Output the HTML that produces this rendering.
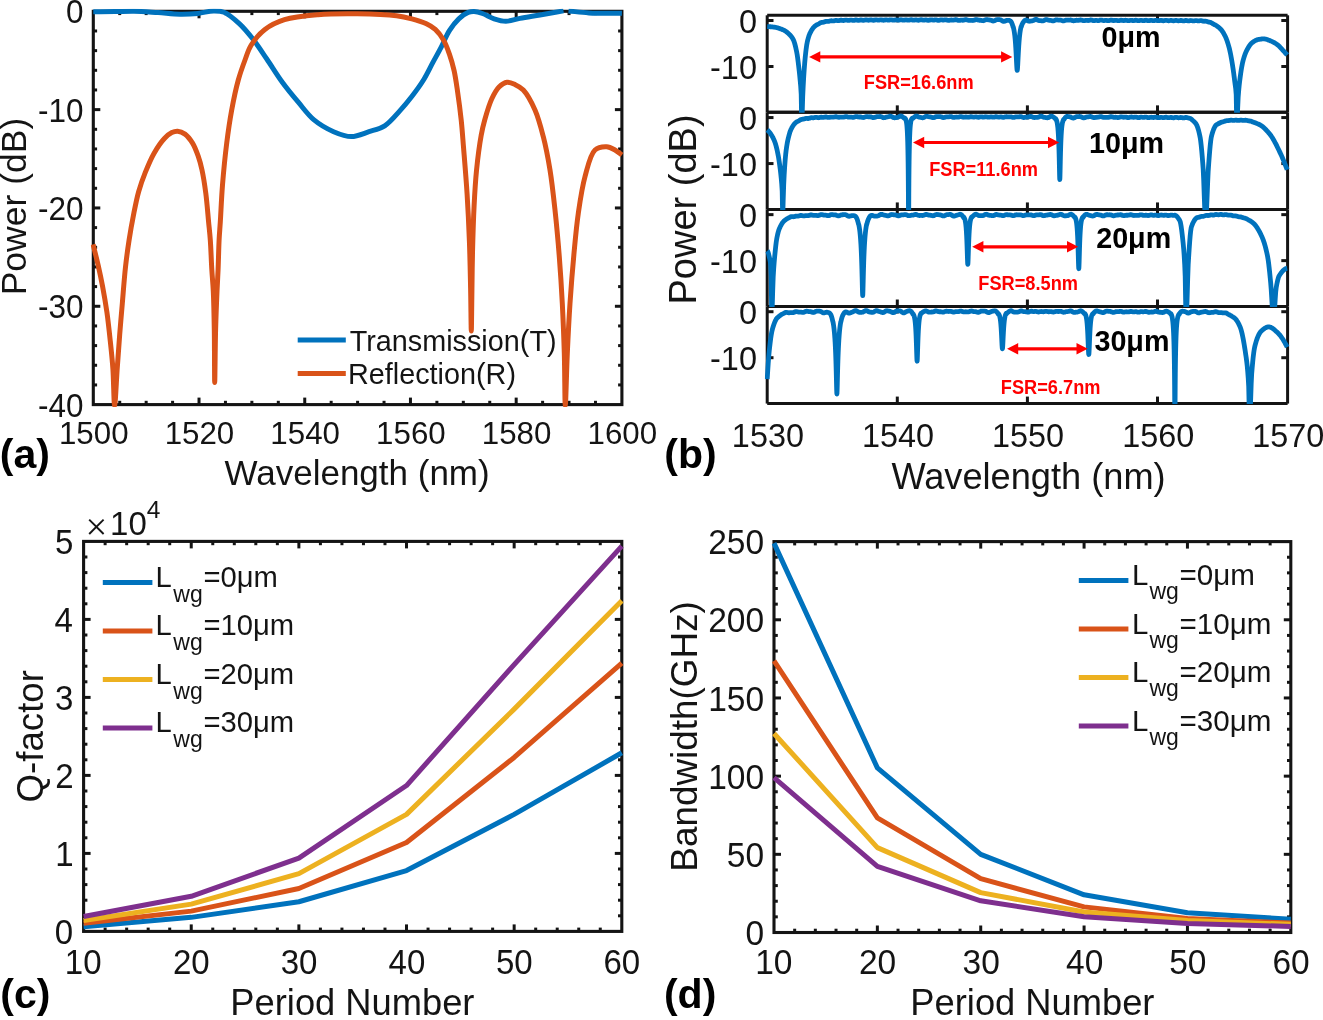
<!DOCTYPE html>
<html><head><meta charset="utf-8"><style>html,body{margin:0;padding:0;background:#fff;overflow:hidden}svg{display:block;will-change:transform}</style></head>
<body>
<svg width="1323" height="1020" viewBox="0 0 1323 1020" font-family="'Liberation Sans', sans-serif">
<defs><clipPath id="c1"><rect x="90.80" y="8.80" width="533.60" height="398.30"/></clipPath><clipPath id="c2"><rect x="90.80" y="8.80" width="533.60" height="398.30"/></clipPath><clipPath id="c3"><rect x="764.70" y="12.80" width="525.40" height="100.07"/></clipPath><clipPath id="c4"><rect x="764.70" y="109.87" width="525.40" height="100.07"/></clipPath><clipPath id="c5"><rect x="764.70" y="206.94" width="525.40" height="100.07"/></clipPath><clipPath id="c6"><rect x="764.70" y="304.01" width="525.40" height="100.07"/></clipPath><clipPath id="c7"><rect x="81.10" y="538.90" width="543.20" height="395.00"/></clipPath><clipPath id="c8"><rect x="81.10" y="538.90" width="543.20" height="395.00"/></clipPath><clipPath id="c9"><rect x="81.10" y="538.90" width="543.20" height="395.00"/></clipPath><clipPath id="c10"><rect x="81.10" y="538.90" width="543.20" height="395.00"/></clipPath><clipPath id="c11"><rect x="771.50" y="539.10" width="521.80" height="395.90"/></clipPath><clipPath id="c12"><rect x="771.50" y="539.10" width="521.80" height="395.90"/></clipPath><clipPath id="c13"><rect x="771.50" y="539.10" width="521.80" height="395.90"/></clipPath><clipPath id="c14"><rect x="771.50" y="539.10" width="521.80" height="395.90"/></clipPath></defs>
<rect width="1323" height="1020" fill="#ffffff"/>
<rect x="93.30" y="11.30" width="528.60" height="393.30" fill="none" stroke="#141414" stroke-width="3.1" stroke-linejoin="miter"/>
<line x1="199.02" y1="404.60" x2="199.02" y2="397.60" stroke="#141414" stroke-width="3.0" stroke-linecap="butt"/>
<line x1="199.02" y1="11.30" x2="199.02" y2="18.30" stroke="#141414" stroke-width="3.0" stroke-linecap="butt"/>
<line x1="304.74" y1="404.60" x2="304.74" y2="397.60" stroke="#141414" stroke-width="3.0" stroke-linecap="butt"/>
<line x1="304.74" y1="11.30" x2="304.74" y2="18.30" stroke="#141414" stroke-width="3.0" stroke-linecap="butt"/>
<line x1="410.46" y1="404.60" x2="410.46" y2="397.60" stroke="#141414" stroke-width="3.0" stroke-linecap="butt"/>
<line x1="410.46" y1="11.30" x2="410.46" y2="18.30" stroke="#141414" stroke-width="3.0" stroke-linecap="butt"/>
<line x1="516.18" y1="404.60" x2="516.18" y2="397.60" stroke="#141414" stroke-width="3.0" stroke-linecap="butt"/>
<line x1="516.18" y1="11.30" x2="516.18" y2="18.30" stroke="#141414" stroke-width="3.0" stroke-linecap="butt"/>
<line x1="119.73" y1="404.60" x2="119.73" y2="400.80" stroke="#141414" stroke-width="3.0" stroke-linecap="butt"/>
<line x1="119.73" y1="11.30" x2="119.73" y2="15.10" stroke="#141414" stroke-width="3.0" stroke-linecap="butt"/>
<line x1="146.16" y1="404.60" x2="146.16" y2="400.80" stroke="#141414" stroke-width="3.0" stroke-linecap="butt"/>
<line x1="146.16" y1="11.30" x2="146.16" y2="15.10" stroke="#141414" stroke-width="3.0" stroke-linecap="butt"/>
<line x1="172.59" y1="404.60" x2="172.59" y2="400.80" stroke="#141414" stroke-width="3.0" stroke-linecap="butt"/>
<line x1="172.59" y1="11.30" x2="172.59" y2="15.10" stroke="#141414" stroke-width="3.0" stroke-linecap="butt"/>
<line x1="225.45" y1="404.60" x2="225.45" y2="400.80" stroke="#141414" stroke-width="3.0" stroke-linecap="butt"/>
<line x1="225.45" y1="11.30" x2="225.45" y2="15.10" stroke="#141414" stroke-width="3.0" stroke-linecap="butt"/>
<line x1="251.88" y1="404.60" x2="251.88" y2="400.80" stroke="#141414" stroke-width="3.0" stroke-linecap="butt"/>
<line x1="251.88" y1="11.30" x2="251.88" y2="15.10" stroke="#141414" stroke-width="3.0" stroke-linecap="butt"/>
<line x1="278.31" y1="404.60" x2="278.31" y2="400.80" stroke="#141414" stroke-width="3.0" stroke-linecap="butt"/>
<line x1="278.31" y1="11.30" x2="278.31" y2="15.10" stroke="#141414" stroke-width="3.0" stroke-linecap="butt"/>
<line x1="331.17" y1="404.60" x2="331.17" y2="400.80" stroke="#141414" stroke-width="3.0" stroke-linecap="butt"/>
<line x1="331.17" y1="11.30" x2="331.17" y2="15.10" stroke="#141414" stroke-width="3.0" stroke-linecap="butt"/>
<line x1="357.60" y1="404.60" x2="357.60" y2="400.80" stroke="#141414" stroke-width="3.0" stroke-linecap="butt"/>
<line x1="357.60" y1="11.30" x2="357.60" y2="15.10" stroke="#141414" stroke-width="3.0" stroke-linecap="butt"/>
<line x1="384.03" y1="404.60" x2="384.03" y2="400.80" stroke="#141414" stroke-width="3.0" stroke-linecap="butt"/>
<line x1="384.03" y1="11.30" x2="384.03" y2="15.10" stroke="#141414" stroke-width="3.0" stroke-linecap="butt"/>
<line x1="436.89" y1="404.60" x2="436.89" y2="400.80" stroke="#141414" stroke-width="3.0" stroke-linecap="butt"/>
<line x1="436.89" y1="11.30" x2="436.89" y2="15.10" stroke="#141414" stroke-width="3.0" stroke-linecap="butt"/>
<line x1="463.32" y1="404.60" x2="463.32" y2="400.80" stroke="#141414" stroke-width="3.0" stroke-linecap="butt"/>
<line x1="463.32" y1="11.30" x2="463.32" y2="15.10" stroke="#141414" stroke-width="3.0" stroke-linecap="butt"/>
<line x1="489.75" y1="404.60" x2="489.75" y2="400.80" stroke="#141414" stroke-width="3.0" stroke-linecap="butt"/>
<line x1="489.75" y1="11.30" x2="489.75" y2="15.10" stroke="#141414" stroke-width="3.0" stroke-linecap="butt"/>
<line x1="542.61" y1="404.60" x2="542.61" y2="400.80" stroke="#141414" stroke-width="3.0" stroke-linecap="butt"/>
<line x1="542.61" y1="11.30" x2="542.61" y2="15.10" stroke="#141414" stroke-width="3.0" stroke-linecap="butt"/>
<line x1="569.04" y1="404.60" x2="569.04" y2="400.80" stroke="#141414" stroke-width="3.0" stroke-linecap="butt"/>
<line x1="569.04" y1="11.30" x2="569.04" y2="15.10" stroke="#141414" stroke-width="3.0" stroke-linecap="butt"/>
<line x1="595.47" y1="404.60" x2="595.47" y2="400.80" stroke="#141414" stroke-width="3.0" stroke-linecap="butt"/>
<line x1="595.47" y1="11.30" x2="595.47" y2="15.10" stroke="#141414" stroke-width="3.0" stroke-linecap="butt"/>
<line x1="93.30" y1="306.28" x2="100.30" y2="306.28" stroke="#141414" stroke-width="3.0" stroke-linecap="butt"/>
<line x1="621.90" y1="306.28" x2="614.90" y2="306.28" stroke="#141414" stroke-width="3.0" stroke-linecap="butt"/>
<line x1="93.30" y1="207.95" x2="100.30" y2="207.95" stroke="#141414" stroke-width="3.0" stroke-linecap="butt"/>
<line x1="621.90" y1="207.95" x2="614.90" y2="207.95" stroke="#141414" stroke-width="3.0" stroke-linecap="butt"/>
<line x1="93.30" y1="109.62" x2="100.30" y2="109.62" stroke="#141414" stroke-width="3.0" stroke-linecap="butt"/>
<line x1="621.90" y1="109.62" x2="614.90" y2="109.62" stroke="#141414" stroke-width="3.0" stroke-linecap="butt"/>
<line x1="93.30" y1="384.94" x2="97.10" y2="384.94" stroke="#141414" stroke-width="3.0" stroke-linecap="butt"/>
<line x1="621.90" y1="384.94" x2="618.10" y2="384.94" stroke="#141414" stroke-width="3.0" stroke-linecap="butt"/>
<line x1="93.30" y1="365.27" x2="97.10" y2="365.27" stroke="#141414" stroke-width="3.0" stroke-linecap="butt"/>
<line x1="621.90" y1="365.27" x2="618.10" y2="365.27" stroke="#141414" stroke-width="3.0" stroke-linecap="butt"/>
<line x1="93.30" y1="345.61" x2="97.10" y2="345.61" stroke="#141414" stroke-width="3.0" stroke-linecap="butt"/>
<line x1="621.90" y1="345.61" x2="618.10" y2="345.61" stroke="#141414" stroke-width="3.0" stroke-linecap="butt"/>
<line x1="93.30" y1="325.94" x2="97.10" y2="325.94" stroke="#141414" stroke-width="3.0" stroke-linecap="butt"/>
<line x1="621.90" y1="325.94" x2="618.10" y2="325.94" stroke="#141414" stroke-width="3.0" stroke-linecap="butt"/>
<line x1="93.30" y1="286.61" x2="97.10" y2="286.61" stroke="#141414" stroke-width="3.0" stroke-linecap="butt"/>
<line x1="621.90" y1="286.61" x2="618.10" y2="286.61" stroke="#141414" stroke-width="3.0" stroke-linecap="butt"/>
<line x1="93.30" y1="266.95" x2="97.10" y2="266.95" stroke="#141414" stroke-width="3.0" stroke-linecap="butt"/>
<line x1="621.90" y1="266.95" x2="618.10" y2="266.95" stroke="#141414" stroke-width="3.0" stroke-linecap="butt"/>
<line x1="93.30" y1="247.28" x2="97.10" y2="247.28" stroke="#141414" stroke-width="3.0" stroke-linecap="butt"/>
<line x1="621.90" y1="247.28" x2="618.10" y2="247.28" stroke="#141414" stroke-width="3.0" stroke-linecap="butt"/>
<line x1="93.30" y1="227.62" x2="97.10" y2="227.62" stroke="#141414" stroke-width="3.0" stroke-linecap="butt"/>
<line x1="621.90" y1="227.62" x2="618.10" y2="227.62" stroke="#141414" stroke-width="3.0" stroke-linecap="butt"/>
<line x1="93.30" y1="188.28" x2="97.10" y2="188.28" stroke="#141414" stroke-width="3.0" stroke-linecap="butt"/>
<line x1="621.90" y1="188.28" x2="618.10" y2="188.28" stroke="#141414" stroke-width="3.0" stroke-linecap="butt"/>
<line x1="93.30" y1="168.62" x2="97.10" y2="168.62" stroke="#141414" stroke-width="3.0" stroke-linecap="butt"/>
<line x1="621.90" y1="168.62" x2="618.10" y2="168.62" stroke="#141414" stroke-width="3.0" stroke-linecap="butt"/>
<line x1="93.30" y1="148.96" x2="97.10" y2="148.96" stroke="#141414" stroke-width="3.0" stroke-linecap="butt"/>
<line x1="621.90" y1="148.96" x2="618.10" y2="148.96" stroke="#141414" stroke-width="3.0" stroke-linecap="butt"/>
<line x1="93.30" y1="129.29" x2="97.10" y2="129.29" stroke="#141414" stroke-width="3.0" stroke-linecap="butt"/>
<line x1="621.90" y1="129.29" x2="618.10" y2="129.29" stroke="#141414" stroke-width="3.0" stroke-linecap="butt"/>
<line x1="93.30" y1="89.96" x2="97.10" y2="89.96" stroke="#141414" stroke-width="3.0" stroke-linecap="butt"/>
<line x1="621.90" y1="89.96" x2="618.10" y2="89.96" stroke="#141414" stroke-width="3.0" stroke-linecap="butt"/>
<line x1="93.30" y1="70.30" x2="97.10" y2="70.30" stroke="#141414" stroke-width="3.0" stroke-linecap="butt"/>
<line x1="621.90" y1="70.30" x2="618.10" y2="70.30" stroke="#141414" stroke-width="3.0" stroke-linecap="butt"/>
<line x1="93.30" y1="50.63" x2="97.10" y2="50.63" stroke="#141414" stroke-width="3.0" stroke-linecap="butt"/>
<line x1="621.90" y1="50.63" x2="618.10" y2="50.63" stroke="#141414" stroke-width="3.0" stroke-linecap="butt"/>
<line x1="93.30" y1="30.97" x2="97.10" y2="30.97" stroke="#141414" stroke-width="3.0" stroke-linecap="butt"/>
<line x1="621.90" y1="30.97" x2="618.10" y2="30.97" stroke="#141414" stroke-width="3.0" stroke-linecap="butt"/>
<text transform="translate(58.91,443.80) scale(0.972,1)" x="0" y="0" font-size="32.2" fill="#141414">1500</text>
<text transform="translate(164.63,443.80) scale(0.972,1)" x="0" y="0" font-size="32.2" fill="#141414">1520</text>
<text transform="translate(270.35,443.80) scale(0.972,1)" x="0" y="0" font-size="32.2" fill="#141414">1540</text>
<text transform="translate(376.07,443.80) scale(0.972,1)" x="0" y="0" font-size="32.2" fill="#141414">1560</text>
<text transform="translate(481.79,443.80) scale(0.972,1)" x="0" y="0" font-size="32.2" fill="#141414">1580</text>
<text transform="translate(587.51,443.80) scale(0.972,1)" x="0" y="0" font-size="32.2" fill="#141414">1600</text>
<text transform="translate(37.91,416.55) scale(0.972,1)" x="0" y="0" font-size="32.4" fill="#141414">-40</text>
<text transform="translate(37.91,318.23) scale(0.972,1)" x="0" y="0" font-size="32.4" fill="#141414">-30</text>
<text transform="translate(37.91,219.90) scale(0.972,1)" x="0" y="0" font-size="32.4" fill="#141414">-20</text>
<text transform="translate(37.91,121.58) scale(0.972,1)" x="0" y="0" font-size="32.4" fill="#141414">-10</text>
<text transform="translate(65.92,23.25) scale(0.972,1)" x="0" y="0" font-size="32.4" fill="#141414">0</text>
<text x="224.47" y="484.90" font-size="35.0" fill="#141414">Wavelength (nm)</text>
<text transform="translate(25.90,206.20) rotate(-90)" x="-89.13" y="0" font-size="35.5" fill="#141414">Power (dB)</text>
<text x="-0.24" y="468.10" font-size="41.0" fill="#000" font-weight="bold">(a)</text>
<path d="M93.30,11.80 C100.53,11.73 108.01,11.71 115.00,11.60 C121.54,11.50 127.30,11.08 134.00,11.20 C141.54,11.34 150.18,12.09 158.00,12.60 C165.49,13.09 173.03,14.10 180.00,14.20 C186.30,14.29 192.24,13.99 198.00,13.40 C203.38,12.85 208.83,10.99 213.50,10.90 C217.33,10.83 220.37,10.74 224.00,12.20 C228.87,14.16 234.54,19.21 239.30,23.60 C244.28,28.19 248.66,33.63 253.10,39.30 C257.85,45.37 262.11,52.12 266.80,59.00 C271.89,66.47 277.09,75.12 282.50,82.50 C287.61,89.47 292.96,95.87 298.30,102.20 C303.47,108.32 308.06,114.96 314.00,119.90 C319.85,124.76 327.04,128.88 333.60,131.70 C339.48,134.23 345.40,136.60 351.30,136.60 C357.20,136.60 363.32,133.55 369.00,131.70 C374.43,129.93 379.81,128.94 384.70,125.80 C390.24,122.24 395.34,115.68 400.00,110.60 C404.31,105.91 407.97,101.47 411.80,96.50 C415.82,91.29 419.97,85.70 423.50,80.00 C427.00,74.33 429.86,68.06 432.90,62.40 C435.74,57.12 438.49,52.32 441.20,47.10 C443.99,41.73 446.28,35.49 449.40,30.60 C452.22,26.17 455.41,21.94 458.80,18.80 C461.74,16.07 465.31,13.54 468.20,12.40 C470.29,11.58 471.98,11.41 474.10,11.50 C476.64,11.61 479.45,12.49 482.40,13.50 C486.02,14.74 490.12,17.51 494.10,18.80 C497.96,20.05 501.79,21.19 505.90,21.20 C510.39,21.21 514.88,19.34 520.00,18.40 C526.08,17.28 533.07,16.19 540.00,15.00 C547.52,13.70 555.67,12.27 563.50,10.90 M568.50,10.90 C575.30,11.57 581.28,12.48 588.90,12.90 C598.57,13.43 610.90,13.17 621.90,13.30" fill="none" stroke="#0072BD" stroke-width="5.0" stroke-linejoin="round" stroke-linecap="butt" clip-path="url(#c1)"/>
<path d="M93.10,244.40 C94.83,251.57 96.70,258.80 98.30,265.90 C99.86,272.83 101.24,279.24 102.60,286.50 C104.12,294.58 105.64,303.35 106.90,312.20 C108.23,321.58 109.29,331.73 110.30,341.30 C111.28,350.59 112.21,358.96 112.90,368.80 C113.70,380.14 113.88,405.49 114.60,405.50 C115.32,405.51 116.34,380.83 117.20,368.80 C118.04,357.17 118.83,345.63 119.70,334.50 C120.53,323.93 121.38,314.33 122.30,303.60 C123.30,291.92 124.26,278.26 125.50,267.00 C126.57,257.30 127.74,248.81 129.10,240.00 C130.42,231.49 131.87,223.19 133.50,215.00 C135.08,207.03 136.62,198.87 138.70,191.50 C140.61,184.75 142.77,178.71 145.30,172.40 C147.89,165.94 150.76,159.04 154.10,153.20 C157.18,147.82 160.99,142.13 164.40,138.50 C166.88,135.86 169.35,133.80 171.80,132.60 C173.74,131.65 175.57,131.06 177.60,131.20 C179.94,131.36 182.72,132.47 185.00,134.10 C187.74,136.07 190.28,139.49 192.40,142.90 C194.78,146.73 196.60,151.67 198.20,156.20 C199.79,160.70 200.86,164.77 202.00,170.00 C203.47,176.72 204.73,185.11 205.80,193.30 C206.98,202.35 207.79,213.54 208.60,222.00 C209.24,228.70 209.81,233.26 210.30,240.00 C210.93,248.60 211.26,260.30 211.80,269.40 C212.27,277.29 212.91,283.11 213.30,291.50 C213.82,302.56 214.07,316.17 214.30,330.00 C214.57,346.14 214.48,382.50 214.70,382.50 C214.92,382.50 215.17,346.14 215.60,330.00 C215.97,316.17 216.52,302.56 217.00,291.50 C217.36,283.12 217.77,277.29 218.10,269.40 C218.48,260.30 218.67,248.60 219.10,240.00 C219.44,233.26 219.85,229.07 220.30,222.00 C220.94,211.87 221.48,197.69 222.50,185.00 C223.58,171.50 225.06,156.40 226.70,143.30 C228.17,131.56 229.71,120.78 231.70,110.00 C233.60,99.71 235.83,88.93 238.30,80.00 C240.35,72.60 242.71,66.13 245.00,60.00 C246.99,54.66 248.14,49.97 251.10,45.20 C254.49,39.75 259.42,33.72 264.90,29.50 C270.51,25.18 276.88,22.11 284.50,19.70 C293.96,16.71 306.28,15.70 317.90,14.70 C330.44,13.62 344.10,13.63 357.20,13.80 C370.30,13.97 386.47,14.45 396.50,15.70 C402.82,16.49 406.84,17.48 411.80,18.80 C416.64,20.09 421.78,21.55 425.90,23.50 C429.46,25.18 432.47,26.84 435.30,29.40 C438.40,32.21 441.20,36.05 443.50,40.00 C445.96,44.22 447.67,49.16 449.40,54.10 C451.23,59.33 452.78,64.72 454.10,70.60 C455.58,77.19 456.49,84.22 457.60,91.80 C458.88,100.52 460.21,110.69 461.20,120.00 C462.17,129.09 462.67,136.75 463.50,147.00 C464.59,160.53 466.12,178.39 467.10,194.10 C468.08,209.79 468.82,225.50 469.40,241.20 C469.98,256.87 470.28,272.90 470.60,288.20 C470.91,302.80 471.09,331.00 471.30,331.00 C471.48,331.00 471.62,311.40 471.80,300.00 C472.02,285.96 472.12,268.67 472.50,253.00 C472.88,237.31 473.36,220.46 474.10,205.90 C474.74,193.28 475.32,182.35 476.50,170.60 C477.68,158.81 479.52,144.61 481.20,135.30 C482.32,129.12 483.16,125.47 484.70,120.00 C486.54,113.47 489.05,104.71 491.80,98.80 C493.96,94.15 496.14,89.84 499.00,87.00 C501.35,84.66 504.23,82.55 507.00,82.20 C509.67,81.87 512.65,83.45 515.30,84.70 C518.09,86.01 520.69,87.25 523.30,90.00 C527.35,94.28 531.76,102.65 535.00,110.00 C538.56,118.07 540.89,127.24 543.30,136.70 C545.96,147.12 548.10,158.35 550.00,170.00 C552.07,182.69 553.50,196.14 555.00,210.00 C556.62,224.95 558.08,241.13 559.30,256.70 C560.51,272.23 561.47,287.49 562.30,303.30 C563.15,319.67 563.80,336.45 564.30,353.30 C564.81,370.51 564.80,405.50 565.30,405.50 C565.80,405.50 566.51,370.51 567.30,353.30 C568.08,336.45 568.88,319.96 570.00,303.30 C571.12,286.63 572.53,269.03 574.00,253.30 C575.32,239.21 576.41,226.30 578.30,213.30 C580.11,200.79 581.93,187.82 585.00,176.70 C587.69,166.97 590.07,154.53 595.00,150.00 C598.22,147.04 603.16,146.52 606.70,146.70 C609.73,146.86 612.44,148.59 615.00,150.00 C617.50,151.37 619.60,153.33 621.90,155.00" fill="none" stroke="#D95319" stroke-width="5.0" stroke-linejoin="round" stroke-linecap="butt" clip-path="url(#c2)"/>
<line x1="297.70" y1="340.00" x2="345.80" y2="340.00" stroke="#0072BD" stroke-width="5.0" stroke-linecap="butt"/>
<line x1="297.70" y1="373.50" x2="345.80" y2="373.50" stroke="#D95319" stroke-width="5.0" stroke-linecap="butt"/>
<text x="349.65" y="350.80" font-size="28.8" fill="#141414">Transmission(T)</text>
<text x="347.94" y="383.70" font-size="28.8" fill="#141414">Reflection(R)</text>
<line x1="767.20" y1="15.30" x2="1287.60" y2="15.30" stroke="#141414" stroke-width="3.0" stroke-linecap="butt"/>
<line x1="767.20" y1="112.37" x2="1287.60" y2="112.37" stroke="#141414" stroke-width="3.0" stroke-linecap="butt"/>
<line x1="767.20" y1="15.30" x2="767.20" y2="112.37" stroke="#141414" stroke-width="3.0" stroke-linecap="butt"/>
<line x1="1287.60" y1="15.30" x2="1287.60" y2="112.37" stroke="#141414" stroke-width="3.0" stroke-linecap="butt"/>
<line x1="767.20" y1="112.37" x2="1287.60" y2="112.37" stroke="#141414" stroke-width="3.0" stroke-linecap="butt"/>
<line x1="767.20" y1="209.44" x2="1287.60" y2="209.44" stroke="#141414" stroke-width="3.0" stroke-linecap="butt"/>
<line x1="767.20" y1="112.37" x2="767.20" y2="209.44" stroke="#141414" stroke-width="3.0" stroke-linecap="butt"/>
<line x1="1287.60" y1="112.37" x2="1287.60" y2="209.44" stroke="#141414" stroke-width="3.0" stroke-linecap="butt"/>
<line x1="767.20" y1="209.44" x2="1287.60" y2="209.44" stroke="#141414" stroke-width="3.0" stroke-linecap="butt"/>
<line x1="767.20" y1="306.51" x2="1287.60" y2="306.51" stroke="#141414" stroke-width="3.0" stroke-linecap="butt"/>
<line x1="767.20" y1="209.44" x2="767.20" y2="306.51" stroke="#141414" stroke-width="3.0" stroke-linecap="butt"/>
<line x1="1287.60" y1="209.44" x2="1287.60" y2="306.51" stroke="#141414" stroke-width="3.0" stroke-linecap="butt"/>
<line x1="767.20" y1="306.51" x2="1287.60" y2="306.51" stroke="#141414" stroke-width="3.0" stroke-linecap="butt"/>
<line x1="767.20" y1="403.58" x2="1287.60" y2="403.58" stroke="#141414" stroke-width="3.0" stroke-linecap="butt"/>
<line x1="767.20" y1="306.51" x2="767.20" y2="403.58" stroke="#141414" stroke-width="3.0" stroke-linecap="butt"/>
<line x1="1287.60" y1="306.51" x2="1287.60" y2="403.58" stroke="#141414" stroke-width="3.0" stroke-linecap="butt"/>
<line x1="897.30" y1="112.37" x2="897.30" y2="105.37" stroke="#141414" stroke-width="3.0" stroke-linecap="butt"/>
<line x1="897.30" y1="15.30" x2="897.30" y2="22.30" stroke="#141414" stroke-width="3.0" stroke-linecap="butt"/>
<line x1="1027.40" y1="112.37" x2="1027.40" y2="105.37" stroke="#141414" stroke-width="3.0" stroke-linecap="butt"/>
<line x1="1027.40" y1="15.30" x2="1027.40" y2="22.30" stroke="#141414" stroke-width="3.0" stroke-linecap="butt"/>
<line x1="1157.50" y1="112.37" x2="1157.50" y2="105.37" stroke="#141414" stroke-width="3.0" stroke-linecap="butt"/>
<line x1="1157.50" y1="15.30" x2="1157.50" y2="22.30" stroke="#141414" stroke-width="3.0" stroke-linecap="butt"/>
<line x1="767.20" y1="20.50" x2="773.50" y2="20.50" stroke="#141414" stroke-width="3.0" stroke-linecap="butt"/>
<line x1="1287.60" y1="20.50" x2="1281.30" y2="20.50" stroke="#141414" stroke-width="3.0" stroke-linecap="butt"/>
<line x1="767.20" y1="66.50" x2="773.50" y2="66.50" stroke="#141414" stroke-width="3.0" stroke-linecap="butt"/>
<line x1="1287.60" y1="66.50" x2="1281.30" y2="66.50" stroke="#141414" stroke-width="3.0" stroke-linecap="butt"/>
<text transform="translate(738.91,33.20) scale(0.955,1)" x="0" y="0" font-size="34.0" fill="#141414">0</text>
<text transform="translate(710.04,79.00) scale(0.955,1)" x="0" y="0" font-size="34.0" fill="#141414">-10</text>
<line x1="897.30" y1="209.44" x2="897.30" y2="202.44" stroke="#141414" stroke-width="3.0" stroke-linecap="butt"/>
<line x1="897.30" y1="112.37" x2="897.30" y2="119.37" stroke="#141414" stroke-width="3.0" stroke-linecap="butt"/>
<line x1="1027.40" y1="209.44" x2="1027.40" y2="202.44" stroke="#141414" stroke-width="3.0" stroke-linecap="butt"/>
<line x1="1027.40" y1="112.37" x2="1027.40" y2="119.37" stroke="#141414" stroke-width="3.0" stroke-linecap="butt"/>
<line x1="1157.50" y1="209.44" x2="1157.50" y2="202.44" stroke="#141414" stroke-width="3.0" stroke-linecap="butt"/>
<line x1="1157.50" y1="112.37" x2="1157.50" y2="119.37" stroke="#141414" stroke-width="3.0" stroke-linecap="butt"/>
<line x1="767.20" y1="117.57" x2="773.50" y2="117.57" stroke="#141414" stroke-width="3.0" stroke-linecap="butt"/>
<line x1="1287.60" y1="117.57" x2="1281.30" y2="117.57" stroke="#141414" stroke-width="3.0" stroke-linecap="butt"/>
<line x1="767.20" y1="163.57" x2="773.50" y2="163.57" stroke="#141414" stroke-width="3.0" stroke-linecap="butt"/>
<line x1="1287.60" y1="163.57" x2="1281.30" y2="163.57" stroke="#141414" stroke-width="3.0" stroke-linecap="butt"/>
<text transform="translate(738.91,130.27) scale(0.955,1)" x="0" y="0" font-size="34.0" fill="#141414">0</text>
<text transform="translate(710.04,176.07) scale(0.955,1)" x="0" y="0" font-size="34.0" fill="#141414">-10</text>
<line x1="897.30" y1="306.51" x2="897.30" y2="299.51" stroke="#141414" stroke-width="3.0" stroke-linecap="butt"/>
<line x1="897.30" y1="209.44" x2="897.30" y2="216.44" stroke="#141414" stroke-width="3.0" stroke-linecap="butt"/>
<line x1="1027.40" y1="306.51" x2="1027.40" y2="299.51" stroke="#141414" stroke-width="3.0" stroke-linecap="butt"/>
<line x1="1027.40" y1="209.44" x2="1027.40" y2="216.44" stroke="#141414" stroke-width="3.0" stroke-linecap="butt"/>
<line x1="1157.50" y1="306.51" x2="1157.50" y2="299.51" stroke="#141414" stroke-width="3.0" stroke-linecap="butt"/>
<line x1="1157.50" y1="209.44" x2="1157.50" y2="216.44" stroke="#141414" stroke-width="3.0" stroke-linecap="butt"/>
<line x1="767.20" y1="214.64" x2="773.50" y2="214.64" stroke="#141414" stroke-width="3.0" stroke-linecap="butt"/>
<line x1="1287.60" y1="214.64" x2="1281.30" y2="214.64" stroke="#141414" stroke-width="3.0" stroke-linecap="butt"/>
<line x1="767.20" y1="260.64" x2="773.50" y2="260.64" stroke="#141414" stroke-width="3.0" stroke-linecap="butt"/>
<line x1="1287.60" y1="260.64" x2="1281.30" y2="260.64" stroke="#141414" stroke-width="3.0" stroke-linecap="butt"/>
<text transform="translate(738.91,227.34) scale(0.955,1)" x="0" y="0" font-size="34.0" fill="#141414">0</text>
<text transform="translate(710.04,273.14) scale(0.955,1)" x="0" y="0" font-size="34.0" fill="#141414">-10</text>
<line x1="897.30" y1="403.58" x2="897.30" y2="396.58" stroke="#141414" stroke-width="3.0" stroke-linecap="butt"/>
<line x1="897.30" y1="306.51" x2="897.30" y2="313.51" stroke="#141414" stroke-width="3.0" stroke-linecap="butt"/>
<line x1="1027.40" y1="403.58" x2="1027.40" y2="396.58" stroke="#141414" stroke-width="3.0" stroke-linecap="butt"/>
<line x1="1027.40" y1="306.51" x2="1027.40" y2="313.51" stroke="#141414" stroke-width="3.0" stroke-linecap="butt"/>
<line x1="1157.50" y1="403.58" x2="1157.50" y2="396.58" stroke="#141414" stroke-width="3.0" stroke-linecap="butt"/>
<line x1="1157.50" y1="306.51" x2="1157.50" y2="313.51" stroke="#141414" stroke-width="3.0" stroke-linecap="butt"/>
<line x1="767.20" y1="311.71" x2="773.50" y2="311.71" stroke="#141414" stroke-width="3.0" stroke-linecap="butt"/>
<line x1="1287.60" y1="311.71" x2="1281.30" y2="311.71" stroke="#141414" stroke-width="3.0" stroke-linecap="butt"/>
<line x1="767.20" y1="357.71" x2="773.50" y2="357.71" stroke="#141414" stroke-width="3.0" stroke-linecap="butt"/>
<line x1="1287.60" y1="357.71" x2="1281.30" y2="357.71" stroke="#141414" stroke-width="3.0" stroke-linecap="butt"/>
<text transform="translate(738.91,324.41) scale(0.955,1)" x="0" y="0" font-size="34.0" fill="#141414">0</text>
<text transform="translate(710.04,370.21) scale(0.955,1)" x="0" y="0" font-size="34.0" fill="#141414">-10</text>
<text transform="translate(731.86,446.60) scale(0.953,1)" x="0" y="0" font-size="34.0" fill="#141414">1530</text>
<text transform="translate(861.96,446.60) scale(0.953,1)" x="0" y="0" font-size="34.0" fill="#141414">1540</text>
<text transform="translate(992.06,446.60) scale(0.953,1)" x="0" y="0" font-size="34.0" fill="#141414">1550</text>
<text transform="translate(1122.16,446.60) scale(0.953,1)" x="0" y="0" font-size="34.0" fill="#141414">1560</text>
<text transform="translate(1252.26,446.60) scale(0.953,1)" x="0" y="0" font-size="34.0" fill="#141414">1570</text>
<text x="891.43" y="488.80" font-size="36.2" fill="#141414">Wavelength (nm)</text>
<text transform="translate(695.60,209.10) rotate(-90)" x="-95.41" y="0" font-size="38.0" fill="#141414">Power (dB)</text>
<text x="664.36" y="467.80" font-size="41.0" fill="#000" font-weight="bold">(b)</text>
<path d="M767.20,26.60 L767.70,26.62 L768.20,26.64 L768.70,26.66 L769.20,26.68 L769.70,26.70 L770.20,26.73 L770.70,26.76 L771.20,26.81 L771.70,26.86 L772.20,26.92 L772.70,26.98 L773.20,27.04 L773.70,27.10 L774.20,27.15 L774.70,27.22 L775.20,27.31 L775.70,27.40 L776.20,27.51 L776.70,27.63 L777.20,27.75 L777.70,27.89 L778.20,28.03 L778.70,28.19 L779.20,28.35 L779.70,28.52 L780.20,28.70 L780.70,28.89 L781.20,29.08 L781.70,29.28 L782.20,29.49 L782.70,29.70 L783.20,29.92 L783.70,30.15 L784.20,30.39 L784.70,30.66 L785.20,30.96 L785.70,31.29 L786.20,31.64 L786.70,32.02 L787.20,32.41 L787.70,32.83 L788.20,33.27 L788.70,33.73 L789.20,34.21 L789.70,34.70 L790.20,35.22 L790.70,35.77 L791.20,36.37 L791.70,37.03 L792.20,37.76 L792.70,38.58 L793.20,39.50 L793.70,40.57 L794.20,41.90 L794.70,43.50 L795.20,45.34 L795.70,47.40 L796.20,49.66 L796.70,52.09 L797.20,54.89 L797.70,58.35 L798.20,62.28 L798.70,66.45 L799.20,70.77 L799.70,75.47 L800.20,80.83 L800.70,86.32 L801.20,94.23 L801.70,124.40 L802.20,113.42 L802.70,96.70 L803.20,86.02 L803.70,77.10 L804.20,69.58 L804.70,63.00 L805.20,57.50 L805.70,52.78 L806.20,48.55 L806.70,45.01 L807.20,42.33 L807.70,40.16 L808.20,38.24 L808.70,36.57 L809.20,35.12 L809.70,33.87 L810.20,32.80 L810.70,31.83 L811.20,30.91 L811.70,30.07 L812.20,29.28 L812.70,28.56 L813.20,27.91 L813.70,27.32 L814.20,26.81 L814.70,26.34 L815.20,25.92 L815.70,25.53 L816.20,25.17 L816.70,24.85 L817.20,24.58 L817.70,24.33 L818.20,24.09 L818.70,23.83 L819.20,23.55 L819.70,23.25 L820.20,22.96 L820.70,22.71 L821.20,22.52 L821.70,22.41 L822.20,22.35 L822.70,22.31 L823.20,22.25 L823.70,22.14 L824.20,21.99 L824.70,21.80 L825.20,21.61 L825.70,21.46 L826.20,21.37 L826.70,21.35 L827.20,21.38 L827.70,21.41 L828.20,21.41 L828.70,21.35 L829.20,21.23 L829.70,21.07 L830.20,20.90 L830.70,20.78 L831.20,20.74 L831.70,20.76 L832.20,20.83 L832.70,20.90 L833.20,20.94 L833.70,20.90 L834.20,20.80 L834.70,20.65 L835.20,20.51 L835.70,20.41 L836.20,20.38 L836.70,20.43 L837.20,20.52 L837.70,20.62 L838.20,20.67 L838.70,20.65 L839.20,20.56 L839.70,20.42 L840.20,20.29 L840.70,20.20 L841.20,20.19 L841.70,20.24 L842.20,20.34 L842.70,20.44 L843.20,20.50 L843.70,20.48 L844.20,20.40 L844.70,20.28 L845.20,20.16 L845.70,20.08 L846.20,20.08 L846.70,20.14 L847.20,20.25 L847.70,20.36 L848.20,20.43 L848.70,20.43 L849.20,20.36 L849.70,20.25 L850.20,20.13 L850.70,20.06 L851.20,20.06 L851.70,20.12 L852.20,20.23 L852.70,20.33 L853.20,20.39 L853.70,20.38 L854.20,20.30 L854.70,20.18 L855.20,20.06 L855.70,19.98 L856.20,19.98 L856.70,20.04 L857.20,20.15 L857.70,20.26 L858.20,20.33 L858.70,20.33 L859.20,20.26 L859.70,20.15 L860.20,20.04 L860.70,19.98 L861.20,19.98 L861.70,20.04 L862.20,20.15 L862.70,20.26 L863.20,20.32 L863.70,20.31 L864.20,20.24 L864.70,20.11 L865.20,19.99 L865.70,19.91 L866.20,19.91 L866.70,19.97 L867.20,20.07 L867.70,20.18 L868.20,20.24 L868.70,20.24 L869.20,20.18 L869.70,20.07 L870.20,19.97 L870.70,19.90 L871.20,19.91 L871.70,19.98 L872.20,20.09 L872.70,20.21 L873.20,20.27 L873.70,20.27 L874.20,20.19 L874.70,20.07 L875.20,19.95 L875.70,19.88 L876.20,19.86 L876.70,19.92 L877.20,20.02 L877.70,20.12 L878.20,20.18 L878.70,20.18 L879.20,20.11 L879.70,20.01 L880.20,19.90 L880.70,19.84 L881.20,19.85 L881.70,19.93 L882.20,20.05 L882.70,20.16 L883.20,20.24 L883.70,20.24 L884.20,20.17 L884.70,20.06 L885.20,19.94 L885.70,19.86 L886.20,19.85 L886.70,19.91 L887.20,20.00 L887.70,20.10 L888.20,20.15 L888.70,20.15 L889.20,20.07 L889.70,19.96 L890.20,19.86 L890.70,19.80 L891.20,19.81 L891.70,19.88 L892.20,20.01 L892.70,20.13 L893.20,20.21 L893.70,20.22 L894.20,20.16 L894.70,20.05 L895.20,19.94 L895.70,19.87 L896.20,19.86 L896.70,19.92 L897.20,20.01 L897.70,20.11 L898.20,20.16 L898.70,20.14 L899.20,20.06 L899.70,19.94 L900.20,19.83 L900.70,19.76 L901.20,19.77 L901.70,19.85 L902.20,19.97 L902.70,20.10 L903.20,20.18 L903.70,20.20 L904.20,20.15 L904.70,20.06 L905.20,19.96 L905.70,19.89 L906.20,19.89 L906.70,19.95 L907.20,20.05 L907.70,20.14 L908.20,20.19 L908.70,20.17 L909.20,20.08 L909.70,19.95 L910.20,19.83 L910.70,19.75 L911.20,19.75 L911.70,19.82 L912.20,19.94 L912.70,20.06 L913.20,20.15 L913.70,20.17 L914.20,20.13 L914.70,20.05 L915.20,19.96 L915.70,19.91 L916.20,19.92 L916.70,19.99 L917.20,20.10 L917.70,20.20 L918.20,20.25 L918.70,20.23 L919.20,20.13 L919.70,20.00 L920.20,19.86 L920.70,19.77 L921.20,19.75 L921.70,19.81 L922.20,19.91 L922.70,20.03 L923.20,20.11 L923.70,20.13 L924.20,20.09 L924.70,20.01 L925.20,19.94 L925.70,19.90 L926.20,19.93 L926.70,20.02 L927.20,20.14 L927.70,20.25 L928.20,20.32 L928.70,20.30 L929.20,20.21 L929.70,20.07 L930.20,19.93 L930.70,19.82 L931.20,19.79 L931.70,19.83 L932.20,19.92 L932.70,20.01 L933.20,20.08 L933.70,20.09 L934.20,20.04 L934.70,19.96 L935.20,19.89 L935.70,19.86 L936.20,19.91 L936.70,20.01 L937.20,20.16 L937.70,20.30 L938.20,20.38 L938.70,20.38 L939.20,20.30 L939.70,20.17 L940.20,20.03 L940.70,19.92 L941.20,19.87 L941.70,19.89 L942.20,19.96 L942.70,20.03 L943.20,20.07 L943.70,20.06 L944.20,19.99 L944.70,19.90 L945.20,19.82 L945.70,19.79 L946.20,19.84 L946.70,19.97 L947.20,20.13 L947.70,20.29 L948.20,20.41 L948.70,20.44 L949.20,20.39 L949.70,20.28 L950.20,20.15 L950.70,20.05 L951.20,20.00 L951.70,20.02 L952.20,20.06 L952.70,20.11 L953.20,20.12 L953.70,20.08 L954.20,19.98 L954.70,19.85 L955.20,19.74 L955.70,19.70 L956.20,19.74 L956.70,19.87 L957.20,20.05 L957.70,20.23 L958.20,20.37 L958.70,20.44 L959.20,20.43 L959.70,20.36 L960.20,20.26 L960.70,20.19 L961.20,20.16 L961.70,20.18 L962.20,20.23 L962.70,20.27 L963.20,20.25 L963.70,20.17 L964.20,20.03 L964.70,19.86 L965.20,19.71 L965.70,19.62 L966.20,19.63 L966.70,19.74 L967.20,19.91 L967.70,20.10 L968.20,20.26 L968.70,20.36 L969.20,20.39 L969.70,20.36 L970.20,20.32 L970.70,20.29 L971.20,20.31 L971.70,20.37 L972.20,20.44 L972.70,20.48 L973.20,20.46 L973.70,20.36 L974.20,20.18 L974.70,19.96 L975.20,19.76 L975.70,19.61 L976.20,19.57 L976.70,19.62 L977.20,19.75 L977.70,19.92 L978.20,20.07 L978.70,20.18 L979.20,20.23 L979.70,20.25 L980.20,20.26 L980.70,20.30 L981.20,20.39 L981.70,20.51 L982.20,20.64 L982.70,20.72 L983.20,20.73 L983.70,20.64 L984.20,20.44 L984.70,20.19 L985.20,19.94 L985.70,19.73 L986.20,19.61 L986.70,19.59 L987.20,19.65 L987.70,19.75 L988.20,19.85 L988.70,19.93 L989.20,19.98 L989.70,20.02 L990.20,20.07 L990.70,20.17 L991.20,20.33 L991.70,20.54 L992.20,20.76 L992.70,20.93 L993.20,21.01 L993.70,20.97 L994.20,20.81 L994.70,20.56 L995.20,20.28 L995.70,20.03 L996.20,19.84 L996.70,19.73 L997.20,19.70 L997.70,19.70 L998.20,19.72 L998.70,19.72 L999.20,19.71 L999.70,19.72 L1000.20,19.78 L1000.70,19.91 L1001.20,20.14 L1001.70,20.44 L1002.20,20.78 L1002.70,21.08 L1003.20,21.29 L1003.70,21.37 L1004.20,21.32 L1004.70,21.17 L1005.20,20.96 L1005.70,20.74 L1006.20,20.56 L1006.70,20.44 L1007.20,20.38 L1007.70,20.35 L1008.20,20.34 L1008.70,20.34 L1009.20,20.38 L1009.70,20.51 L1010.20,20.77 L1010.70,21.23 L1011.20,21.92 L1011.30,22.09 L1011.40,22.28 L1011.50,22.47 L1011.60,22.67 L1011.70,22.88 L1011.70,22.88 L1011.80,23.11 L1011.90,23.34 L1012.00,23.59 L1012.10,23.84 L1012.20,24.11 L1012.20,24.11 L1012.30,24.38 L1012.40,24.67 L1012.50,24.97 L1012.60,25.28 L1012.70,25.60 L1012.70,25.60 L1012.80,25.94 L1012.90,26.28 L1013.00,26.64 L1013.10,27.02 L1013.20,26.75 L1013.20,26.75 L1013.30,27.11 L1013.40,27.49 L1013.50,27.88 L1013.60,28.30 L1013.70,28.74 L1013.70,28.74 L1013.80,29.21 L1013.90,29.71 L1014.00,30.23 L1014.10,30.79 L1014.20,31.38 L1014.20,31.38 L1014.30,32.01 L1014.40,32.68 L1014.50,33.39 L1014.60,34.15 L1014.70,34.96 L1014.70,34.96 L1014.80,35.82 L1014.90,36.74 L1015.00,37.72 L1015.10,38.77 L1015.20,39.88 L1015.20,39.88 L1015.30,41.07 L1015.40,42.33 L1015.50,43.67 L1015.60,45.10 L1015.70,46.60 L1015.70,46.60 L1015.80,48.20 L1015.90,49.88 L1016.00,51.65 L1016.10,53.49 L1016.20,55.40 L1016.20,55.40 L1016.30,57.37 L1016.40,59.37 L1016.50,61.36 L1016.60,63.32 L1016.70,65.17 L1016.70,65.17 L1016.80,66.86 L1016.90,68.29 L1017.00,69.40 L1017.10,70.11 L1017.20,70.37 L1017.20,70.37 L1017.30,70.16 L1017.40,69.50 L1017.50,68.44 L1017.60,67.04 L1017.70,65.40 L1017.70,65.40 L1017.80,63.58 L1017.90,61.66 L1018.00,59.69 L1018.10,57.72 L1018.20,55.77 L1018.20,55.77 L1018.30,53.87 L1018.40,52.03 L1018.50,50.27 L1018.60,48.58 L1018.70,46.98 L1018.70,46.98 L1018.80,45.45 L1018.90,44.00 L1019.00,42.63 L1019.10,41.34 L1019.20,40.11 L1019.20,40.11 L1019.30,38.96 L1019.40,37.87 L1019.50,36.85 L1019.60,35.88 L1019.70,34.97 L1019.70,34.97 L1019.80,34.11 L1019.90,33.31 L1020.00,32.55 L1020.10,31.84 L1020.20,31.17 L1020.20,31.17 L1020.30,30.54 L1020.40,29.95 L1020.50,29.39 L1020.60,28.88 L1020.70,28.39 L1020.70,28.39 L1020.80,27.94 L1020.90,27.51 L1021.00,27.12 L1021.10,26.75 L1021.20,26.40 L1021.20,27.06 L1021.30,26.69 L1021.40,26.34 L1021.50,26.01 L1021.60,25.69 L1021.70,25.39 L1021.70,25.39 L1021.80,25.11 L1021.90,24.85 L1022.00,24.59 L1022.10,24.35 L1022.20,24.13 L1022.20,24.13 L1022.30,23.91 L1022.40,23.70 L1022.50,23.50 L1022.60,23.31 L1022.70,23.13 L1022.70,23.13 L1022.80,22.95 L1022.90,22.78 L1023.00,22.62 L1023.10,22.46 L1023.20,22.31 L1023.70,21.61 L1024.20,21.02 L1024.70,20.53 L1025.20,20.18 L1025.70,20.00 L1026.20,20.00 L1026.70,20.15 L1027.20,20.41 L1027.70,20.71 L1028.20,20.97 L1028.70,21.15 L1029.20,21.23 L1029.70,21.22 L1030.20,21.15 L1030.70,21.06 L1031.20,20.98 L1031.70,20.91 L1032.20,20.83 L1032.70,20.73 L1033.20,20.57 L1033.70,20.34 L1034.20,20.06 L1034.70,19.78 L1035.20,19.55 L1035.70,19.41 L1036.20,19.41 L1036.70,19.54 L1037.20,19.77 L1037.70,20.03 L1038.20,20.28 L1038.70,20.47 L1039.20,20.59 L1039.70,20.65 L1040.20,20.67 L1040.70,20.70 L1041.20,20.74 L1041.70,20.80 L1042.20,20.86 L1042.70,20.87 L1043.20,20.80 L1043.70,20.64 L1044.20,20.40 L1044.70,20.12 L1045.20,19.86 L1045.70,19.67 L1046.20,19.59 L1046.70,19.63 L1047.20,19.75 L1047.70,19.92 L1048.20,20.09 L1048.70,20.21 L1049.20,20.28 L1049.70,20.32 L1050.20,20.35 L1050.70,20.41 L1051.20,20.51 L1051.70,20.64 L1052.20,20.78 L1052.70,20.88 L1053.20,20.90 L1053.70,20.82 L1054.20,20.64 L1054.70,20.40 L1055.20,20.16 L1055.70,19.96 L1056.20,19.86 L1056.70,19.84 L1057.20,19.90 L1057.70,20.00 L1058.20,20.09 L1058.70,20.14 L1059.20,20.14 L1059.70,20.13 L1060.20,20.12 L1060.70,20.17 L1061.20,20.28 L1061.70,20.44 L1062.20,20.63 L1062.70,20.79 L1063.20,20.87 L1063.70,20.86 L1064.20,20.74 L1064.70,20.56 L1065.20,20.36 L1065.70,20.19 L1066.20,20.09 L1066.70,20.07 L1067.20,20.11 L1067.70,20.16 L1068.20,20.20 L1068.70,20.19 L1069.20,20.14 L1069.70,20.07 L1070.20,20.01 L1070.70,20.02 L1071.20,20.11 L1071.70,20.27 L1072.20,20.46 L1072.70,20.65 L1073.20,20.77 L1073.70,20.80 L1074.20,20.74 L1074.70,20.61 L1075.20,20.45 L1075.70,20.33 L1076.20,20.26 L1076.70,20.26 L1077.20,20.30 L1077.70,20.34 L1078.20,20.36 L1078.70,20.32 L1079.20,20.22 L1079.70,20.11 L1080.20,20.01 L1080.70,19.97 L1081.20,20.03 L1081.70,20.16 L1082.20,20.34 L1082.70,20.52 L1083.20,20.65 L1083.70,20.71 L1084.20,20.67 L1084.70,20.58 L1085.20,20.46 L1085.70,20.38 L1086.20,20.34 L1086.70,20.37 L1087.20,20.43 L1087.70,20.49 L1088.20,20.51 L1088.70,20.46 L1089.20,20.35 L1089.70,20.20 L1090.20,20.07 L1090.70,20.00 L1091.20,20.02 L1091.70,20.12 L1092.20,20.28 L1092.70,20.44 L1093.20,20.57 L1093.70,20.62 L1094.20,20.59 L1094.70,20.51 L1095.20,20.42 L1095.70,20.37 L1096.20,20.37 L1096.70,20.42 L1097.20,20.51 L1097.70,20.59 L1098.20,20.62 L1098.70,20.58 L1099.20,20.47 L1099.70,20.32 L1100.20,20.17 L1100.70,20.08 L1101.20,20.07 L1101.70,20.15 L1102.20,20.28 L1102.70,20.42 L1103.20,20.53 L1103.70,20.56 L1104.20,20.53 L1104.70,20.46 L1105.20,20.37 L1105.70,20.33 L1106.20,20.35 L1106.70,20.43 L1107.20,20.54 L1107.70,20.64 L1108.20,20.69 L1108.70,20.67 L1109.20,20.56 L1109.70,20.41 L1110.20,20.27 L1110.70,20.17 L1111.20,20.15 L1111.70,20.21 L1112.20,20.32 L1112.70,20.44 L1113.20,20.52 L1113.70,20.55 L1114.20,20.50 L1114.70,20.41 L1115.20,20.33 L1115.70,20.28 L1116.20,20.31 L1116.70,20.40 L1117.20,20.53 L1117.70,20.65 L1118.20,20.72 L1118.70,20.71 L1119.20,20.62 L1119.70,20.48 L1120.20,20.34 L1120.70,20.24 L1121.20,20.22 L1121.70,20.27 L1122.20,20.37 L1122.70,20.48 L1123.20,20.55 L1123.70,20.56 L1124.20,20.50 L1124.70,20.40 L1125.20,20.30 L1125.70,20.25 L1126.20,20.28 L1126.70,20.37 L1127.20,20.51 L1127.70,20.64 L1128.20,20.72 L1128.70,20.72 L1129.20,20.64 L1129.70,20.52 L1130.20,20.39 L1130.70,20.30 L1131.20,20.28 L1131.70,20.33 L1132.20,20.43 L1132.70,20.54 L1133.20,20.60 L1133.70,20.59 L1134.20,20.52 L1134.70,20.41 L1135.20,20.30 L1135.70,20.24 L1136.20,20.26 L1136.70,20.35 L1137.20,20.49 L1137.70,20.62 L1138.20,20.71 L1138.70,20.72 L1139.20,20.65 L1139.70,20.53 L1140.20,20.41 L1140.70,20.33 L1141.20,20.32 L1141.70,20.38 L1142.20,20.49 L1142.70,20.59 L1143.20,20.65 L1143.70,20.64 L1144.20,20.56 L1144.70,20.44 L1145.20,20.32 L1145.70,20.26 L1146.20,20.27 L1146.70,20.35 L1147.20,20.48 L1147.70,20.61 L1148.20,20.70 L1148.70,20.71 L1149.20,20.65 L1149.70,20.54 L1150.20,20.43 L1150.70,20.36 L1151.20,20.35 L1151.70,20.42 L1152.20,20.53 L1152.70,20.64 L1153.20,20.70 L1153.70,20.69 L1154.20,20.61 L1154.70,20.49 L1155.20,20.36 L1155.70,20.29 L1156.20,20.29 L1156.70,20.37 L1157.20,20.50 L1157.70,20.62 L1158.20,20.71 L1158.70,20.72 L1159.20,20.66 L1159.70,20.55 L1160.20,20.44 L1160.70,20.38 L1161.20,20.38 L1161.70,20.45 L1162.20,20.57 L1162.70,20.68 L1163.20,20.75 L1163.70,20.74 L1164.20,20.66 L1164.70,20.54 L1165.20,20.42 L1165.70,20.34 L1166.20,20.34 L1166.70,20.42 L1167.20,20.54 L1167.70,20.66 L1168.20,20.74 L1168.70,20.75 L1169.20,20.68 L1169.70,20.58 L1170.20,20.47 L1170.70,20.41 L1171.20,20.41 L1171.70,20.49 L1172.20,20.61 L1172.70,20.73 L1173.20,20.80 L1173.70,20.80 L1174.20,20.72 L1174.70,20.60 L1175.20,20.48 L1175.70,20.41 L1176.20,20.41 L1176.70,20.48 L1177.20,20.59 L1177.70,20.71 L1178.20,20.79 L1178.70,20.79 L1179.20,20.73 L1179.70,20.62 L1180.20,20.52 L1180.70,20.45 L1181.20,20.46 L1181.70,20.54 L1182.20,20.66 L1182.70,20.78 L1183.20,20.86 L1183.70,20.86 L1184.20,20.79 L1184.70,20.68 L1185.20,20.56 L1185.70,20.49 L1186.20,20.49 L1186.70,20.56 L1187.20,20.67 L1187.70,20.79 L1188.20,20.86 L1188.70,20.86 L1189.20,20.80 L1189.70,20.69 L1190.20,20.58 L1190.70,20.52 L1191.20,20.53 L1191.70,20.61 L1192.20,20.73 L1192.70,20.85 L1193.20,20.93 L1193.70,20.94 L1194.20,20.87 L1194.70,20.76 L1195.20,20.65 L1195.70,20.58 L1196.20,20.58 L1196.70,20.65 L1197.20,20.77 L1197.70,20.88 L1198.20,20.95 L1198.70,20.96 L1199.20,20.89 L1199.70,20.78 L1200.20,20.68 L1200.70,20.63 L1201.20,20.65 L1201.70,20.75 L1202.20,20.90 L1202.70,21.06 L1203.20,21.18 L1203.70,21.24 L1204.20,21.23 L1204.70,21.20 L1205.20,21.16 L1205.70,21.18 L1206.20,21.26 L1206.70,21.41 L1207.20,21.59 L1207.70,21.78 L1208.20,21.93 L1208.70,22.06 L1209.20,22.14 L1209.70,22.22 L1210.20,22.33 L1210.70,22.50 L1211.20,22.73 L1211.70,23.02 L1212.20,23.35 L1212.70,23.67 L1213.20,23.97 L1213.70,24.24 L1214.20,24.48 L1214.70,24.70 L1215.20,24.94 L1215.70,25.22 L1216.20,25.53 L1216.70,25.87 L1217.20,26.23 L1217.70,26.60 L1218.20,26.97 L1218.70,27.36 L1219.20,27.78 L1219.70,28.22 L1220.20,28.70 L1220.70,29.20 L1221.20,29.76 L1221.70,30.38 L1222.20,31.05 L1222.70,31.79 L1223.20,32.58 L1223.70,33.42 L1224.20,34.32 L1224.70,35.27 L1225.20,36.28 L1225.70,37.33 L1226.20,38.50 L1226.70,39.79 L1227.20,41.19 L1227.70,42.71 L1228.20,44.34 L1228.70,46.09 L1229.20,47.93 L1229.70,49.92 L1230.20,52.16 L1230.70,54.65 L1231.20,57.34 L1231.70,60.19 L1232.20,63.18 L1232.70,66.29 L1233.20,69.64 L1233.70,73.24 L1234.20,77.08 L1234.70,81.16 L1235.20,84.93 L1235.70,88.68 L1236.20,94.92 L1236.70,121.82 L1237.20,120.00 L1237.70,107.54 L1238.20,96.70 L1238.70,90.56 L1239.20,85.39 L1239.70,80.97 L1240.20,77.10 L1240.70,73.54 L1241.20,70.23 L1241.70,67.20 L1242.20,64.49 L1242.70,62.12 L1243.20,60.13 L1243.70,58.37 L1244.20,56.75 L1244.70,55.26 L1245.20,53.90 L1245.70,52.66 L1246.20,51.52 L1246.70,50.47 L1247.20,49.51 L1247.70,48.60 L1248.20,47.72 L1248.70,46.88 L1249.20,46.09 L1249.70,45.35 L1250.20,44.67 L1250.70,44.06 L1251.20,43.51 L1251.70,43.04 L1252.20,42.65 L1252.70,42.28 L1253.20,41.93 L1253.70,41.60 L1254.20,41.28 L1254.70,40.98 L1255.20,40.70 L1255.70,40.44 L1256.20,40.21 L1256.70,40.00 L1257.20,39.81 L1257.70,39.65 L1258.20,39.52 L1258.70,39.42 L1259.20,39.34 L1259.70,39.26 L1260.20,39.18 L1260.70,39.12 L1261.20,39.06 L1261.70,39.00 L1262.20,38.96 L1262.70,38.93 L1263.20,38.91 L1263.70,38.90 L1264.20,38.92 L1264.70,38.97 L1265.20,39.04 L1265.70,39.15 L1266.20,39.28 L1266.70,39.42 L1267.20,39.59 L1267.70,39.76 L1268.20,39.95 L1268.70,40.15 L1269.20,40.35 L1269.70,40.55 L1270.20,40.74 L1270.70,40.94 L1271.20,41.14 L1271.70,41.36 L1272.20,41.58 L1272.70,41.83 L1273.20,42.08 L1273.70,42.35 L1274.20,42.63 L1274.70,42.93 L1275.20,43.24 L1275.70,43.55 L1276.20,43.89 L1276.70,44.23 L1277.20,44.58 L1277.70,44.95 L1278.20,45.35 L1278.70,45.80 L1279.20,46.27 L1279.70,46.77 L1280.20,47.29 L1280.70,47.83 L1281.20,48.38 L1281.70,48.94 L1282.20,49.50 L1282.70,50.05 L1283.20,50.59 L1283.70,51.13 L1284.20,51.67 L1284.70,52.22 L1285.20,52.77 L1285.70,53.32 L1286.20,53.89 L1286.70,54.45 L1287.20,55.02" fill="none" stroke="#0072BD" stroke-width="4.8" stroke-linejoin="round" stroke-linecap="butt" clip-path="url(#c3)"/>
<path d="M767.20,129.90 L767.70,130.33 L768.20,130.81 L768.70,131.35 L769.20,131.94 L769.70,132.58 L770.20,133.25 L770.70,133.96 L771.20,134.70 L771.70,135.48 L772.20,136.32 L772.70,137.22 L773.20,138.18 L773.70,139.23 L774.20,140.37 L774.70,141.61 L775.20,142.96 L775.70,144.54 L776.20,146.35 L776.70,148.36 L777.20,150.55 L777.70,152.91 L778.20,155.44 L778.70,158.32 L779.20,161.56 L779.70,165.13 L780.20,168.96 L780.70,173.12 L781.20,177.97 L781.70,183.51 L782.20,191.34 L782.70,218.86 L783.20,199.93 L783.70,184.66 L784.20,174.41 L784.70,166.42 L785.20,159.68 L785.70,154.10 L786.20,149.83 L786.70,146.31 L787.20,143.32 L787.70,140.77 L788.20,138.54 L788.70,136.48 L789.20,134.58 L789.70,132.86 L790.20,131.35 L790.70,130.06 L791.20,129.00 L791.70,128.03 L792.20,127.12 L792.70,126.28 L793.20,125.50 L793.70,124.78 L794.20,124.14 L794.70,123.56 L795.20,123.04 L795.70,122.58 L796.20,122.22 L796.70,121.91 L797.20,121.64 L797.70,121.40 L798.20,121.15 L798.70,120.88 L799.20,120.59 L799.70,120.27 L800.20,119.96 L800.70,119.68 L801.20,119.48 L801.70,119.34 L802.20,119.26 L802.70,119.21 L803.20,119.15 L803.70,119.05 L804.20,118.92 L804.70,118.76 L805.20,118.60 L805.70,118.48 L806.20,118.42 L806.70,118.43 L807.20,118.47 L807.70,118.52 L808.20,118.52 L808.70,118.45 L809.20,118.31 L809.70,118.13 L810.20,117.94 L810.70,117.78 L811.20,117.70 L811.70,117.69 L812.20,117.73 L812.70,117.78 L813.20,117.80 L813.70,117.76 L814.20,117.66 L814.70,117.52 L815.20,117.40 L815.70,117.32 L816.20,117.33 L816.70,117.41 L817.20,117.53 L817.70,117.66 L818.20,117.73 L818.70,117.72 L819.20,117.63 L819.70,117.50 L820.20,117.35 L820.70,117.24 L821.20,117.19 L821.70,117.21 L822.20,117.27 L822.70,117.33 L823.20,117.36 L823.70,117.32 L824.20,117.23 L824.70,117.11 L825.20,117.00 L825.70,116.94 L826.20,116.96 L826.70,117.06 L827.20,117.20 L827.70,117.34 L828.20,117.44 L828.70,117.46 L829.20,117.41 L829.70,117.30 L830.20,117.18 L830.70,117.09 L831.20,117.05 L831.70,117.07 L832.20,117.13 L832.70,117.18 L833.20,117.20 L833.70,117.14 L834.20,117.03 L834.70,116.89 L835.20,116.77 L835.70,116.70 L836.20,116.71 L836.70,116.80 L837.20,116.95 L837.70,117.10 L838.20,117.22 L838.70,117.27 L839.20,117.25 L839.70,117.18 L840.20,117.10 L840.70,117.04 L841.20,117.03 L841.70,117.07 L842.20,117.14 L842.70,117.20 L843.20,117.21 L843.70,117.14 L844.20,117.01 L844.70,116.85 L845.20,116.70 L845.70,116.60 L846.20,116.59 L846.70,116.67 L847.20,116.80 L847.70,116.95 L848.20,117.08 L848.70,117.15 L849.20,117.15 L849.70,117.11 L850.20,117.07 L850.70,117.05 L851.20,117.08 L851.70,117.16 L852.20,117.26 L852.70,117.33 L853.20,117.35 L853.70,117.28 L854.20,117.13 L854.70,116.94 L855.20,116.75 L855.70,116.62 L856.20,116.56 L856.70,116.59 L857.20,116.69 L857.70,116.81 L858.20,116.92 L858.70,116.98 L859.20,117.00 L859.70,116.98 L860.20,116.97 L860.70,116.99 L861.20,117.07 L861.70,117.20 L862.20,117.34 L862.70,117.46 L863.20,117.51 L863.70,117.46 L864.20,117.32 L864.70,117.12 L865.20,116.90 L865.70,116.73 L866.20,116.62 L866.70,116.60 L867.20,116.64 L867.70,116.71 L868.20,116.77 L868.70,116.80 L869.20,116.79 L869.70,116.77 L870.20,116.77 L870.70,116.83 L871.20,116.95 L871.70,117.14 L872.20,117.34 L872.70,117.53 L873.20,117.63 L873.70,117.64 L874.20,117.53 L874.70,117.36 L875.20,117.14 L875.70,116.95 L876.20,116.81 L876.70,116.73 L877.20,116.71 L877.70,116.71 L878.20,116.69 L878.70,116.65 L879.20,116.58 L879.70,116.52 L880.20,116.50 L880.70,116.55 L881.20,116.70 L881.70,116.93 L882.20,117.20 L882.70,117.46 L883.20,117.65 L883.70,117.74 L884.20,117.72 L884.70,117.60 L885.20,117.44 L885.70,117.27 L886.20,117.13 L886.70,117.02 L887.20,116.94 L887.70,116.87 L888.20,116.76 L888.70,116.62 L889.20,116.46 L889.70,116.31 L890.20,116.21 L890.70,116.21 L891.20,116.34 L891.70,116.57 L892.20,116.88 L892.70,117.20 L893.20,117.48 L893.70,117.67 L894.20,117.76 L894.70,117.76 L895.20,117.70 L895.70,117.62 L896.20,117.53 L896.70,117.46 L897.20,117.37 L897.70,117.25 L898.20,117.08 L898.70,116.84 L899.20,116.57 L899.70,116.30 L900.20,116.09 L900.70,115.99 L901.20,116.05 L901.70,116.25 L902.20,116.58 L902.60,116.89 L902.70,116.98 L902.80,117.06 L902.90,117.15 L903.00,117.23 L903.10,117.32 L903.20,117.40 L903.20,117.40 L903.30,117.49 L903.40,117.57 L903.50,117.65 L903.60,117.74 L903.70,117.82 L903.70,117.82 L903.80,117.90 L903.90,117.98 L904.00,118.07 L904.10,118.15 L904.20,118.23 L904.20,118.23 L904.30,118.32 L904.40,118.41 L904.50,118.50 L904.60,117.97 L904.70,118.03 L904.70,118.03 L904.80,118.09 L904.90,118.17 L905.00,118.25 L905.10,118.35 L905.20,118.46 L905.20,118.46 L905.30,118.58 L905.40,118.73 L905.50,118.89 L905.60,119.08 L905.70,119.30 L905.70,119.30 L905.80,119.54 L905.90,119.82 L906.00,120.14 L906.10,120.50 L906.20,120.91 L906.20,120.91 L906.30,121.37 L906.40,121.90 L906.50,122.50 L906.60,123.18 L906.70,123.95 L906.70,123.95 L906.80,124.83 L906.90,125.84 L907.00,126.99 L907.10,128.31 L907.20,129.82 L907.20,129.82 L907.30,131.57 L907.40,133.57 L907.50,135.90 L907.60,138.61 L907.70,141.77 L907.70,141.77 L907.80,145.50 L907.90,149.93 L908.00,155.26 L908.10,161.80 L908.20,170.04 L908.20,170.04 L908.30,180.86 L908.40,196.15 L908.50,220.77 L908.60,255.17 L908.70,220.76 L908.70,220.76 L908.80,196.13 L908.90,180.83 L909.00,170.00 L909.10,161.75 L909.20,155.20 L909.20,155.20 L909.30,149.86 L909.40,145.42 L909.50,141.69 L909.60,138.52 L909.70,135.81 L909.70,135.81 L909.80,133.48 L909.90,131.47 L910.00,129.73 L910.10,128.21 L910.20,126.90 L910.20,126.90 L910.30,125.75 L910.40,124.75 L910.50,123.87 L910.60,123.10 L910.70,122.42 L910.70,122.42 L910.80,121.83 L910.90,121.31 L911.00,120.86 L911.10,120.46 L911.20,120.11 L911.20,120.11 L911.30,119.80 L911.40,119.53 L911.50,119.29 L911.60,119.08 L911.70,118.90 L911.70,118.90 L911.80,118.74 L911.90,118.60 L912.00,118.48 L912.10,118.38 L912.20,118.28 L912.20,118.28 L912.30,118.20 L912.40,118.13 L912.50,118.07 L912.60,118.64 L912.70,118.54 L912.70,118.54 L912.80,118.44 L912.90,118.35 L913.00,118.26 L913.10,118.17 L913.20,118.08 L913.20,118.08 L913.30,118.00 L913.40,117.91 L913.50,117.82 L913.60,117.73 L913.70,117.64 L913.70,117.64 L913.80,117.55 L913.90,117.46 L914.00,117.37 L914.10,117.28 L914.20,117.19 L914.20,117.19 L914.30,117.10 L914.40,117.02 L914.50,116.93 L914.70,116.76 L915.20,116.40 L915.70,116.16 L916.20,116.06 L916.70,116.10 L917.20,116.26 L917.70,116.49 L918.20,116.74 L918.70,116.95 L919.20,117.11 L919.70,117.23 L920.20,117.32 L920.70,117.42 L921.20,117.53 L921.70,117.66 L922.20,117.76 L922.70,117.80 L923.20,117.74 L923.70,117.58 L924.20,117.32 L924.70,117.01 L925.20,116.71 L925.70,116.46 L926.20,116.32 L926.70,116.29 L927.20,116.35 L927.70,116.47 L928.20,116.60 L928.70,116.70 L929.20,116.78 L929.70,116.83 L930.20,116.90 L930.70,117.00 L931.20,117.15 L931.70,117.34 L932.20,117.52 L932.70,117.67 L933.20,117.72 L933.70,117.67 L934.20,117.51 L934.70,117.28 L935.20,117.03 L935.70,116.81 L936.20,116.67 L936.70,116.61 L937.20,116.62 L937.70,116.66 L938.20,116.70 L938.70,116.71 L939.20,116.69 L939.70,116.67 L940.20,116.66 L940.70,116.72 L941.20,116.84 L941.70,117.03 L942.20,117.24 L942.70,117.44 L943.20,117.56 L943.70,117.58 L944.20,117.50 L944.70,117.35 L945.20,117.17 L945.70,117.02 L946.20,116.91 L946.70,116.88 L947.20,116.88 L947.70,116.90 L948.20,116.90 L948.70,116.85 L949.20,116.77 L949.70,116.67 L950.20,116.60 L950.70,116.59 L951.20,116.67 L951.70,116.82 L952.20,117.01 L952.70,117.20 L953.20,117.34 L953.70,117.40 L954.20,117.37 L954.70,117.28 L955.20,117.16 L955.70,117.07 L956.20,117.02 L956.70,117.03 L957.20,117.07 L957.70,117.10 L958.20,117.10 L958.70,117.04 L959.20,116.93 L959.70,116.79 L960.20,116.67 L960.70,116.61 L961.20,116.63 L961.70,116.73 L962.20,116.89 L962.70,117.05 L963.20,117.17 L963.70,117.23 L964.20,117.21 L964.70,117.14 L965.20,117.06 L965.70,117.00 L966.20,117.00 L966.70,117.05 L967.20,117.13 L967.70,117.21 L968.20,117.23 L968.70,117.19 L969.20,117.08 L969.70,116.94 L970.20,116.80 L970.70,116.71 L971.20,116.70 L971.70,116.76 L972.20,116.87 L972.70,117.00 L973.20,117.09 L973.70,117.11 L974.20,117.08 L974.70,117.00 L975.20,116.92 L975.70,116.88 L976.20,116.90 L976.70,116.98 L977.20,117.10 L977.70,117.21 L978.20,117.27 L978.70,117.26 L979.20,117.18 L979.70,117.05 L980.20,116.92 L980.70,116.84 L981.20,116.81 L981.70,116.86 L982.20,116.95 L982.70,117.05 L983.20,117.10 L983.70,117.10 L984.20,117.03 L984.70,116.92 L985.20,116.82 L985.70,116.76 L986.20,116.78 L986.70,116.86 L987.20,116.99 L987.70,117.12 L988.20,117.20 L988.70,117.22 L989.20,117.18 L989.70,117.08 L990.20,116.98 L990.70,116.92 L991.20,116.92 L991.70,116.98 L992.20,117.07 L992.70,117.16 L993.20,117.20 L993.70,117.17 L994.20,117.08 L994.70,116.94 L995.20,116.80 L995.70,116.71 L996.20,116.70 L996.70,116.76 L997.20,116.87 L997.70,116.99 L998.20,117.08 L998.70,117.11 L999.20,117.08 L999.70,117.02 L1000.20,116.95 L1000.70,116.92 L1001.20,116.96 L1001.70,117.05 L1002.20,117.17 L1002.70,117.28 L1003.20,117.34 L1003.70,117.31 L1004.20,117.21 L1004.70,117.05 L1005.20,116.89 L1005.70,116.77 L1006.20,116.71 L1006.70,116.73 L1007.20,116.80 L1007.70,116.89 L1008.20,116.95 L1008.70,116.96 L1009.20,116.93 L1009.70,116.87 L1010.20,116.82 L1010.70,116.82 L1011.20,116.89 L1011.70,117.03 L1012.20,117.20 L1012.70,117.35 L1013.20,117.45 L1013.70,117.45 L1014.20,117.37 L1014.70,117.23 L1015.20,117.06 L1015.70,116.92 L1016.20,116.84 L1016.70,116.82 L1017.20,116.84 L1017.70,116.88 L1018.20,116.88 L1018.70,116.85 L1019.20,116.77 L1019.70,116.68 L1020.20,116.62 L1020.70,116.62 L1021.20,116.71 L1021.70,116.88 L1022.20,117.09 L1022.70,117.30 L1023.20,117.46 L1023.70,117.53 L1024.20,117.50 L1024.70,117.41 L1025.20,117.28 L1025.70,117.16 L1026.20,117.07 L1026.70,117.04 L1027.20,117.02 L1027.70,117.00 L1028.20,116.95 L1028.70,116.85 L1029.20,116.70 L1029.70,116.54 L1030.20,116.42 L1030.70,116.38 L1031.20,116.45 L1031.70,116.62 L1032.20,116.85 L1032.70,117.10 L1033.20,117.32 L1033.70,117.46 L1034.20,117.52 L1034.70,117.50 L1035.20,117.45 L1035.70,117.40 L1036.20,117.36 L1036.70,117.35 L1037.20,117.34 L1037.70,117.30 L1038.20,117.19 L1038.70,117.02 L1039.20,116.79 L1039.70,116.54 L1040.20,116.33 L1040.70,116.20 L1041.20,116.19 L1041.70,116.31 L1042.20,116.51 L1042.70,116.77 L1043.20,117.01 L1043.70,117.21 L1044.20,117.35 L1044.70,117.43 L1045.20,117.49 L1045.70,117.55 L1046.20,117.62 L1046.70,117.69 L1047.20,117.75 L1047.70,117.75 L1048.20,117.65 L1048.70,117.46 L1049.20,117.17 L1049.70,116.84 L1050.20,116.53 L1050.70,116.31 L1051.20,116.20 L1051.70,116.24 L1052.20,116.39 L1052.70,116.64 L1053.20,116.94 L1053.70,117.26 L1053.80,117.33 L1053.90,117.40 L1054.00,117.47 L1054.10,117.54 L1054.20,117.61 L1054.20,117.61 L1054.30,117.69 L1054.40,117.77 L1054.50,117.85 L1054.60,117.93 L1054.70,118.02 L1054.70,118.02 L1054.80,118.12 L1054.90,118.21 L1055.00,118.32 L1055.10,118.43 L1055.20,118.55 L1055.20,118.55 L1055.30,118.67 L1055.40,118.81 L1055.50,118.95 L1055.60,119.10 L1055.70,119.27 L1055.70,119.27 L1055.80,119.44 L1055.90,118.96 L1056.00,119.12 L1056.10,119.30 L1056.20,119.50 L1056.20,119.50 L1056.30,119.72 L1056.40,119.96 L1056.50,120.22 L1056.60,120.52 L1056.70,120.84 L1056.70,120.84 L1056.80,121.19 L1056.90,121.58 L1057.00,122.00 L1057.10,122.47 L1057.20,122.98 L1057.20,122.98 L1057.30,123.54 L1057.40,124.16 L1057.50,124.84 L1057.60,125.59 L1057.70,126.42 L1057.70,126.42 L1057.80,127.33 L1057.90,128.34 L1058.00,129.45 L1058.10,130.69 L1058.20,132.05 L1058.20,132.05 L1058.30,133.57 L1058.40,135.25 L1058.50,137.12 L1058.60,139.20 L1058.70,141.52 L1058.70,141.52 L1058.80,144.11 L1058.90,146.99 L1059.00,150.20 L1059.10,153.76 L1059.20,157.70 L1059.20,157.70 L1059.30,161.98 L1059.40,166.53 L1059.50,171.14 L1059.60,175.34 L1059.70,178.42 L1059.70,178.42 L1059.80,179.55 L1059.90,178.37 L1060.00,175.25 L1060.10,171.01 L1060.20,166.37 L1060.20,166.37 L1060.30,161.78 L1060.40,157.46 L1060.50,153.50 L1060.60,149.91 L1060.70,146.68 L1060.70,146.68 L1060.80,143.79 L1060.90,141.19 L1061.00,138.87 L1061.10,136.79 L1061.20,134.92 L1061.20,134.92 L1061.30,133.25 L1061.40,131.76 L1061.50,130.42 L1061.60,129.21 L1061.70,128.13 L1061.70,128.13 L1061.80,127.16 L1061.90,126.29 L1062.00,125.51 L1062.10,124.80 L1062.20,124.16 L1062.20,124.16 L1062.30,123.59 L1062.40,123.07 L1062.50,122.61 L1062.60,122.18 L1062.70,121.80 L1062.70,121.80 L1062.80,121.45 L1062.90,121.13 L1063.00,120.84 L1063.10,120.58 L1063.20,120.34 L1063.20,120.34 L1063.30,120.11 L1063.40,119.90 L1063.50,119.71 L1063.60,119.53 L1063.70,119.36 L1063.70,119.36 L1063.80,119.20 L1063.90,119.64 L1064.00,119.45 L1064.10,119.27 L1064.20,119.09 L1064.20,119.09 L1064.30,118.92 L1064.40,118.75 L1064.50,118.59 L1064.60,118.43 L1064.70,118.28 L1064.70,118.28 L1064.80,118.14 L1064.90,117.99 L1065.00,117.86 L1065.10,117.73 L1065.20,117.60 L1065.20,117.60 L1065.30,117.48 L1065.40,117.37 L1065.50,117.26 L1065.60,117.16 L1065.70,117.07 L1065.70,117.07 L1066.20,116.70 L1066.70,116.49 L1067.20,116.42 L1067.70,116.44 L1068.20,116.51 L1068.70,116.59 L1069.20,116.68 L1069.70,116.77 L1070.20,116.89 L1070.70,117.06 L1071.20,117.28 L1071.70,117.54 L1072.20,117.79 L1072.70,117.98 L1073.20,118.06 L1073.70,118.02 L1074.20,117.84 L1074.70,117.57 L1075.20,117.27 L1075.70,116.98 L1076.20,116.77 L1076.70,116.63 L1077.20,116.57 L1077.70,116.56 L1078.20,116.56 L1078.70,116.54 L1079.20,116.52 L1079.70,116.51 L1080.20,116.54 L1080.70,116.65 L1081.20,116.84 L1081.70,117.09 L1082.20,117.38 L1082.70,117.63 L1083.20,117.80 L1083.70,117.86 L1084.20,117.80 L1084.70,117.65 L1085.20,117.45 L1085.70,117.26 L1086.20,117.11 L1086.70,117.01 L1087.20,116.96 L1087.70,116.92 L1088.20,116.86 L1088.70,116.78 L1089.20,116.67 L1089.70,116.56 L1090.20,116.49 L1090.70,116.51 L1091.20,116.62 L1091.70,116.83 L1092.20,117.08 L1092.70,117.34 L1093.20,117.53 L1093.70,117.64 L1094.20,117.65 L1094.70,117.57 L1095.20,117.46 L1095.70,117.35 L1096.20,117.28 L1096.70,117.25 L1097.20,117.24 L1097.70,117.22 L1098.20,117.17 L1098.70,117.06 L1099.20,116.91 L1099.70,116.74 L1100.20,116.60 L1100.70,116.54 L1101.20,116.58 L1101.70,116.72 L1102.20,116.92 L1102.70,117.14 L1103.20,117.32 L1103.70,117.43 L1104.20,117.46 L1104.70,117.43 L1105.20,117.37 L1105.70,117.32 L1106.20,117.32 L1106.70,117.35 L1107.20,117.40 L1107.70,117.43 L1108.20,117.41 L1108.70,117.31 L1109.20,117.15 L1109.70,116.96 L1110.20,116.79 L1110.70,116.68 L1111.20,116.67 L1111.70,116.75 L1112.20,116.90 L1112.70,117.06 L1113.20,117.21 L1113.70,117.29 L1114.20,117.31 L1114.70,117.28 L1115.20,117.24 L1115.70,117.23 L1116.20,117.27 L1116.70,117.35 L1117.20,117.45 L1117.70,117.53 L1118.20,117.55 L1118.70,117.49 L1119.20,117.35 L1119.70,117.17 L1120.20,116.99 L1120.70,116.86 L1121.20,116.82 L1121.70,116.86 L1122.20,116.97 L1122.70,117.09 L1123.20,117.20 L1123.70,117.24 L1124.20,117.23 L1124.70,117.19 L1125.20,117.15 L1125.70,117.14 L1126.20,117.19 L1126.70,117.31 L1127.20,117.44 L1127.70,117.56 L1128.20,117.62 L1128.70,117.60 L1129.20,117.49 L1129.70,117.33 L1130.20,117.16 L1130.70,117.04 L1131.20,116.99 L1131.70,117.02 L1132.20,117.10 L1132.70,117.19 L1133.20,117.26 L1133.70,117.28 L1134.20,117.24 L1134.70,117.17 L1135.20,117.10 L1135.70,117.08 L1136.20,117.14 L1136.70,117.26 L1137.20,117.41 L1137.70,117.55 L1138.20,117.64 L1138.70,117.65 L1139.20,117.57 L1139.70,117.43 L1140.20,117.29 L1140.70,117.18 L1141.20,117.14 L1141.70,117.17 L1142.20,117.25 L1142.70,117.33 L1143.20,117.38 L1143.70,117.37 L1144.20,117.31 L1144.70,117.21 L1145.20,117.12 L1145.70,117.08 L1146.20,117.12 L1146.70,117.23 L1147.20,117.39 L1147.70,117.54 L1148.20,117.64 L1148.70,117.66 L1149.20,117.61 L1149.70,117.50 L1150.20,117.37 L1150.70,117.29 L1151.20,117.26 L1151.70,117.31 L1152.20,117.39 L1152.70,117.47 L1153.20,117.52 L1153.70,117.50 L1154.20,117.42 L1154.70,117.30 L1155.20,117.19 L1155.70,117.13 L1156.20,117.15 L1156.70,117.25 L1157.20,117.40 L1157.70,117.55 L1158.20,117.65 L1158.70,117.68 L1159.20,117.64 L1159.70,117.54 L1160.20,117.43 L1160.70,117.36 L1161.20,117.36 L1161.70,117.41 L1162.20,117.51 L1162.70,117.61 L1163.20,117.66 L1163.70,117.64 L1164.20,117.55 L1164.70,117.42 L1165.20,117.29 L1165.70,117.22 L1166.20,117.23 L1166.70,117.31 L1167.20,117.45 L1167.70,117.59 L1168.20,117.69 L1168.70,117.72 L1169.20,117.67 L1169.70,117.58 L1170.20,117.48 L1170.70,117.42 L1171.20,117.43 L1171.70,117.50 L1172.20,117.62 L1172.70,117.72 L1173.20,117.78 L1173.70,117.77 L1174.20,117.68 L1174.70,117.55 L1175.20,117.42 L1175.70,117.34 L1176.20,117.34 L1176.70,117.41 L1177.20,117.54 L1177.70,117.67 L1178.20,117.76 L1178.70,117.78 L1179.20,117.73 L1179.70,117.63 L1180.20,117.54 L1180.70,117.48 L1181.20,117.50 L1181.70,117.58 L1182.20,117.70 L1182.70,117.82 L1183.20,117.89 L1183.70,117.89 L1184.20,117.81 L1184.70,117.68 L1185.20,117.55 L1185.70,117.47 L1186.20,117.47 L1186.70,117.54 L1187.20,117.65 L1187.70,117.80 L1188.20,117.94 L1188.70,118.07 L1189.20,118.17 L1189.70,118.27 L1190.20,118.43 L1190.70,118.67 L1191.20,119.00 L1191.70,119.42 L1192.20,119.90 L1192.70,120.39 L1193.20,120.87 L1193.70,121.33 L1194.20,121.79 L1194.70,122.27 L1195.20,122.79 L1195.70,123.37 L1196.20,124.10 L1196.70,125.04 L1197.20,126.20 L1197.70,127.58 L1198.20,129.17 L1198.70,130.96 L1199.20,132.96 L1199.70,135.17 L1200.20,137.71 L1200.70,141.14 L1201.20,145.44 L1201.70,150.50 L1202.20,156.23 L1202.70,162.52 L1203.20,169.42 L1203.70,180.44 L1204.20,194.61 L1204.70,208.45 L1205.20,218.47 L1205.70,221.25 L1206.20,216.44 L1206.70,206.64 L1207.20,194.21 L1207.70,181.54 L1208.20,170.99 L1208.70,163.88 L1209.20,157.32 L1209.70,151.14 L1210.20,145.62 L1210.70,140.99 L1211.20,137.52 L1211.70,135.35 L1212.20,133.58 L1212.70,131.96 L1213.20,130.50 L1213.70,129.19 L1214.20,128.04 L1214.70,127.04 L1215.20,126.19 L1215.70,125.49 L1216.20,124.95 L1216.70,124.56 L1217.20,124.27 L1217.70,124.01 L1218.20,123.76 L1218.70,123.51 L1219.20,123.26 L1219.70,123.00 L1220.20,122.75 L1220.70,122.51 L1221.20,122.30 L1221.70,122.13 L1222.20,121.98 L1222.70,121.85 L1223.20,121.72 L1223.70,121.57 L1224.20,121.40 L1224.70,121.21 L1225.20,121.03 L1225.70,120.87 L1226.20,120.76 L1226.70,120.70 L1227.20,120.67 L1227.70,120.66 L1228.20,120.63 L1228.70,120.57 L1229.20,120.47 L1229.70,120.36 L1230.20,120.26 L1230.70,120.19 L1231.20,120.18 L1231.70,120.22 L1232.20,120.29 L1232.70,120.36 L1233.20,120.41 L1233.70,120.41 L1234.20,120.37 L1234.70,120.30 L1235.20,120.24 L1235.70,120.19 L1236.20,120.19 L1236.70,120.24 L1237.20,120.31 L1237.70,120.38 L1238.20,120.42 L1238.70,120.42 L1239.20,120.37 L1239.70,120.30 L1240.20,120.23 L1240.70,120.18 L1241.20,120.18 L1241.70,120.22 L1242.20,120.29 L1242.70,120.36 L1243.20,120.41 L1243.70,120.41 L1244.20,120.37 L1244.70,120.30 L1245.20,120.25 L1245.70,120.24 L1246.20,120.29 L1246.70,120.39 L1247.20,120.52 L1247.70,120.66 L1248.20,120.79 L1248.70,120.88 L1249.20,120.95 L1249.70,121.00 L1250.20,121.07 L1250.70,121.17 L1251.20,121.32 L1251.70,121.51 L1252.20,121.71 L1252.70,121.92 L1253.20,122.12 L1253.70,122.29 L1254.20,122.45 L1254.70,122.61 L1255.20,122.78 L1255.70,122.97 L1256.20,123.18 L1256.70,123.40 L1257.20,123.63 L1257.70,123.85 L1258.20,124.07 L1258.70,124.28 L1259.20,124.50 L1259.70,124.74 L1260.20,125.00 L1260.70,125.29 L1261.20,125.61 L1261.70,125.96 L1262.20,126.32 L1262.70,126.72 L1263.20,127.13 L1263.70,127.56 L1264.20,128.02 L1264.70,128.49 L1265.20,128.98 L1265.70,129.49 L1266.20,130.01 L1266.70,130.55 L1267.20,131.09 L1267.70,131.66 L1268.20,132.23 L1268.70,132.81 L1269.20,133.40 L1269.70,134.00 L1270.20,134.62 L1270.70,135.29 L1271.20,135.99 L1271.70,136.73 L1272.20,137.50 L1272.70,138.31 L1273.20,139.15 L1273.70,140.01 L1274.20,140.90 L1274.70,141.82 L1275.20,142.76 L1275.70,143.71 L1276.20,144.69 L1276.70,145.68 L1277.20,146.69 L1277.70,147.70 L1278.20,148.73 L1278.70,149.76 L1279.20,150.80 L1279.70,151.85 L1280.20,152.89 L1280.70,153.94 L1281.20,155.03 L1281.70,156.13 L1282.20,157.27 L1282.70,158.42 L1283.20,159.61 L1283.70,160.81 L1284.20,162.03 L1284.70,163.28 L1285.20,164.54 L1285.70,165.82 L1286.20,167.12 L1286.70,168.43 L1287.20,169.76" fill="none" stroke="#0072BD" stroke-width="4.8" stroke-linejoin="round" stroke-linecap="butt" clip-path="url(#c4)"/>
<path d="M767.20,250.82 L767.70,251.40 L768.20,252.67 L768.70,254.46 L769.20,256.58 L769.70,258.85 L770.20,261.17 L770.70,265.06 L771.20,276.79 L771.70,319.03 L772.20,308.44 L772.70,290.92 L773.20,276.80 L773.70,268.72 L774.20,262.08 L774.70,256.40 L775.20,251.18 L775.70,246.39 L776.20,242.26 L776.70,239.00 L777.20,236.40 L777.70,234.11 L778.20,232.12 L778.70,230.43 L779.20,229.04 L779.70,227.88 L780.20,226.79 L780.70,225.78 L781.20,224.85 L781.70,223.99 L782.20,223.21 L782.70,222.51 L783.20,221.88 L783.70,221.35 L784.20,220.89 L784.70,220.49 L785.20,220.08 L785.70,219.68 L786.20,219.31 L786.70,218.98 L787.20,218.68 L787.70,218.41 L788.20,218.15 L788.70,217.87 L789.20,217.58 L789.70,217.29 L790.20,217.03 L790.70,216.82 L791.20,216.69 L791.70,216.65 L792.20,216.66 L792.70,216.71 L793.20,216.73 L793.70,216.70 L794.20,216.61 L794.70,216.47 L795.20,216.32 L795.70,216.19 L796.20,216.11 L796.70,216.08 L797.20,216.08 L797.70,216.08 L798.20,216.05 L798.70,215.96 L799.20,215.83 L799.70,215.67 L800.20,215.53 L800.70,215.44 L801.20,215.44 L801.70,215.51 L802.20,215.63 L802.70,215.76 L803.20,215.87 L803.70,215.91 L804.20,215.88 L804.70,215.80 L805.20,215.71 L805.70,215.64 L806.20,215.61 L806.70,215.63 L807.20,215.66 L807.70,215.69 L808.20,215.66 L808.70,215.57 L809.20,215.42 L809.70,215.23 L810.20,215.06 L810.70,214.94 L811.20,214.91 L811.70,214.97 L812.20,215.10 L812.70,215.25 L813.20,215.37 L813.70,215.44 L814.20,215.45 L814.70,215.41 L815.20,215.37 L815.70,215.35 L816.20,215.37 L816.70,215.43 L817.20,215.51 L817.70,215.57 L818.20,215.55 L818.70,215.46 L819.20,215.28 L819.70,215.06 L820.20,214.84 L820.70,214.68 L821.20,214.61 L821.70,214.64 L822.20,214.73 L822.70,214.86 L823.20,214.98 L823.70,215.06 L824.20,215.10 L824.70,215.10 L825.20,215.11 L825.70,215.16 L826.20,215.25 L826.70,215.39 L827.20,215.55 L827.70,215.66 L828.20,215.70 L828.70,215.63 L829.20,215.46 L829.70,215.23 L830.20,214.99 L830.70,214.79 L831.20,214.66 L831.70,214.62 L832.20,214.65 L832.70,214.72 L833.20,214.79 L833.70,214.83 L834.20,214.84 L834.70,214.85 L835.20,214.88 L835.70,214.97 L836.20,215.13 L836.70,215.34 L837.20,215.58 L837.70,215.77 L838.20,215.89 L838.70,215.89 L839.20,215.77 L839.70,215.57 L840.20,215.33 L840.70,215.10 L841.20,214.93 L841.70,214.82 L842.20,214.77 L842.70,214.75 L843.20,214.73 L843.70,214.69 L844.20,214.64 L844.70,214.61 L845.20,214.63 L845.70,214.73 L846.20,214.93 L846.70,215.22 L847.20,215.55 L847.70,215.87 L848.20,216.12 L848.70,216.25 L849.20,216.26 L849.70,216.18 L850.20,216.03 L850.70,215.89 L851.20,215.77 L851.70,215.70 L852.20,215.67 L852.70,215.66 L853.20,215.67 L853.70,215.68 L854.20,215.71 L854.70,215.83 L855.20,216.08 L855.70,216.54 L856.20,217.24 L856.70,218.21 L856.80,218.44 L856.90,218.68 L857.00,218.93 L857.10,219.19 L857.20,219.46 L857.20,219.46 L857.30,219.74 L857.40,220.04 L857.50,220.34 L857.60,220.66 L857.70,220.98 L857.70,220.98 L857.80,221.32 L857.90,221.67 L858.00,222.04 L858.10,222.41 L858.20,222.80 L858.20,222.80 L858.30,223.21 L858.40,223.63 L858.50,224.07 L858.60,224.52 L858.70,224.36 L858.70,224.36 L858.80,224.81 L858.90,225.28 L859.00,225.78 L859.10,226.30 L859.20,226.86 L859.20,226.86 L859.30,227.45 L859.40,228.07 L859.50,228.74 L859.60,229.44 L859.70,230.18 L859.70,230.18 L859.80,230.98 L859.90,231.83 L860.00,232.73 L860.10,233.69 L860.20,234.71 L860.20,234.71 L860.30,235.81 L860.40,236.98 L860.50,238.22 L860.60,239.56 L860.70,240.99 L860.70,240.99 L860.80,242.52 L860.90,244.16 L861.00,245.92 L861.10,247.81 L861.20,249.84 L861.20,249.84 L861.30,252.02 L861.40,254.37 L861.50,256.90 L861.60,259.63 L861.70,262.58 L861.70,262.58 L861.80,265.75 L861.90,269.17 L862.00,272.83 L862.10,276.72 L862.20,280.79 L862.20,280.79 L862.30,284.93 L862.40,288.90 L862.50,292.34 L862.60,294.75 L862.70,295.64 L862.70,295.64 L862.80,294.79 L862.90,292.42 L863.00,289.02 L863.10,285.09 L863.20,280.99 L863.20,280.99 L863.30,276.95 L863.40,273.09 L863.50,269.45 L863.60,266.06 L863.70,262.90 L863.70,262.90 L863.80,259.97 L863.90,257.25 L864.00,254.72 L864.10,252.37 L864.20,250.18 L864.20,250.18 L864.30,248.14 L864.40,246.23 L864.50,244.45 L864.60,242.79 L864.70,241.23 L864.70,241.23 L864.80,239.77 L864.90,238.40 L865.00,237.12 L865.10,235.92 L865.20,234.79 L865.20,234.79 L865.30,233.72 L865.40,232.73 L865.50,231.79 L865.60,230.91 L865.70,230.08 L865.70,230.08 L865.80,229.31 L865.90,228.58 L866.00,227.89 L866.10,227.25 L866.20,226.65 L866.20,226.65 L866.30,226.08 L866.40,225.55 L866.50,225.05 L866.60,224.58 L866.70,224.14 L866.70,224.77 L866.80,224.31 L866.90,223.87 L867.00,223.46 L867.10,223.06 L867.20,222.68 L867.20,222.68 L867.30,222.32 L867.40,221.97 L867.50,221.64 L867.60,221.32 L867.70,221.02 L867.70,221.02 L867.80,220.73 L867.90,220.44 L868.00,220.17 L868.10,219.91 L868.20,219.66 L868.20,219.66 L868.30,219.41 L868.40,219.17 L868.50,218.94 L868.60,218.72 L868.70,218.50 L869.20,217.51 L869.70,216.67 L870.20,216.02 L870.70,215.58 L871.20,215.35 L871.70,215.31 L872.20,215.41 L872.70,215.59 L873.20,215.79 L873.70,215.95 L874.20,216.04 L874.70,216.07 L875.20,216.07 L875.70,216.05 L876.20,216.05 L876.70,216.05 L877.20,216.03 L877.70,215.97 L878.20,215.82 L878.70,215.59 L879.20,215.28 L879.70,214.94 L880.20,214.63 L880.70,214.40 L881.20,214.30 L881.70,214.33 L882.20,214.45 L882.70,214.64 L883.20,214.83 L883.70,215.00 L884.20,215.12 L884.70,215.20 L885.20,215.28 L885.70,215.38 L886.20,215.51 L886.70,215.66 L887.20,215.80 L887.70,215.89 L888.20,215.88 L888.70,215.77 L889.20,215.55 L889.70,215.27 L890.20,214.98 L890.70,214.74 L891.20,214.58 L891.70,214.52 L892.20,214.55 L892.70,214.62 L893.20,214.70 L893.70,214.76 L894.20,214.78 L894.70,214.80 L895.20,214.85 L895.70,214.94 L896.20,215.10 L896.70,215.31 L897.20,215.53 L897.70,215.73 L898.20,215.83 L898.70,215.83 L899.20,215.72 L899.70,215.53 L900.20,215.30 L900.70,215.10 L901.20,214.95 L901.70,214.87 L902.20,214.84 L902.70,214.84 L903.20,214.82 L903.70,214.77 L904.20,214.70 L904.70,214.62 L905.20,214.58 L905.70,214.61 L906.20,214.74 L906.70,214.94 L907.20,215.19 L907.70,215.44 L908.20,215.62 L908.70,215.71 L909.20,215.69 L909.70,215.60 L910.20,215.47 L910.70,215.34 L911.20,215.25 L911.70,215.21 L912.20,215.19 L912.70,215.16 L913.20,215.09 L913.70,214.97 L914.20,214.81 L914.70,214.64 L915.20,214.50 L915.70,214.44 L916.20,214.49 L916.70,214.64 L917.20,214.86 L917.70,215.09 L918.20,215.30 L918.70,215.43 L919.20,215.49 L919.70,215.48 L920.20,215.45 L920.70,215.42 L921.20,215.42 L921.70,215.45 L922.20,215.49 L922.70,215.49 L923.20,215.43 L923.70,215.29 L924.20,215.08 L924.70,214.84 L925.20,214.62 L925.70,214.46 L926.20,214.41 L926.70,214.47 L927.20,214.61 L927.70,214.78 L928.20,214.95 L928.70,215.08 L929.20,215.16 L929.70,215.20 L930.20,215.24 L930.70,215.30 L931.20,215.40 L931.70,215.53 L932.20,215.66 L932.70,215.75 L933.20,215.75 L933.70,215.65 L934.20,215.45 L934.70,215.18 L935.20,214.91 L935.70,214.68 L936.20,214.53 L936.70,214.49 L937.20,214.52 L937.70,214.60 L938.20,214.68 L938.70,214.74 L939.20,214.79 L939.70,214.82 L940.20,214.88 L940.70,214.99 L941.20,215.18 L941.70,215.41 L942.20,215.65 L942.70,215.85 L943.20,215.96 L943.70,215.95 L944.20,215.82 L944.70,215.59 L945.20,215.32 L945.70,215.07 L946.20,214.87 L946.70,214.73 L947.20,214.66 L947.70,214.61 L948.20,214.57 L948.70,214.52 L949.20,214.47 L949.70,214.43 L950.20,214.45 L950.70,214.55 L951.20,214.77 L951.70,215.06 L952.20,215.40 L952.70,215.73 L953.20,215.97 L953.70,216.10 L954.20,216.09 L954.70,215.98 L955.20,215.80 L955.70,215.59 L956.20,215.40 L956.70,215.24 L957.20,215.11 L957.70,214.97 L958.20,214.82 L958.70,214.64 L959.20,214.46 L959.70,214.31 L960.20,214.26 L960.70,214.34 L961.20,214.59 L961.70,215.00 L961.80,215.10 L961.90,215.21 L962.00,215.31 L962.10,215.43 L962.20,215.55 L962.30,215.67 L962.40,215.79 L962.50,215.92 L962.60,216.05 L962.70,216.19 L962.70,216.19 L962.80,216.32 L962.90,216.46 L963.00,216.60 L963.10,216.75 L963.20,216.89 L963.20,216.89 L963.30,217.04 L963.40,217.20 L963.50,217.35 L963.60,217.51 L963.70,217.68 L963.70,217.68 L963.80,217.21 L963.90,217.35 L964.00,217.49 L964.10,217.64 L964.20,217.81 L964.20,217.81 L964.30,217.99 L964.40,218.19 L964.50,218.41 L964.60,218.65 L964.70,218.91 L964.70,218.91 L964.80,219.20 L964.90,219.53 L965.00,219.89 L965.10,220.28 L965.20,220.73 L965.20,220.73 L965.30,221.22 L965.40,221.76 L965.50,222.36 L965.60,223.03 L965.70,223.78 L965.70,223.78 L965.80,224.60 L965.90,225.52 L966.00,226.53 L966.10,227.66 L966.20,228.90 L966.20,228.90 L966.30,230.28 L966.40,231.81 L966.50,233.49 L966.60,235.35 L966.70,237.40 L966.70,237.40 L966.80,239.65 L966.90,242.10 L967.00,244.76 L967.10,247.62 L967.20,250.65 L967.20,250.65 L967.30,253.78 L967.40,256.89 L967.50,259.79 L967.60,262.21 L967.70,263.85 L967.70,263.85 L967.80,264.45 L967.90,263.88 L968.00,262.27 L968.10,259.87 L968.20,256.99 L968.20,256.99 L968.30,253.91 L968.40,250.80 L968.50,247.79 L968.60,244.95 L968.70,242.29 L968.70,242.29 L968.80,239.85 L968.90,237.61 L969.00,235.56 L969.10,233.69 L969.20,232.00 L969.20,232.00 L969.30,230.46 L969.40,229.06 L969.50,227.80 L969.60,226.65 L969.70,225.61 L969.70,225.61 L969.80,224.66 L969.90,223.81 L970.00,223.03 L970.10,222.32 L970.20,221.68 L970.20,221.68 L970.30,221.10 L970.40,220.58 L970.50,220.10 L970.60,219.67 L970.70,219.28 L970.70,219.28 L970.80,218.93 L970.90,218.61 L971.00,218.32 L971.10,218.06 L971.20,217.82 L971.20,217.82 L971.30,217.61 L971.40,217.43 L971.50,217.26 L971.60,217.11 L971.70,216.97 L971.70,216.97 L971.80,217.48 L971.90,217.33 L972.00,217.18 L972.10,217.05 L972.20,216.92 L972.20,216.92 L972.30,216.80 L972.40,216.68 L972.50,216.57 L972.60,216.46 L972.70,216.36 L972.70,216.36 L972.80,216.26 L972.90,216.16 L973.00,216.07 L973.10,215.98 L973.20,215.88 L973.20,215.88 L973.30,215.79 L973.40,215.70 L973.50,215.62 L973.60,215.53 L973.70,215.44 L973.70,215.44 L974.20,215.03 L974.70,214.66 L975.20,214.39 L975.70,214.26 L976.20,214.27 L976.70,214.43 L977.20,214.69 L977.70,215.00 L978.20,215.29 L978.70,215.51 L979.20,215.65 L979.70,215.71 L980.20,215.71 L980.70,215.71 L981.20,215.70 L981.70,215.71 L982.20,215.69 L982.70,215.64 L983.20,215.51 L983.70,215.30 L984.20,215.03 L984.70,214.74 L985.20,214.48 L985.70,214.31 L986.20,214.27 L986.70,214.35 L987.20,214.52 L987.70,214.75 L988.20,214.96 L988.70,215.14 L989.20,215.25 L989.70,215.32 L990.20,215.36 L990.70,215.41 L991.20,215.48 L991.70,215.58 L992.20,215.66 L992.70,215.70 L993.20,215.66 L993.70,215.52 L994.20,215.29 L994.70,215.02 L995.20,214.76 L995.70,214.57 L996.20,214.47 L996.70,214.49 L997.20,214.59 L997.70,214.74 L998.20,214.88 L998.70,214.99 L999.20,215.05 L999.70,215.08 L1000.20,215.11 L1000.70,215.17 L1001.20,215.27 L1001.70,215.41 L1002.20,215.55 L1002.70,215.66 L1003.20,215.68 L1003.70,215.60 L1004.20,215.42 L1004.70,215.19 L1005.20,214.95 L1005.70,214.76 L1006.20,214.66 L1006.70,214.64 L1007.20,214.70 L1007.70,214.80 L1008.20,214.89 L1008.70,214.95 L1009.20,214.96 L1009.70,214.96 L1010.20,214.97 L1010.70,215.02 L1011.20,215.12 L1011.70,215.28 L1012.20,215.45 L1012.70,215.59 L1013.20,215.65 L1013.70,215.61 L1014.20,215.48 L1014.70,215.28 L1015.20,215.06 L1015.70,214.88 L1016.20,214.78 L1016.70,214.75 L1017.20,214.79 L1017.70,214.86 L1018.20,214.92 L1018.70,214.94 L1019.20,214.93 L1019.70,214.90 L1020.20,214.88 L1020.70,214.92 L1021.20,215.03 L1021.70,215.19 L1022.20,215.38 L1022.70,215.54 L1023.20,215.63 L1023.70,215.62 L1024.20,215.52 L1024.70,215.34 L1025.20,215.14 L1025.70,214.97 L1026.20,214.86 L1026.70,214.82 L1027.20,214.85 L1027.70,214.89 L1028.20,214.92 L1028.70,214.92 L1029.20,214.88 L1029.70,214.83 L1030.20,214.80 L1030.70,214.84 L1031.20,214.95 L1031.70,215.13 L1032.20,215.34 L1032.70,215.53 L1033.20,215.65 L1033.70,215.67 L1034.20,215.59 L1034.70,215.43 L1035.20,215.24 L1035.70,215.07 L1036.20,214.96 L1036.70,214.90 L1037.20,214.90 L1037.70,214.91 L1038.20,214.90 L1038.70,214.86 L1039.20,214.79 L1039.70,214.72 L1040.20,214.67 L1040.70,214.70 L1041.20,214.82 L1041.70,215.02 L1042.20,215.27 L1042.70,215.49 L1043.20,215.66 L1043.70,215.73 L1044.20,215.69 L1044.70,215.56 L1045.20,215.40 L1045.70,215.24 L1046.20,215.12 L1046.70,215.05 L1047.20,215.01 L1047.70,214.98 L1048.20,214.92 L1048.70,214.82 L1049.20,214.70 L1049.70,214.57 L1050.20,214.49 L1050.70,214.50 L1051.20,214.62 L1051.70,214.83 L1052.20,215.10 L1052.70,215.38 L1053.20,215.60 L1053.70,215.74 L1054.20,215.77 L1054.70,215.71 L1055.20,215.60 L1055.70,215.49 L1056.20,215.39 L1056.70,215.31 L1057.20,215.25 L1057.70,215.18 L1058.20,215.06 L1058.70,214.88 L1059.20,214.68 L1059.70,214.47 L1060.20,214.32 L1060.70,214.26 L1061.20,214.34 L1061.70,214.53 L1062.20,214.81 L1062.70,215.13 L1063.20,215.41 L1063.70,215.63 L1064.20,215.75 L1064.70,215.80 L1065.20,215.79 L1065.70,215.76 L1066.20,215.74 L1066.70,215.71 L1067.20,215.68 L1067.70,215.59 L1068.20,215.43 L1068.70,215.20 L1069.20,214.91 L1069.70,214.62 L1070.20,214.37 L1070.70,214.24 L1071.20,214.26 L1071.70,214.45 L1072.20,214.77 L1072.70,215.19 L1072.80,215.28 L1072.90,215.37 L1073.00,215.47 L1073.10,215.57 L1073.20,215.67 L1073.20,215.67 L1073.30,215.77 L1073.40,215.87 L1073.50,215.97 L1073.60,216.07 L1073.70,216.18 L1073.70,216.18 L1073.80,216.29 L1073.90,216.40 L1074.00,216.51 L1074.10,216.63 L1074.20,216.75 L1074.20,216.75 L1074.30,216.87 L1074.40,217.00 L1074.50,217.13 L1074.60,217.28 L1074.70,217.43 L1074.70,217.43 L1074.80,217.59 L1074.90,217.08 L1075.00,217.22 L1075.10,217.37 L1075.20,217.54 L1075.20,217.54 L1075.30,217.73 L1075.40,217.94 L1075.50,218.18 L1075.60,218.44 L1075.70,218.73 L1075.70,218.73 L1075.80,219.05 L1075.90,219.40 L1076.00,219.80 L1076.10,220.23 L1076.20,220.72 L1076.20,220.72 L1076.30,221.25 L1076.40,221.84 L1076.50,222.49 L1076.60,223.21 L1076.70,224.01 L1076.70,224.01 L1076.80,224.89 L1076.90,225.86 L1077.00,226.94 L1077.10,228.12 L1077.20,229.44 L1077.20,229.44 L1077.30,230.89 L1077.40,232.49 L1077.50,234.26 L1077.60,236.22 L1077.70,238.38 L1077.70,238.38 L1077.80,240.76 L1077.90,243.38 L1078.00,246.24 L1078.10,249.35 L1078.20,252.68 L1078.20,252.68 L1078.30,256.17 L1078.40,259.72 L1078.50,263.11 L1078.60,266.01 L1078.70,268.00 L1078.70,268.00 L1078.80,268.71 L1078.90,267.98 L1079.00,265.97 L1079.10,263.06 L1079.20,259.65 L1079.20,259.65 L1079.30,256.09 L1079.40,252.58 L1079.50,249.24 L1079.60,246.12 L1079.70,243.25 L1079.70,243.25 L1079.80,240.63 L1079.90,238.25 L1080.00,236.09 L1080.10,234.13 L1080.20,232.36 L1080.20,232.36 L1080.30,230.77 L1080.40,229.32 L1080.50,228.02 L1080.60,226.85 L1080.70,225.79 L1080.70,225.79 L1080.80,224.83 L1080.90,223.97 L1081.00,223.20 L1081.10,222.50 L1081.20,221.86 L1081.20,221.86 L1081.30,221.29 L1081.40,220.78 L1081.50,220.32 L1081.60,219.90 L1081.70,219.53 L1081.70,219.53 L1081.80,219.19 L1081.90,218.88 L1082.00,218.61 L1082.10,218.36 L1082.20,218.13 L1082.20,218.13 L1082.30,217.93 L1082.40,217.74 L1082.50,217.57 L1082.60,217.42 L1082.70,217.28 L1082.70,217.28 L1082.80,217.15 L1082.90,217.61 L1083.00,217.45 L1083.10,217.30 L1083.20,217.15 L1083.20,217.15 L1083.30,217.00 L1083.40,216.86 L1083.50,216.72 L1083.60,216.59 L1083.70,216.45 L1083.70,216.45 L1083.80,216.32 L1083.90,216.19 L1084.00,216.06 L1084.10,215.94 L1084.20,215.82 L1084.20,215.82 L1084.30,215.70 L1084.40,215.58 L1084.50,215.47 L1084.60,215.35 L1084.70,215.25 L1084.70,215.25 L1085.20,214.78 L1085.70,214.45 L1086.20,214.28 L1086.70,214.28 L1087.20,214.42 L1087.70,214.63 L1088.20,214.86 L1088.70,215.07 L1089.20,215.24 L1089.70,215.37 L1090.20,215.49 L1090.70,215.60 L1091.20,215.73 L1091.70,215.87 L1092.20,215.98 L1092.70,216.02 L1093.20,215.96 L1093.70,215.79 L1094.20,215.52 L1094.70,215.19 L1095.20,214.86 L1095.70,214.59 L1096.20,214.43 L1096.70,214.38 L1097.20,214.43 L1097.70,214.54 L1098.20,214.67 L1098.70,214.78 L1099.20,214.87 L1099.70,214.94 L1100.20,215.02 L1100.70,215.14 L1101.20,215.31 L1101.70,215.52 L1102.20,215.72 L1102.70,215.88 L1103.20,215.94 L1103.70,215.88 L1104.20,215.71 L1104.70,215.47 L1105.20,215.20 L1105.70,214.97 L1106.20,214.80 L1106.70,214.73 L1107.20,214.72 L1107.70,214.75 L1108.20,214.78 L1108.70,214.79 L1109.20,214.78 L1109.70,214.76 L1110.20,214.78 L1110.70,214.85 L1111.20,215.00 L1111.70,215.21 L1112.20,215.44 L1112.70,215.65 L1113.20,215.78 L1113.70,215.81 L1114.20,215.73 L1114.70,215.57 L1115.20,215.38 L1115.70,215.21 L1116.20,215.09 L1116.70,215.03 L1117.20,215.01 L1117.70,215.01 L1118.20,215.00 L1118.70,214.95 L1119.20,214.86 L1119.70,214.77 L1120.20,214.71 L1120.70,214.72 L1121.20,214.81 L1121.70,214.99 L1122.20,215.21 L1122.70,215.42 L1123.20,215.58 L1123.70,215.65 L1124.20,215.63 L1124.70,215.54 L1125.20,215.41 L1125.70,215.30 L1126.20,215.24 L1126.70,215.22 L1127.20,215.24 L1127.70,215.25 L1128.20,215.22 L1128.70,215.15 L1129.20,215.02 L1129.70,214.88 L1130.20,214.76 L1130.70,214.71 L1131.20,214.75 L1131.70,214.88 L1132.20,215.07 L1132.70,215.26 L1133.20,215.41 L1133.70,215.49 L1134.20,215.49 L1134.70,215.43 L1135.20,215.35 L1135.70,215.30 L1136.20,215.28 L1136.70,215.31 L1137.20,215.37 L1137.70,215.41 L1138.20,215.40 L1138.70,215.33 L1139.20,215.20 L1139.70,215.04 L1140.20,214.89 L1140.70,214.80 L1141.20,214.80 L1141.70,214.88 L1142.20,215.02 L1142.70,215.18 L1143.20,215.31 L1143.70,215.37 L1144.20,215.37 L1144.70,215.32 L1145.20,215.26 L1145.70,215.23 L1146.20,215.25 L1146.70,215.32 L1147.20,215.41 L1147.70,215.49 L1148.20,215.52 L1148.70,215.47 L1149.20,215.34 L1149.70,215.18 L1150.20,215.03 L1150.70,214.92 L1151.20,214.89 L1151.70,214.95 L1152.20,215.06 L1152.70,215.18 L1153.20,215.27 L1153.70,215.31 L1154.20,215.30 L1154.70,215.24 L1155.20,215.18 L1155.70,215.16 L1156.20,215.19 L1156.70,215.28 L1157.20,215.40 L1157.70,215.51 L1158.20,215.56 L1158.70,215.54 L1159.20,215.44 L1159.70,215.30 L1160.20,215.15 L1160.70,215.04 L1161.20,215.01 L1161.70,215.04 L1162.20,215.13 L1162.70,215.23 L1163.20,215.30 L1163.70,215.32 L1164.20,215.28 L1164.70,215.20 L1165.20,215.13 L1165.70,215.10 L1166.20,215.14 L1166.70,215.24 L1167.20,215.37 L1167.70,215.50 L1168.20,215.57 L1168.70,215.57 L1169.20,215.49 L1169.70,215.37 L1170.20,215.24 L1170.70,215.14 L1171.20,215.11 L1171.70,215.15 L1172.20,215.23 L1172.70,215.31 L1173.20,215.37 L1173.70,215.37 L1174.20,215.31 L1174.70,215.22 L1175.20,215.23 L1175.70,215.40 L1176.20,215.73 L1176.70,216.21 L1177.20,216.81 L1177.70,217.46 L1178.20,218.14 L1178.70,218.85 L1179.20,219.60 L1179.70,220.43 L1180.20,221.66 L1180.70,223.81 L1181.20,226.75 L1181.70,230.33 L1182.20,234.43 L1182.70,238.90 L1183.20,243.64 L1183.70,249.12 L1184.20,255.95 L1184.70,264.71 L1185.20,276.75 L1185.70,305.57 L1186.20,319.13 L1186.70,311.03 L1187.20,295.64 L1187.70,278.40 L1188.20,264.73 L1188.70,256.43 L1189.20,248.69 L1189.70,241.63 L1190.20,235.56 L1190.70,230.79 L1191.20,227.64 L1191.70,226.05 L1192.20,224.74 L1192.70,223.55 L1193.20,222.48 L1193.70,221.51 L1194.20,220.67 L1194.70,219.89 L1195.20,219.20 L1195.70,218.61 L1196.20,218.14 L1196.70,217.80 L1197.20,217.60 L1197.70,217.48 L1198.20,217.41 L1198.70,217.30 L1199.20,217.14 L1199.70,216.95 L1200.20,216.76 L1200.70,216.60 L1201.20,216.48 L1201.70,216.42 L1202.20,216.40 L1202.70,216.38 L1203.20,216.33 L1203.70,216.23 L1204.20,216.07 L1204.70,215.88 L1205.20,215.69 L1205.70,215.53 L1206.20,215.45 L1206.70,215.44 L1207.20,215.47 L1207.70,215.51 L1208.20,215.52 L1208.70,215.47 L1209.20,215.36 L1209.70,215.21 L1210.20,215.05 L1210.70,214.94 L1211.20,214.90 L1211.70,214.93 L1212.20,214.99 L1212.70,215.06 L1213.20,215.09 L1213.70,215.05 L1214.20,214.93 L1214.70,214.78 L1215.20,214.62 L1215.70,214.51 L1216.20,214.48 L1216.70,214.53 L1217.20,214.62 L1217.70,214.73 L1218.20,214.79 L1218.70,214.78 L1219.20,214.71 L1219.70,214.60 L1220.20,214.49 L1220.70,214.42 L1221.20,214.43 L1221.70,214.51 L1222.20,214.64 L1222.70,214.77 L1223.20,214.86 L1223.70,214.88 L1224.20,214.82 L1224.70,214.72 L1225.20,214.63 L1225.70,214.58 L1226.20,214.61 L1226.70,214.72 L1227.20,214.87 L1227.70,215.02 L1228.20,215.14 L1228.70,215.19 L1229.20,215.18 L1229.70,215.14 L1230.20,215.10 L1230.70,215.11 L1231.20,215.18 L1231.70,215.33 L1232.20,215.51 L1232.70,215.69 L1233.20,215.83 L1233.70,215.91 L1234.20,215.93 L1234.70,215.91 L1235.20,215.90 L1235.70,215.93 L1236.20,216.02 L1236.70,216.17 L1237.20,216.35 L1237.70,216.53 L1238.20,216.67 L1238.70,216.77 L1239.20,216.82 L1239.70,216.84 L1240.20,216.87 L1240.70,216.94 L1241.20,217.05 L1241.70,217.21 L1242.20,217.40 L1242.70,217.59 L1243.20,217.77 L1243.70,217.91 L1244.20,218.03 L1244.70,218.14 L1245.20,218.27 L1245.70,218.44 L1246.20,218.65 L1246.70,218.91 L1247.20,219.19 L1247.70,219.47 L1248.20,219.75 L1248.70,220.02 L1249.20,220.28 L1249.70,220.56 L1250.20,220.86 L1250.70,221.19 L1251.20,221.54 L1251.70,221.89 L1252.20,222.25 L1252.70,222.62 L1253.20,223.02 L1253.70,223.47 L1254.20,223.96 L1254.70,224.50 L1255.20,225.08 L1255.70,225.71 L1256.20,226.39 L1256.70,227.10 L1257.20,227.85 L1257.70,228.65 L1258.20,229.48 L1258.70,230.34 L1259.20,231.25 L1259.70,232.19 L1260.20,233.16 L1260.70,234.16 L1261.20,235.19 L1261.70,236.26 L1262.20,237.40 L1262.70,238.62 L1263.20,239.92 L1263.70,241.32 L1264.20,242.82 L1264.70,244.44 L1265.20,246.18 L1265.70,248.05 L1266.20,250.05 L1266.70,252.21 L1267.20,254.53 L1267.70,257.02 L1268.20,260.10 L1268.70,263.85 L1269.20,268.15 L1269.70,272.86 L1270.20,277.88 L1270.70,283.06 L1271.20,289.23 L1271.70,297.43 L1272.20,306.12 L1272.70,313.68 L1273.20,318.50 L1273.70,318.96 L1274.20,314.69 L1274.70,307.45 L1275.20,299.23 L1275.70,292.02 L1276.20,287.70 L1276.70,284.87 L1277.20,282.35 L1277.70,280.16 L1278.20,278.32 L1278.70,276.85 L1279.20,275.77 L1279.70,274.97 L1280.20,274.22 L1280.70,273.50 L1281.20,272.82 L1281.70,272.18 L1282.20,271.58 L1282.70,271.02 L1283.20,270.51 L1283.70,270.05 L1284.20,269.63 L1284.70,269.26 L1285.20,268.94 L1285.70,268.68 L1286.20,268.47 L1286.70,268.32 L1287.20,268.23" fill="none" stroke="#0072BD" stroke-width="4.8" stroke-linejoin="round" stroke-linecap="butt" clip-path="url(#c5)"/>
<path d="M767.20,379.22 L767.70,371.06 L768.20,363.53 L768.70,356.89 L769.20,351.40 L769.70,346.73 L770.20,342.40 L770.70,338.49 L771.20,335.07 L771.70,332.22 L772.20,330.00 L772.70,328.19 L773.20,326.51 L773.70,324.96 L774.20,323.53 L774.70,322.25 L775.20,321.09 L775.70,320.08 L776.20,319.21 L776.70,318.48 L777.20,317.90 L777.70,317.45 L778.20,317.04 L778.70,316.64 L779.20,316.24 L779.70,315.83 L780.20,315.42 L780.70,315.03 L781.20,314.68 L781.70,314.39 L782.20,314.14 L782.70,313.91 L783.20,313.67 L783.70,313.41 L784.20,313.11 L784.70,312.81 L785.20,312.55 L785.70,312.38 L786.20,312.31 L786.70,312.36 L787.20,312.48 L787.70,312.62 L788.20,312.72 L788.70,312.78 L789.20,312.76 L789.70,312.70 L790.20,312.62 L790.70,312.56 L791.20,312.54 L791.70,312.56 L792.20,312.60 L792.70,312.62 L793.20,312.57 L793.70,312.45 L794.20,312.26 L794.70,312.02 L795.20,311.80 L795.70,311.64 L796.20,311.58 L796.70,311.61 L797.20,311.72 L797.70,311.86 L798.20,311.99 L798.70,312.08 L799.20,312.10 L799.70,312.09 L800.20,312.08 L800.70,312.09 L801.20,312.15 L801.70,312.24 L802.20,312.35 L802.70,312.42 L803.20,312.41 L803.70,312.30 L804.20,312.09 L804.70,311.82 L805.20,311.55 L805.70,311.33 L806.20,311.21 L806.70,311.18 L807.20,311.24 L807.70,311.34 L808.20,311.45 L808.70,311.52 L809.20,311.56 L809.70,311.58 L810.20,311.61 L810.70,311.70 L811.20,311.85 L811.70,312.04 L812.20,312.25 L812.70,312.41 L813.20,312.48 L813.70,312.42 L814.20,312.25 L814.70,312.00 L815.20,311.71 L815.70,311.46 L816.20,311.28 L816.70,311.18 L817.20,311.16 L817.70,311.18 L818.20,311.21 L818.70,311.22 L819.20,311.22 L819.70,311.24 L820.20,311.30 L820.70,311.44 L821.20,311.67 L821.70,311.98 L822.20,312.31 L822.70,312.62 L823.20,312.84 L823.70,312.94 L824.20,312.90 L824.70,312.77 L825.20,312.59 L825.70,312.41 L826.20,312.29 L826.70,312.24 L827.20,312.27 L827.70,312.35 L828.20,312.47 L828.70,312.62 L829.20,312.84 L829.70,313.17 L830.20,313.69 L830.70,314.47 L830.90,314.86 L831.00,315.08 L831.10,315.31 L831.20,315.55 L831.30,315.81 L831.40,316.09 L831.50,316.37 L831.60,316.68 L831.70,316.99 L831.70,316.99 L831.80,317.33 L831.90,317.68 L832.00,318.04 L832.10,318.42 L832.20,318.82 L832.20,318.82 L832.30,319.23 L832.40,319.67 L832.50,320.12 L832.60,320.58 L832.70,321.07 L832.70,321.07 L832.80,321.58 L832.90,321.43 L833.00,321.93 L833.10,322.46 L833.20,323.01 L833.20,323.01 L833.30,323.59 L833.40,324.20 L833.50,324.85 L833.60,325.52 L833.70,326.24 L833.70,326.24 L833.80,326.99 L833.90,327.79 L834.00,328.63 L834.10,329.52 L834.20,330.46 L834.20,330.46 L834.30,331.46 L834.40,332.52 L834.50,333.65 L834.60,334.85 L834.70,336.13 L834.70,336.13 L834.80,337.49 L834.90,338.95 L835.00,340.50 L835.10,342.16 L835.20,343.94 L835.20,343.94 L835.30,345.84 L835.40,347.89 L835.50,350.08 L835.60,352.44 L835.70,354.99 L835.70,354.99 L835.80,357.73 L835.90,360.69 L836.00,363.87 L836.10,367.31 L836.20,370.99 L836.20,370.99 L836.30,374.90 L836.40,379.00 L836.50,383.16 L836.60,387.17 L836.70,390.65 L836.70,390.65 L836.80,393.09 L836.90,393.99 L837.00,393.15 L837.10,390.77 L837.20,387.35 L837.20,387.35 L837.30,383.39 L837.40,379.28 L837.50,375.23 L837.60,371.36 L837.70,367.72 L837.70,367.72 L837.80,364.32 L837.90,361.16 L838.00,358.23 L838.10,355.50 L838.20,352.97 L838.20,352.97 L838.30,350.61 L838.40,348.41 L838.50,346.36 L838.60,344.44 L838.70,342.64 L838.70,342.64 L838.80,340.96 L838.90,339.37 L839.00,337.88 L839.10,336.48 L839.20,335.17 L839.20,335.17 L839.30,333.92 L839.40,332.75 L839.50,331.64 L839.60,330.59 L839.70,329.61 L839.70,329.61 L839.80,328.67 L839.90,327.79 L840.00,326.95 L840.10,326.16 L840.20,325.42 L840.20,325.42 L840.30,324.71 L840.40,324.05 L840.50,323.42 L840.60,322.82 L840.70,322.26 L840.70,322.26 L840.80,321.73 L840.90,321.90 L841.00,321.38 L841.10,320.89 L841.20,320.42 L841.20,320.42 L841.30,319.97 L841.40,319.54 L841.50,319.14 L841.60,318.75 L841.70,318.39 L841.70,318.39 L841.80,318.04 L841.90,317.70 L842.00,317.39 L842.10,317.09 L842.20,316.80 L842.20,316.80 L842.30,316.52 L842.40,316.26 L842.50,316.01 L842.60,315.77 L842.70,315.54 L842.70,315.54 L842.80,315.32 L843.20,314.51 L843.70,313.66 L844.20,312.97 L844.70,312.42 L845.20,312.05 L845.70,311.88 L846.20,311.90 L846.70,312.08 L847.20,312.36 L847.70,312.67 L848.20,312.93 L848.70,313.09 L849.20,313.12 L849.70,313.03 L850.20,312.87 L850.70,312.67 L851.20,312.47 L851.70,312.28 L852.20,312.10 L852.70,311.90 L853.20,311.67 L853.70,311.39 L854.20,311.10 L854.70,310.83 L855.20,310.63 L855.70,310.57 L856.20,310.65 L856.70,310.88 L857.20,311.21 L857.70,311.58 L858.20,311.91 L858.70,312.17 L859.20,312.33 L859.70,312.39 L860.20,312.39 L860.70,312.36 L861.20,312.33 L861.70,312.29 L862.20,312.23 L862.70,312.13 L863.20,311.95 L863.70,311.69 L864.20,311.37 L864.70,311.04 L865.20,310.76 L865.70,310.59 L866.20,310.56 L866.70,310.68 L867.20,310.91 L867.70,311.20 L868.20,311.49 L868.70,311.73 L869.20,311.91 L869.70,312.03 L870.20,312.10 L870.70,312.18 L871.20,312.25 L871.70,312.33 L872.20,312.39 L872.70,312.37 L873.20,312.26 L873.70,312.04 L874.20,311.72 L874.70,311.37 L875.20,311.03 L875.70,310.77 L876.20,310.65 L876.70,310.66 L877.20,310.78 L877.70,310.97 L878.20,311.19 L878.70,311.38 L879.20,311.54 L879.70,311.67 L880.20,311.79 L880.70,311.94 L881.20,312.11 L881.70,312.29 L882.20,312.46 L882.70,312.54 L883.20,312.52 L883.70,312.36 L884.20,312.08 L884.70,311.72 L885.20,311.36 L885.70,311.04 L886.20,310.83 L886.70,310.74 L887.20,310.75 L887.70,310.84 L888.20,310.96 L888.70,311.07 L889.20,311.18 L889.70,311.29 L890.20,311.43 L890.70,311.62 L891.20,311.87 L891.70,312.15 L892.20,312.43 L892.70,312.63 L893.20,312.72 L893.70,312.65 L894.20,312.44 L894.70,312.12 L895.20,311.76 L895.70,311.41 L896.20,311.14 L896.70,310.95 L897.20,310.85 L897.70,310.82 L898.20,310.81 L898.70,310.82 L899.20,310.83 L899.70,310.88 L900.20,311.00 L900.70,311.20 L901.20,311.50 L901.70,311.87 L902.20,312.26 L902.70,312.59 L903.20,312.82 L903.70,312.89 L904.20,312.80 L904.70,312.58 L905.20,312.28 L905.70,311.95 L906.20,311.66 L906.70,311.42 L907.20,311.23 L907.70,311.07 L908.20,310.94 L908.70,310.82 L909.20,310.74 L909.70,310.72 L910.20,310.81 L910.70,311.06 L911.10,311.40 L911.20,311.50 L911.30,311.60 L911.40,311.72 L911.50,311.84 L911.60,311.97 L911.70,312.10 L911.70,312.10 L911.80,312.24 L911.90,312.39 L912.00,312.54 L912.10,312.69 L912.20,312.85 L912.20,312.85 L912.30,313.02 L912.40,313.19 L912.50,313.36 L912.60,313.54 L912.70,313.72 L912.70,313.72 L912.80,313.91 L912.90,314.10 L913.00,314.29 L913.10,313.82 L913.20,313.98 L913.20,313.98 L913.30,314.15 L913.40,314.33 L913.50,314.52 L913.60,314.73 L913.70,314.94 L913.70,314.94 L913.80,315.18 L913.90,315.43 L914.00,315.71 L914.10,316.01 L914.20,316.35 L914.20,316.35 L914.30,316.71 L914.40,317.11 L914.50,317.54 L914.60,318.03 L914.70,318.56 L914.70,318.56 L914.80,319.16 L914.90,319.81 L915.00,320.54 L915.10,321.35 L915.20,322.25 L915.20,322.25 L915.30,323.24 L915.40,324.35 L915.50,325.57 L915.60,326.93 L915.70,328.44 L915.70,328.44 L915.80,330.10 L915.90,331.95 L916.00,333.98 L916.10,336.22 L916.20,338.66 L916.20,338.66 L916.30,341.33 L916.40,344.20 L916.50,347.24 L916.60,350.40 L916.70,353.54 L916.70,353.54 L916.80,356.49 L916.90,358.95 L917.00,360.63 L917.10,361.23 L917.20,360.65 L917.20,360.65 L917.30,359.00 L917.40,356.56 L917.50,353.63 L917.60,350.51 L917.70,347.37 L917.70,347.37 L917.80,344.33 L917.90,341.47 L918.00,338.81 L918.10,336.36 L918.20,334.11 L918.20,334.11 L918.30,332.07 L918.40,330.20 L918.50,328.51 L918.60,326.98 L918.70,325.59 L918.70,325.59 L918.80,324.33 L918.90,323.18 L919.00,322.14 L919.10,321.20 L919.20,320.34 L919.20,320.34 L919.30,319.56 L919.40,318.85 L919.50,318.21 L919.60,317.62 L919.70,317.09 L919.70,317.09 L919.80,316.60 L919.90,316.16 L920.00,315.76 L920.10,315.39 L920.20,315.06 L920.20,315.06 L920.30,314.75 L920.40,314.48 L920.50,314.23 L920.60,314.00 L920.70,313.80 L920.70,313.80 L920.80,313.62 L920.90,313.46 L921.00,313.31 L921.10,313.85 L921.20,313.69 L921.20,313.69 L921.30,313.53 L921.40,313.39 L921.50,313.26 L921.60,313.14 L921.70,313.03 L921.70,313.03 L921.80,312.92 L921.90,312.82 L922.00,312.73 L922.10,312.64 L922.20,312.56 L922.20,312.56 L922.30,312.49 L922.40,312.41 L922.50,312.34 L922.60,312.27 L922.70,312.21 L922.70,312.21 L922.80,312.15 L922.90,312.08 L923.00,312.02 L923.20,311.90 L923.70,311.61 L924.20,311.33 L924.70,311.08 L925.20,310.92 L925.70,310.86 L926.20,310.94 L926.70,311.14 L927.20,311.42 L927.70,311.72 L928.20,311.97 L928.70,312.14 L929.20,312.21 L929.70,312.19 L930.20,312.13 L930.70,312.07 L931.20,312.02 L931.70,312.01 L932.20,312.00 L932.70,311.97 L933.20,311.88 L933.70,311.72 L934.20,311.50 L934.70,311.26 L935.20,311.05 L935.70,310.92 L936.20,310.91 L936.70,311.00 L937.20,311.17 L937.70,311.38 L938.20,311.56 L938.70,311.69 L939.20,311.74 L939.70,311.75 L940.20,311.74 L940.70,311.75 L941.20,311.80 L941.70,311.90 L942.20,312.01 L942.70,312.09 L943.20,312.10 L943.70,312.02 L944.20,311.86 L944.70,311.64 L945.20,311.43 L945.70,311.26 L946.20,311.19 L946.70,311.20 L947.20,311.28 L947.70,311.38 L948.20,311.46 L948.70,311.49 L949.20,311.47 L949.70,311.42 L950.20,311.38 L950.70,311.39 L951.20,311.47 L951.70,311.61 L952.20,311.79 L952.70,311.96 L953.20,312.06 L953.70,312.08 L954.20,312.01 L954.70,311.87 L955.20,311.72 L955.70,311.59 L956.20,311.53 L956.70,311.53 L957.20,311.57 L957.70,311.61 L958.20,311.62 L958.70,311.56 L959.20,311.45 L959.70,311.31 L960.20,311.18 L960.70,311.12 L961.20,311.16 L961.70,311.28 L962.20,311.46 L962.70,311.65 L963.20,311.81 L963.70,311.89 L964.20,311.90 L964.70,311.86 L965.20,311.80 L965.70,311.76 L966.20,311.77 L966.70,311.83 L967.20,311.91 L967.70,311.96 L968.20,311.95 L968.70,311.85 L969.20,311.67 L969.70,311.45 L970.20,311.23 L970.70,311.07 L971.20,311.01 L971.70,311.05 L972.20,311.16 L972.70,311.31 L973.20,311.44 L973.70,311.54 L974.20,311.58 L974.70,311.60 L975.20,311.62 L975.70,311.68 L976.20,311.80 L976.70,311.96 L977.20,312.13 L977.70,312.27 L978.20,312.31 L978.70,312.25 L979.20,312.07 L979.70,311.81 L980.20,311.54 L980.70,311.30 L981.20,311.13 L981.70,311.05 L982.20,311.05 L982.70,311.08 L983.20,311.12 L983.70,311.15 L984.20,311.15 L984.70,311.16 L985.20,311.21 L985.70,311.33 L986.20,311.54 L986.70,311.82 L987.20,312.12 L987.70,312.39 L988.20,312.57 L988.70,312.62 L989.20,312.53 L989.70,312.33 L990.20,312.07 L990.70,311.81 L991.20,311.59 L991.70,311.42 L992.20,311.30 L992.70,311.21 L993.20,311.12 L993.70,311.02 L994.20,310.92 L994.70,310.87 L995.20,310.91 L995.70,311.09 L996.20,311.42 L996.40,311.60 L996.50,311.70 L996.60,311.80 L996.70,311.91 L996.80,312.02 L996.90,312.14 L997.00,312.27 L997.10,312.39 L997.20,312.52 L997.20,312.52 L997.30,312.66 L997.40,312.79 L997.50,312.94 L997.60,313.08 L997.70,313.22 L997.70,313.22 L997.80,313.37 L997.90,313.52 L998.00,313.68 L998.10,313.84 L998.20,314.00 L998.20,314.00 L998.30,314.16 L998.40,313.66 L998.50,313.78 L998.60,313.92 L998.70,314.06 L998.70,314.06 L998.80,314.21 L998.90,314.38 L999.00,314.55 L999.10,314.75 L999.20,314.96 L999.20,314.96 L999.30,315.20 L999.40,315.46 L999.50,315.74 L999.60,316.05 L999.70,316.40 L999.70,316.40 L999.80,316.78 L999.90,317.21 L1000.00,317.68 L1000.10,318.20 L1000.20,318.78 L1000.20,318.78 L1000.30,319.43 L1000.40,320.14 L1000.50,320.92 L1000.60,321.79 L1000.70,322.75 L1000.70,322.75 L1000.80,323.81 L1000.90,324.97 L1001.00,326.24 L1001.10,327.63 L1001.20,329.15 L1001.20,329.15 L1001.30,330.79 L1001.40,332.55 L1001.50,334.43 L1001.60,336.41 L1001.70,338.47 L1001.70,338.47 L1001.80,340.55 L1001.90,342.60 L1002.00,344.53 L1002.10,346.23 L1002.20,347.57 L1002.20,347.57 L1002.30,348.45 L1002.40,348.76 L1002.50,348.49 L1002.60,347.65 L1002.70,346.35 L1002.70,346.35 L1002.80,344.69 L1002.90,342.80 L1003.00,340.78 L1003.10,338.72 L1003.20,336.69 L1003.20,336.69 L1003.30,334.73 L1003.40,332.86 L1003.50,331.10 L1003.60,329.46 L1003.70,327.95 L1003.70,327.95 L1003.80,326.54 L1003.90,325.26 L1004.00,324.07 L1004.10,322.99 L1004.20,322.00 L1004.20,322.00 L1004.30,321.10 L1004.40,320.27 L1004.50,319.52 L1004.60,318.83 L1004.70,318.20 L1004.70,318.20 L1004.80,317.63 L1004.90,317.11 L1005.00,316.63 L1005.10,316.20 L1005.20,315.81 L1005.20,315.81 L1005.30,315.45 L1005.40,315.13 L1005.50,314.83 L1005.60,314.57 L1005.70,314.33 L1005.70,314.33 L1005.80,314.11 L1005.90,313.92 L1006.00,313.74 L1006.10,313.59 L1006.20,313.45 L1006.20,313.45 L1006.30,313.32 L1006.40,313.88 L1006.50,313.74 L1006.60,313.60 L1006.70,313.47 L1006.70,313.47 L1006.80,313.35 L1006.90,313.24 L1007.00,313.13 L1007.10,313.03 L1007.20,312.94 L1007.20,312.94 L1007.30,312.85 L1007.40,312.76 L1007.50,312.67 L1007.60,312.59 L1007.70,312.51 L1007.70,312.51 L1007.80,312.44 L1007.90,312.36 L1008.00,312.28 L1008.10,312.21 L1008.20,312.13 L1008.20,312.13 L1008.30,312.06 L1008.70,311.76 L1009.20,311.40 L1009.70,311.07 L1010.20,310.84 L1010.70,310.73 L1011.20,310.76 L1011.70,310.94 L1012.20,311.21 L1012.70,311.52 L1013.20,311.80 L1013.70,312.01 L1014.20,312.13 L1014.70,312.16 L1015.20,312.15 L1015.70,312.13 L1016.20,312.13 L1016.70,312.14 L1017.20,312.15 L1017.70,312.12 L1018.20,312.02 L1018.70,311.84 L1019.20,311.59 L1019.70,311.32 L1020.20,311.08 L1020.70,310.92 L1021.20,310.88 L1021.70,310.95 L1022.20,311.11 L1022.70,311.31 L1023.20,311.49 L1023.70,311.62 L1024.20,311.69 L1024.70,311.71 L1025.20,311.71 L1025.70,311.74 L1026.20,311.81 L1026.70,311.91 L1027.20,312.03 L1027.70,312.11 L1028.20,312.13 L1028.70,312.04 L1029.20,311.88 L1029.70,311.66 L1030.20,311.45 L1030.70,311.29 L1031.20,311.21 L1031.70,311.23 L1032.20,311.32 L1032.70,311.43 L1033.20,311.52 L1033.70,311.56 L1034.20,311.54 L1034.70,311.48 L1035.20,311.43 L1035.70,311.43 L1036.20,311.49 L1036.70,311.61 L1037.20,311.77 L1037.70,311.91 L1038.20,311.99 L1038.70,311.99 L1039.20,311.91 L1039.70,311.77 L1040.20,311.63 L1040.70,311.53 L1041.20,311.49 L1041.70,311.53 L1042.20,311.61 L1042.70,311.70 L1043.20,311.75 L1043.70,311.73 L1044.20,311.64 L1044.70,311.51 L1045.20,311.39 L1045.70,311.31 L1046.20,311.31 L1046.70,311.39 L1047.20,311.51 L1047.70,311.64 L1048.20,311.74 L1048.70,311.76 L1049.20,311.73 L1049.70,311.65 L1050.20,311.57 L1050.70,311.54 L1051.20,311.58 L1051.70,311.69 L1052.20,311.83 L1052.70,311.96 L1053.20,312.03 L1053.70,312.02 L1054.20,311.91 L1054.70,311.75 L1055.20,311.58 L1055.70,311.44 L1056.20,311.36 L1056.70,311.36 L1057.20,311.41 L1057.70,311.48 L1058.20,311.51 L1058.70,311.50 L1059.20,311.44 L1059.70,311.36 L1060.20,311.31 L1060.70,311.32 L1061.20,311.43 L1061.70,311.61 L1062.20,311.83 L1062.70,312.05 L1063.20,312.21 L1063.70,312.26 L1064.20,312.22 L1064.70,312.09 L1065.20,311.93 L1065.70,311.77 L1066.20,311.66 L1066.70,311.60 L1067.20,311.57 L1067.70,311.54 L1068.20,311.48 L1068.70,311.37 L1069.20,311.22 L1069.70,311.07 L1070.20,310.97 L1070.70,310.96 L1071.20,311.07 L1071.70,311.29 L1072.20,311.58 L1072.70,311.88 L1073.20,312.15 L1073.70,312.32 L1074.20,312.39 L1074.70,312.38 L1075.20,312.31 L1075.70,312.22 L1076.20,312.15 L1076.70,312.10 L1077.20,312.04 L1077.70,311.95 L1078.20,311.81 L1078.70,311.59 L1079.20,311.32 L1079.70,311.06 L1080.20,310.85 L1080.70,310.76 L1081.20,310.83 L1081.70,311.06 L1082.20,311.43 L1082.70,311.88 L1082.80,311.98 L1082.90,312.08 L1083.00,312.18 L1083.10,312.28 L1083.20,312.38 L1083.20,312.38 L1083.30,312.48 L1083.40,312.58 L1083.50,312.68 L1083.60,312.79 L1083.70,312.89 L1083.70,312.89 L1083.80,312.99 L1083.90,313.10 L1084.00,313.21 L1084.10,313.32 L1084.20,313.43 L1084.20,313.43 L1084.30,313.54 L1084.40,313.66 L1084.50,313.79 L1084.60,313.92 L1084.70,314.06 L1084.70,314.06 L1084.80,314.20 L1084.90,313.63 L1085.00,313.75 L1085.10,313.88 L1085.20,314.03 L1085.20,314.03 L1085.30,314.20 L1085.40,314.39 L1085.50,314.59 L1085.60,314.83 L1085.70,315.09 L1085.70,315.09 L1085.80,315.38 L1085.90,315.70 L1086.00,316.06 L1086.10,316.46 L1086.20,316.90 L1086.20,316.90 L1086.30,317.39 L1086.40,317.93 L1086.50,318.53 L1086.60,319.19 L1086.70,319.92 L1086.70,319.92 L1086.80,320.72 L1086.90,321.60 L1087.00,322.58 L1087.10,323.65 L1087.20,324.83 L1087.20,324.83 L1087.30,326.13 L1087.40,327.55 L1087.50,329.11 L1087.60,330.81 L1087.70,332.67 L1087.70,332.67 L1087.80,334.67 L1087.90,336.84 L1088.00,339.14 L1088.10,341.58 L1088.20,344.09 L1088.20,344.09 L1088.30,346.61 L1088.40,349.03 L1088.50,351.22 L1088.60,352.98 L1088.70,354.13 L1088.70,354.13 L1088.80,354.53 L1088.90,354.11 L1089.00,352.94 L1089.10,351.16 L1089.20,348.96 L1089.20,348.96 L1089.30,346.52 L1089.40,343.98 L1089.50,341.46 L1089.60,339.02 L1089.70,336.70 L1089.70,336.70 L1089.80,334.53 L1089.90,332.52 L1090.00,330.66 L1090.10,328.96 L1090.20,327.41 L1090.20,327.41 L1090.30,325.99 L1090.40,324.70 L1090.50,323.54 L1090.60,322.48 L1090.70,321.52 L1090.70,321.52 L1090.80,320.65 L1090.90,319.86 L1091.00,319.16 L1091.10,318.52 L1091.20,317.94 L1091.20,317.94 L1091.30,317.42 L1091.40,316.96 L1091.50,316.54 L1091.60,316.16 L1091.70,315.82 L1091.70,315.82 L1091.80,315.52 L1091.90,315.24 L1092.00,315.00 L1092.10,314.77 L1092.20,314.58 L1092.20,314.58 L1092.30,314.40 L1092.40,314.23 L1092.50,314.09 L1092.60,313.95 L1092.70,313.83 L1092.70,313.83 L1092.80,313.72 L1092.90,314.25 L1093.00,314.10 L1093.10,313.95 L1093.20,313.81 L1093.20,313.81 L1093.30,313.68 L1093.40,313.54 L1093.50,313.41 L1093.60,313.28 L1093.70,313.15 L1093.70,313.15 L1093.80,313.02 L1093.90,312.90 L1094.00,312.77 L1094.10,312.65 L1094.20,312.52 L1094.20,312.52 L1094.30,312.40 L1094.40,312.28 L1094.50,312.17 L1094.60,312.05 L1094.70,311.94 L1094.70,311.94 L1095.20,311.45 L1095.70,311.09 L1096.20,310.89 L1096.70,310.86 L1097.20,310.95 L1097.70,311.14 L1098.20,311.34 L1098.70,311.53 L1099.20,311.67 L1099.70,311.79 L1100.20,311.89 L1100.70,312.02 L1101.20,312.17 L1101.70,312.35 L1102.20,312.51 L1102.70,312.60 L1103.20,312.60 L1103.70,312.47 L1104.20,312.23 L1104.70,311.92 L1105.20,311.60 L1105.70,311.34 L1106.20,311.18 L1106.70,311.12 L1107.20,311.15 L1107.70,311.23 L1108.20,311.32 L1108.70,311.38 L1109.20,311.41 L1109.70,311.43 L1110.20,311.46 L1110.70,311.55 L1111.20,311.70 L1111.70,311.90 L1112.20,312.12 L1112.70,312.31 L1113.20,312.42 L1113.70,312.41 L1114.20,312.29 L1114.70,312.10 L1115.20,311.89 L1115.70,311.70 L1116.20,311.58 L1116.70,311.54 L1117.20,311.56 L1117.70,311.60 L1118.20,311.61 L1118.70,311.59 L1119.20,311.51 L1119.70,311.43 L1120.20,311.36 L1120.70,311.36 L1121.20,311.44 L1121.70,311.59 L1122.20,311.79 L1122.70,311.99 L1123.20,312.12 L1123.70,312.17 L1124.20,312.13 L1124.70,312.02 L1125.20,311.90 L1125.70,311.80 L1126.20,311.77 L1126.70,311.80 L1127.20,311.86 L1127.70,311.93 L1128.20,311.95 L1128.70,311.91 L1129.20,311.80 L1129.70,311.65 L1130.20,311.52 L1130.70,311.43 L1131.20,311.43 L1131.70,311.51 L1132.20,311.64 L1132.70,311.78 L1133.20,311.87 L1133.70,311.90 L1134.20,311.87 L1134.70,311.79 L1135.20,311.71 L1135.70,311.67 L1136.20,311.71 L1136.70,311.81 L1137.20,311.96 L1137.70,312.09 L1138.20,312.18 L1138.70,312.18 L1139.20,312.10 L1139.70,311.96 L1140.20,311.82 L1140.70,311.70 L1141.20,311.65 L1141.70,311.67 L1142.20,311.73 L1142.70,311.79 L1143.20,311.81 L1143.70,311.77 L1144.20,311.67 L1144.70,311.55 L1145.20,311.45 L1145.70,311.41 L1146.20,311.47 L1146.70,311.61 L1147.20,311.81 L1147.70,312.02 L1148.20,312.18 L1148.70,312.27 L1149.20,312.27 L1149.70,312.21 L1150.20,312.12 L1150.70,312.04 L1151.20,312.01 L1151.70,312.01 L1152.20,312.04 L1152.70,312.04 L1153.20,311.99 L1153.70,311.87 L1154.20,311.68 L1154.70,311.47 L1155.20,311.28 L1155.70,311.17 L1156.20,311.18 L1156.70,311.29 L1157.20,311.49 L1157.70,311.73 L1158.20,311.95 L1158.70,312.11 L1159.20,312.21 L1159.70,312.25 L1160.20,312.27 L1160.70,312.30 L1161.20,312.36 L1161.70,312.43 L1162.20,312.50 L1162.70,312.52 L1163.20,312.46 L1163.70,312.29 L1164.20,312.03 L1164.70,311.73 L1165.20,311.44 L1165.70,311.24 L1166.20,311.15 L1166.70,311.19 L1167.20,311.36 L1167.70,311.60 L1168.20,311.89 L1168.70,312.19 L1168.90,312.32 L1169.00,312.38 L1169.10,312.45 L1169.20,312.51 L1169.20,312.51 L1169.30,312.58 L1169.40,312.65 L1169.50,312.72 L1169.60,312.80 L1169.70,312.88 L1169.70,312.88 L1169.80,312.97 L1169.90,313.06 L1170.00,313.16 L1170.10,313.26 L1170.20,313.37 L1170.20,313.37 L1170.30,313.48 L1170.40,313.61 L1170.50,313.75 L1170.60,313.89 L1170.70,314.05 L1170.70,314.05 L1170.80,314.22 L1170.90,314.40 L1171.00,313.89 L1171.10,314.05 L1171.20,314.23 L1171.20,314.23 L1171.30,314.44 L1171.40,314.67 L1171.50,314.92 L1171.60,315.19 L1171.70,315.50 L1171.70,315.50 L1171.80,315.83 L1171.90,316.20 L1172.00,316.61 L1172.10,317.05 L1172.20,317.55 L1172.20,317.55 L1172.30,318.09 L1172.40,318.68 L1172.50,319.34 L1172.60,320.06 L1172.70,320.86 L1172.70,320.86 L1172.80,321.74 L1172.90,322.72 L1173.00,323.80 L1173.10,325.00 L1173.20,326.34 L1173.20,326.34 L1173.30,327.84 L1173.40,329.51 L1173.50,331.38 L1173.60,333.48 L1173.70,335.85 L1173.70,335.85 L1173.80,338.54 L1173.90,341.60 L1174.00,345.10 L1174.10,349.15 L1174.20,353.88 L1174.20,353.88 L1174.30,359.47 L1174.40,366.22 L1174.50,374.60 L1174.60,385.45 L1174.70,400.48 L1174.70,400.48 L1174.80,423.55 L1174.90,449.80 L1175.00,423.52 L1175.10,400.42 L1175.20,385.36 L1175.20,385.36 L1175.30,374.49 L1175.40,366.08 L1175.50,359.31 L1175.60,353.70 L1175.70,348.96 L1175.70,348.96 L1175.80,344.90 L1175.90,341.39 L1176.00,338.34 L1176.10,335.66 L1176.20,333.30 L1176.20,333.30 L1176.30,331.21 L1176.40,329.36 L1176.50,327.72 L1176.60,326.26 L1176.70,324.95 L1176.70,324.95 L1176.80,323.79 L1176.90,322.75 L1177.00,321.82 L1177.10,320.98 L1177.20,320.23 L1177.20,320.23 L1177.30,319.56 L1177.40,318.95 L1177.50,318.41 L1177.60,317.92 L1177.70,317.47 L1177.70,317.47 L1177.80,317.06 L1177.90,316.70 L1178.00,316.36 L1178.10,316.05 L1178.20,315.77 L1178.20,315.77 L1178.30,315.51 L1178.40,315.27 L1178.50,315.05 L1178.60,314.85 L1178.70,314.65 L1178.70,314.65 L1178.80,314.47 L1178.90,314.30 L1179.00,314.75 L1179.10,314.55 L1179.20,314.35 L1179.20,314.35 L1179.30,314.16 L1179.40,313.98 L1179.50,313.80 L1179.60,313.63 L1179.70,313.46 L1179.70,313.46 L1179.80,313.30 L1179.90,313.14 L1180.00,312.99 L1180.10,312.84 L1180.20,312.70 L1180.20,312.70 L1180.30,312.57 L1180.40,312.44 L1180.50,312.32 L1180.60,312.21 L1180.70,312.10 L1180.70,312.10 L1180.80,312.00 L1181.20,311.66 L1181.70,311.39 L1182.20,311.27 L1182.70,311.26 L1183.20,311.30 L1183.70,311.37 L1184.20,311.44 L1184.70,311.54 L1185.20,311.68 L1185.70,311.88 L1186.20,312.14 L1186.70,312.45 L1187.20,312.74 L1187.70,312.98 L1188.20,313.10 L1188.70,313.08 L1189.20,312.91 L1189.70,312.64 L1190.20,312.33 L1190.70,312.03 L1191.20,311.78 L1191.70,311.62 L1192.20,311.53 L1192.70,311.49 L1193.20,311.45 L1193.70,311.42 L1194.20,311.38 L1194.70,311.35 L1195.20,311.39 L1195.70,311.50 L1196.20,311.71 L1196.70,311.99 L1197.20,312.31 L1197.70,312.60 L1198.20,312.81 L1198.70,312.89 L1199.20,312.86 L1199.70,312.72 L1200.20,312.54 L1200.70,312.35 L1201.20,312.19 L1201.70,312.09 L1202.20,312.02 L1202.70,311.97 L1203.20,311.89 L1203.70,311.79 L1204.20,311.66 L1204.70,311.53 L1205.20,311.46 L1205.70,311.47 L1206.20,311.59 L1206.70,311.80 L1207.20,312.07 L1207.70,312.35 L1208.20,312.57 L1208.70,312.70 L1209.20,312.73 L1209.70,312.68 L1210.20,312.60 L1210.70,312.51 L1211.20,312.45 L1211.70,312.42 L1212.20,312.42 L1212.70,312.40 L1213.20,312.34 L1213.70,312.22 L1214.20,312.06 L1214.70,311.88 L1215.20,311.74 L1215.70,311.68 L1216.20,311.72 L1216.70,311.86 L1217.20,312.06 L1217.70,312.28 L1218.20,312.48 L1218.70,312.60 L1219.20,312.65 L1219.70,312.64 L1220.20,312.61 L1220.70,312.59 L1221.20,312.61 L1221.70,312.67 L1222.20,312.77 L1222.70,312.85 L1223.20,312.90 L1223.70,312.90 L1224.20,312.85 L1224.70,312.80 L1225.20,312.78 L1225.70,312.84 L1226.20,313.00 L1226.70,313.25 L1227.20,313.56 L1227.70,313.89 L1228.20,314.21 L1228.70,314.50 L1229.20,314.76 L1229.70,315.00 L1230.20,315.24 L1230.70,315.52 L1231.20,315.82 L1231.70,316.14 L1232.20,316.48 L1232.70,316.80 L1233.20,317.11 L1233.70,317.40 L1234.20,317.72 L1234.70,318.11 L1235.20,318.60 L1235.70,319.16 L1236.20,319.78 L1236.70,320.47 L1237.20,321.23 L1237.70,322.05 L1238.20,322.94 L1238.70,323.89 L1239.20,324.91 L1239.70,325.99 L1240.20,327.14 L1240.70,328.50 L1241.20,330.13 L1241.70,332.02 L1242.20,334.14 L1242.70,336.49 L1243.20,339.04 L1243.70,341.78 L1244.20,344.69 L1244.70,347.76 L1245.20,350.98 L1245.70,354.29 L1246.20,357.69 L1246.70,361.44 L1247.20,365.84 L1247.70,371.19 L1248.20,377.76 L1248.70,386.48 L1249.20,408.62 L1249.70,419.16 L1250.20,411.86 L1250.70,398.30 L1251.20,383.76 L1251.70,373.50 L1252.20,367.43 L1252.70,361.95 L1253.20,357.11 L1253.70,352.96 L1254.20,349.52 L1254.70,346.85 L1255.20,344.85 L1255.70,343.04 L1256.20,341.37 L1256.70,339.83 L1257.20,338.41 L1257.70,337.11 L1258.20,335.93 L1258.70,334.87 L1259.20,333.93 L1259.70,333.09 L1260.20,332.36 L1260.70,331.73 L1261.20,331.19 L1261.70,330.73 L1262.20,330.29 L1262.70,329.85 L1263.20,329.44 L1263.70,329.05 L1264.20,328.68 L1264.70,328.33 L1265.20,328.02 L1265.70,327.74 L1266.20,327.50 L1266.70,327.29 L1267.20,327.12 L1267.70,327.00 L1268.20,326.93 L1268.70,326.90 L1269.20,326.93 L1269.70,327.01 L1270.20,327.14 L1270.70,327.32 L1271.20,327.54 L1271.70,327.80 L1272.20,328.10 L1272.70,328.43 L1273.20,328.79 L1273.70,329.18 L1274.20,329.59 L1274.70,330.02 L1275.20,330.47 L1275.70,330.93 L1276.20,331.40 L1276.70,331.87 L1277.20,332.35 L1277.70,332.83 L1278.20,333.30 L1278.70,333.79 L1279.20,334.32 L1279.70,334.89 L1280.20,335.50 L1280.70,336.14 L1281.20,336.82 L1281.70,337.53 L1282.20,338.27 L1282.70,339.05 L1283.20,339.85 L1283.70,340.67 L1284.20,341.53 L1284.70,342.41 L1285.20,343.31 L1285.70,344.23 L1286.20,345.17 L1286.70,346.13 L1287.20,347.11" fill="none" stroke="#0072BD" stroke-width="4.8" stroke-linejoin="round" stroke-linecap="butt" clip-path="url(#c6)"/>
<line x1="819.30" y1="56.90" x2="1002.10" y2="56.90" stroke="#FF0000" stroke-width="3.2" stroke-linecap="butt"/>
<path d="M809.10,56.90 L820.30,51.20 L820.30,62.60 Z M1012.30,56.90 L1001.10,51.20 L1001.10,62.60 Z" fill="#FF0000"/>
<line x1="923.20" y1="142.50" x2="1049.00" y2="142.50" stroke="#FF0000" stroke-width="3.2" stroke-linecap="butt"/>
<path d="M913.00,142.50 L924.20,136.80 L924.20,148.20 Z M1059.20,142.50 L1048.00,136.80 L1048.00,148.20 Z" fill="#FF0000"/>
<line x1="982.40" y1="246.80" x2="1068.00" y2="246.80" stroke="#FF0000" stroke-width="3.2" stroke-linecap="butt"/>
<path d="M972.20,246.80 L983.40,241.10 L983.40,252.50 Z M1078.20,246.80 L1067.00,241.10 L1067.00,252.50 Z" fill="#FF0000"/>
<line x1="1017.20" y1="348.80" x2="1077.50" y2="348.80" stroke="#FF0000" stroke-width="3.2" stroke-linecap="butt"/>
<path d="M1007.00,348.80 L1018.20,343.10 L1018.20,354.50 Z M1087.70,348.80 L1076.50,343.10 L1076.50,354.50 Z" fill="#FF0000"/>
<text transform="translate(863.78,88.80) scale(0.93,1)" x="0" y="0" font-size="19.6" fill="#FF0000" font-weight="bold">FSR=16.6nm</text>
<text transform="translate(929.18,175.60) scale(0.93,1)" x="0" y="0" font-size="19.6" fill="#FF0000" font-weight="bold">FSR=11.6nm</text>
<text transform="translate(978.28,290.20) scale(0.93,1)" x="0" y="0" font-size="19.6" fill="#FF0000" font-weight="bold">FSR=8.5nm</text>
<text transform="translate(1000.78,394.40) scale(0.93,1)" x="0" y="0" font-size="19.6" fill="#FF0000" font-weight="bold">FSR=6.7nm</text>
<text x="1101.46" y="46.80" font-size="28.7" fill="#000" font-weight="bold">0μm</text>
<text x="1089.09" y="152.60" font-size="28.7" fill="#000" font-weight="bold">10μm</text>
<text x="1096.21" y="247.60" font-size="28.7" fill="#000" font-weight="bold">20μm</text>
<text x="1094.44" y="350.80" font-size="28.7" fill="#000" font-weight="bold">30μm</text>
<rect x="83.60" y="541.40" width="538.20" height="390.00" fill="none" stroke="#141414" stroke-width="3.1" stroke-linejoin="miter"/>
<line x1="191.24" y1="931.40" x2="191.24" y2="924.40" stroke="#141414" stroke-width="3.0" stroke-linecap="butt"/>
<line x1="191.24" y1="541.40" x2="191.24" y2="548.40" stroke="#141414" stroke-width="3.0" stroke-linecap="butt"/>
<line x1="298.88" y1="931.40" x2="298.88" y2="924.40" stroke="#141414" stroke-width="3.0" stroke-linecap="butt"/>
<line x1="298.88" y1="541.40" x2="298.88" y2="548.40" stroke="#141414" stroke-width="3.0" stroke-linecap="butt"/>
<line x1="406.52" y1="931.40" x2="406.52" y2="924.40" stroke="#141414" stroke-width="3.0" stroke-linecap="butt"/>
<line x1="406.52" y1="541.40" x2="406.52" y2="548.40" stroke="#141414" stroke-width="3.0" stroke-linecap="butt"/>
<line x1="514.16" y1="931.40" x2="514.16" y2="924.40" stroke="#141414" stroke-width="3.0" stroke-linecap="butt"/>
<line x1="514.16" y1="541.40" x2="514.16" y2="548.40" stroke="#141414" stroke-width="3.0" stroke-linecap="butt"/>
<line x1="105.13" y1="931.40" x2="105.13" y2="927.60" stroke="#141414" stroke-width="3.0" stroke-linecap="butt"/>
<line x1="105.13" y1="541.40" x2="105.13" y2="545.20" stroke="#141414" stroke-width="3.0" stroke-linecap="butt"/>
<line x1="126.66" y1="931.40" x2="126.66" y2="927.60" stroke="#141414" stroke-width="3.0" stroke-linecap="butt"/>
<line x1="126.66" y1="541.40" x2="126.66" y2="545.20" stroke="#141414" stroke-width="3.0" stroke-linecap="butt"/>
<line x1="148.18" y1="931.40" x2="148.18" y2="927.60" stroke="#141414" stroke-width="3.0" stroke-linecap="butt"/>
<line x1="148.18" y1="541.40" x2="148.18" y2="545.20" stroke="#141414" stroke-width="3.0" stroke-linecap="butt"/>
<line x1="169.71" y1="931.40" x2="169.71" y2="927.60" stroke="#141414" stroke-width="3.0" stroke-linecap="butt"/>
<line x1="169.71" y1="541.40" x2="169.71" y2="545.20" stroke="#141414" stroke-width="3.0" stroke-linecap="butt"/>
<line x1="212.77" y1="931.40" x2="212.77" y2="927.60" stroke="#141414" stroke-width="3.0" stroke-linecap="butt"/>
<line x1="212.77" y1="541.40" x2="212.77" y2="545.20" stroke="#141414" stroke-width="3.0" stroke-linecap="butt"/>
<line x1="234.30" y1="931.40" x2="234.30" y2="927.60" stroke="#141414" stroke-width="3.0" stroke-linecap="butt"/>
<line x1="234.30" y1="541.40" x2="234.30" y2="545.20" stroke="#141414" stroke-width="3.0" stroke-linecap="butt"/>
<line x1="255.82" y1="931.40" x2="255.82" y2="927.60" stroke="#141414" stroke-width="3.0" stroke-linecap="butt"/>
<line x1="255.82" y1="541.40" x2="255.82" y2="545.20" stroke="#141414" stroke-width="3.0" stroke-linecap="butt"/>
<line x1="277.35" y1="931.40" x2="277.35" y2="927.60" stroke="#141414" stroke-width="3.0" stroke-linecap="butt"/>
<line x1="277.35" y1="541.40" x2="277.35" y2="545.20" stroke="#141414" stroke-width="3.0" stroke-linecap="butt"/>
<line x1="320.41" y1="931.40" x2="320.41" y2="927.60" stroke="#141414" stroke-width="3.0" stroke-linecap="butt"/>
<line x1="320.41" y1="541.40" x2="320.41" y2="545.20" stroke="#141414" stroke-width="3.0" stroke-linecap="butt"/>
<line x1="341.94" y1="931.40" x2="341.94" y2="927.60" stroke="#141414" stroke-width="3.0" stroke-linecap="butt"/>
<line x1="341.94" y1="541.40" x2="341.94" y2="545.20" stroke="#141414" stroke-width="3.0" stroke-linecap="butt"/>
<line x1="363.46" y1="931.40" x2="363.46" y2="927.60" stroke="#141414" stroke-width="3.0" stroke-linecap="butt"/>
<line x1="363.46" y1="541.40" x2="363.46" y2="545.20" stroke="#141414" stroke-width="3.0" stroke-linecap="butt"/>
<line x1="384.99" y1="931.40" x2="384.99" y2="927.60" stroke="#141414" stroke-width="3.0" stroke-linecap="butt"/>
<line x1="384.99" y1="541.40" x2="384.99" y2="545.20" stroke="#141414" stroke-width="3.0" stroke-linecap="butt"/>
<line x1="428.05" y1="931.40" x2="428.05" y2="927.60" stroke="#141414" stroke-width="3.0" stroke-linecap="butt"/>
<line x1="428.05" y1="541.40" x2="428.05" y2="545.20" stroke="#141414" stroke-width="3.0" stroke-linecap="butt"/>
<line x1="449.58" y1="931.40" x2="449.58" y2="927.60" stroke="#141414" stroke-width="3.0" stroke-linecap="butt"/>
<line x1="449.58" y1="541.40" x2="449.58" y2="545.20" stroke="#141414" stroke-width="3.0" stroke-linecap="butt"/>
<line x1="471.10" y1="931.40" x2="471.10" y2="927.60" stroke="#141414" stroke-width="3.0" stroke-linecap="butt"/>
<line x1="471.10" y1="541.40" x2="471.10" y2="545.20" stroke="#141414" stroke-width="3.0" stroke-linecap="butt"/>
<line x1="492.63" y1="931.40" x2="492.63" y2="927.60" stroke="#141414" stroke-width="3.0" stroke-linecap="butt"/>
<line x1="492.63" y1="541.40" x2="492.63" y2="545.20" stroke="#141414" stroke-width="3.0" stroke-linecap="butt"/>
<line x1="535.69" y1="931.40" x2="535.69" y2="927.60" stroke="#141414" stroke-width="3.0" stroke-linecap="butt"/>
<line x1="535.69" y1="541.40" x2="535.69" y2="545.20" stroke="#141414" stroke-width="3.0" stroke-linecap="butt"/>
<line x1="557.22" y1="931.40" x2="557.22" y2="927.60" stroke="#141414" stroke-width="3.0" stroke-linecap="butt"/>
<line x1="557.22" y1="541.40" x2="557.22" y2="545.20" stroke="#141414" stroke-width="3.0" stroke-linecap="butt"/>
<line x1="578.74" y1="931.40" x2="578.74" y2="927.60" stroke="#141414" stroke-width="3.0" stroke-linecap="butt"/>
<line x1="578.74" y1="541.40" x2="578.74" y2="545.20" stroke="#141414" stroke-width="3.0" stroke-linecap="butt"/>
<line x1="600.27" y1="931.40" x2="600.27" y2="927.60" stroke="#141414" stroke-width="3.0" stroke-linecap="butt"/>
<line x1="600.27" y1="541.40" x2="600.27" y2="545.20" stroke="#141414" stroke-width="3.0" stroke-linecap="butt"/>
<line x1="83.60" y1="853.40" x2="90.60" y2="853.40" stroke="#141414" stroke-width="3.0" stroke-linecap="butt"/>
<line x1="621.80" y1="853.40" x2="614.80" y2="853.40" stroke="#141414" stroke-width="3.0" stroke-linecap="butt"/>
<line x1="83.60" y1="775.40" x2="90.60" y2="775.40" stroke="#141414" stroke-width="3.0" stroke-linecap="butt"/>
<line x1="621.80" y1="775.40" x2="614.80" y2="775.40" stroke="#141414" stroke-width="3.0" stroke-linecap="butt"/>
<line x1="83.60" y1="697.40" x2="90.60" y2="697.40" stroke="#141414" stroke-width="3.0" stroke-linecap="butt"/>
<line x1="621.80" y1="697.40" x2="614.80" y2="697.40" stroke="#141414" stroke-width="3.0" stroke-linecap="butt"/>
<line x1="83.60" y1="619.40" x2="90.60" y2="619.40" stroke="#141414" stroke-width="3.0" stroke-linecap="butt"/>
<line x1="621.80" y1="619.40" x2="614.80" y2="619.40" stroke="#141414" stroke-width="3.0" stroke-linecap="butt"/>
<line x1="83.60" y1="915.80" x2="87.40" y2="915.80" stroke="#141414" stroke-width="3.0" stroke-linecap="butt"/>
<line x1="621.80" y1="915.80" x2="618.00" y2="915.80" stroke="#141414" stroke-width="3.0" stroke-linecap="butt"/>
<line x1="83.60" y1="900.20" x2="87.40" y2="900.20" stroke="#141414" stroke-width="3.0" stroke-linecap="butt"/>
<line x1="621.80" y1="900.20" x2="618.00" y2="900.20" stroke="#141414" stroke-width="3.0" stroke-linecap="butt"/>
<line x1="83.60" y1="884.60" x2="87.40" y2="884.60" stroke="#141414" stroke-width="3.0" stroke-linecap="butt"/>
<line x1="621.80" y1="884.60" x2="618.00" y2="884.60" stroke="#141414" stroke-width="3.0" stroke-linecap="butt"/>
<line x1="83.60" y1="869.00" x2="87.40" y2="869.00" stroke="#141414" stroke-width="3.0" stroke-linecap="butt"/>
<line x1="621.80" y1="869.00" x2="618.00" y2="869.00" stroke="#141414" stroke-width="3.0" stroke-linecap="butt"/>
<line x1="83.60" y1="837.80" x2="87.40" y2="837.80" stroke="#141414" stroke-width="3.0" stroke-linecap="butt"/>
<line x1="621.80" y1="837.80" x2="618.00" y2="837.80" stroke="#141414" stroke-width="3.0" stroke-linecap="butt"/>
<line x1="83.60" y1="822.20" x2="87.40" y2="822.20" stroke="#141414" stroke-width="3.0" stroke-linecap="butt"/>
<line x1="621.80" y1="822.20" x2="618.00" y2="822.20" stroke="#141414" stroke-width="3.0" stroke-linecap="butt"/>
<line x1="83.60" y1="806.60" x2="87.40" y2="806.60" stroke="#141414" stroke-width="3.0" stroke-linecap="butt"/>
<line x1="621.80" y1="806.60" x2="618.00" y2="806.60" stroke="#141414" stroke-width="3.0" stroke-linecap="butt"/>
<line x1="83.60" y1="791.00" x2="87.40" y2="791.00" stroke="#141414" stroke-width="3.0" stroke-linecap="butt"/>
<line x1="621.80" y1="791.00" x2="618.00" y2="791.00" stroke="#141414" stroke-width="3.0" stroke-linecap="butt"/>
<line x1="83.60" y1="759.80" x2="87.40" y2="759.80" stroke="#141414" stroke-width="3.0" stroke-linecap="butt"/>
<line x1="621.80" y1="759.80" x2="618.00" y2="759.80" stroke="#141414" stroke-width="3.0" stroke-linecap="butt"/>
<line x1="83.60" y1="744.20" x2="87.40" y2="744.20" stroke="#141414" stroke-width="3.0" stroke-linecap="butt"/>
<line x1="621.80" y1="744.20" x2="618.00" y2="744.20" stroke="#141414" stroke-width="3.0" stroke-linecap="butt"/>
<line x1="83.60" y1="728.60" x2="87.40" y2="728.60" stroke="#141414" stroke-width="3.0" stroke-linecap="butt"/>
<line x1="621.80" y1="728.60" x2="618.00" y2="728.60" stroke="#141414" stroke-width="3.0" stroke-linecap="butt"/>
<line x1="83.60" y1="713.00" x2="87.40" y2="713.00" stroke="#141414" stroke-width="3.0" stroke-linecap="butt"/>
<line x1="621.80" y1="713.00" x2="618.00" y2="713.00" stroke="#141414" stroke-width="3.0" stroke-linecap="butt"/>
<line x1="83.60" y1="681.80" x2="87.40" y2="681.80" stroke="#141414" stroke-width="3.0" stroke-linecap="butt"/>
<line x1="621.80" y1="681.80" x2="618.00" y2="681.80" stroke="#141414" stroke-width="3.0" stroke-linecap="butt"/>
<line x1="83.60" y1="666.20" x2="87.40" y2="666.20" stroke="#141414" stroke-width="3.0" stroke-linecap="butt"/>
<line x1="621.80" y1="666.20" x2="618.00" y2="666.20" stroke="#141414" stroke-width="3.0" stroke-linecap="butt"/>
<line x1="83.60" y1="650.60" x2="87.40" y2="650.60" stroke="#141414" stroke-width="3.0" stroke-linecap="butt"/>
<line x1="621.80" y1="650.60" x2="618.00" y2="650.60" stroke="#141414" stroke-width="3.0" stroke-linecap="butt"/>
<line x1="83.60" y1="635.00" x2="87.40" y2="635.00" stroke="#141414" stroke-width="3.0" stroke-linecap="butt"/>
<line x1="621.80" y1="635.00" x2="618.00" y2="635.00" stroke="#141414" stroke-width="3.0" stroke-linecap="butt"/>
<line x1="83.60" y1="603.80" x2="87.40" y2="603.80" stroke="#141414" stroke-width="3.0" stroke-linecap="butt"/>
<line x1="621.80" y1="603.80" x2="618.00" y2="603.80" stroke="#141414" stroke-width="3.0" stroke-linecap="butt"/>
<line x1="83.60" y1="588.20" x2="87.40" y2="588.20" stroke="#141414" stroke-width="3.0" stroke-linecap="butt"/>
<line x1="621.80" y1="588.20" x2="618.00" y2="588.20" stroke="#141414" stroke-width="3.0" stroke-linecap="butt"/>
<line x1="83.60" y1="572.60" x2="87.40" y2="572.60" stroke="#141414" stroke-width="3.0" stroke-linecap="butt"/>
<line x1="621.80" y1="572.60" x2="618.00" y2="572.60" stroke="#141414" stroke-width="3.0" stroke-linecap="butt"/>
<line x1="83.60" y1="557.00" x2="87.40" y2="557.00" stroke="#141414" stroke-width="3.0" stroke-linecap="butt"/>
<line x1="621.80" y1="557.00" x2="618.00" y2="557.00" stroke="#141414" stroke-width="3.0" stroke-linecap="butt"/>
<text transform="translate(64.81,973.50) scale(0.955,1)" x="0" y="0" font-size="34.6" fill="#141414">10</text>
<text transform="translate(172.88,973.50) scale(0.955,1)" x="0" y="0" font-size="34.6" fill="#141414">20</text>
<text transform="translate(280.72,973.50) scale(0.955,1)" x="0" y="0" font-size="34.6" fill="#141414">30</text>
<text transform="translate(388.61,973.50) scale(0.955,1)" x="0" y="0" font-size="34.6" fill="#141414">40</text>
<text transform="translate(495.97,973.50) scale(0.955,1)" x="0" y="0" font-size="34.6" fill="#141414">50</text>
<text transform="translate(603.43,973.50) scale(0.955,1)" x="0" y="0" font-size="34.6" fill="#141414">60</text>
<text transform="translate(54.81,944.21) scale(0.955,1)" x="0" y="0" font-size="34.6" fill="#141414">0</text>
<text transform="translate(55.14,866.20) scale(0.955,1)" x="0" y="0" font-size="34.6" fill="#141414">1</text>
<text transform="translate(55.18,788.38) scale(0.955,1)" x="0" y="0" font-size="34.6" fill="#141414">2</text>
<text transform="translate(54.98,710.21) scale(0.955,1)" x="0" y="0" font-size="34.6" fill="#141414">3</text>
<text transform="translate(54.49,632.20) scale(0.955,1)" x="0" y="0" font-size="34.6" fill="#141414">4</text>
<text transform="translate(54.91,554.03) scale(0.955,1)" x="0" y="0" font-size="34.6" fill="#141414">5</text>
<line x1="89.20" y1="519.60" x2="103.60" y2="534.00" stroke="#141414" stroke-width="1.9" stroke-linecap="butt"/>
<line x1="89.20" y1="534.00" x2="103.60" y2="519.60" stroke="#141414" stroke-width="1.9" stroke-linecap="butt"/>
<text x="110.09" y="535.20" font-size="33" fill="#141414">10</text>
<text x="146.84" y="517.70" font-size="24.5" fill="#141414">4</text>
<text x="230.35" y="1014.80" font-size="36.3" fill="#141414">Period Number</text>
<text transform="translate(43.20,735.70) rotate(-90)" x="-66.84" y="0" font-size="36.7" fill="#141414">Q-factor</text>
<text x="0.26" y="1007.90" font-size="41.0" fill="#000" font-weight="bold">(c)</text>
<path d="M83.60,926.72 L191.24,917.36 L298.88,901.76 L406.52,870.56 L514.16,814.40 L621.80,752.78" fill="none" stroke="#0072BD" stroke-width="5.0" stroke-linejoin="round" stroke-linecap="butt" clip-path="url(#c7)"/>
<path d="M83.60,923.21 L191.24,911.12 L298.88,888.50 L406.52,842.48 L514.16,757.46 L621.80,663.08" fill="none" stroke="#D95319" stroke-width="5.0" stroke-linejoin="round" stroke-linecap="butt" clip-path="url(#c8)"/>
<path d="M83.60,920.48 L191.24,904.10 L298.88,873.68 L406.52,814.40 L514.16,709.10 L621.80,600.68" fill="none" stroke="#EDB120" stroke-width="5.0" stroke-linejoin="round" stroke-linecap="butt" clip-path="url(#c9)"/>
<path d="M83.60,916.58 L191.24,896.30 L298.88,858.08 L406.52,785.54 L514.16,664.64 L621.80,546.08" fill="none" stroke="#7E2F8E" stroke-width="5.0" stroke-linejoin="round" stroke-linecap="butt" clip-path="url(#c10)"/>
<line x1="102.80" y1="582.60" x2="152.40" y2="582.60" stroke="#0072BD" stroke-width="5.0" stroke-linecap="butt"/>
<text x="155.60" y="586.70" font-size="29.2" fill="#141414">L</text>
<text x="173.33" y="601.60" font-size="23" fill="#141414">wg</text>
<text x="203.47" y="586.70" font-size="29.2" fill="#141414">=0μm</text>
<line x1="102.80" y1="631.05" x2="152.40" y2="631.05" stroke="#D95319" stroke-width="5.0" stroke-linecap="butt"/>
<text x="155.60" y="635.15" font-size="29.2" fill="#141414">L</text>
<text x="173.33" y="650.05" font-size="23" fill="#141414">wg</text>
<text x="203.47" y="635.15" font-size="29.2" fill="#141414">=10μm</text>
<line x1="102.80" y1="679.50" x2="152.40" y2="679.50" stroke="#EDB120" stroke-width="5.0" stroke-linecap="butt"/>
<text x="155.60" y="683.60" font-size="29.2" fill="#141414">L</text>
<text x="173.33" y="698.50" font-size="23" fill="#141414">wg</text>
<text x="203.47" y="683.60" font-size="29.2" fill="#141414">=20μm</text>
<line x1="102.80" y1="727.95" x2="152.40" y2="727.95" stroke="#7E2F8E" stroke-width="5.0" stroke-linecap="butt"/>
<text x="155.60" y="732.05" font-size="29.2" fill="#141414">L</text>
<text x="173.33" y="746.95" font-size="23" fill="#141414">wg</text>
<text x="203.47" y="732.05" font-size="29.2" fill="#141414">=30μm</text>
<rect x="774.00" y="541.60" width="516.80" height="390.90" fill="none" stroke="#141414" stroke-width="3.1" stroke-linejoin="miter"/>
<line x1="877.36" y1="932.50" x2="877.36" y2="925.50" stroke="#141414" stroke-width="3.0" stroke-linecap="butt"/>
<line x1="877.36" y1="541.60" x2="877.36" y2="548.60" stroke="#141414" stroke-width="3.0" stroke-linecap="butt"/>
<line x1="980.72" y1="932.50" x2="980.72" y2="925.50" stroke="#141414" stroke-width="3.0" stroke-linecap="butt"/>
<line x1="980.72" y1="541.60" x2="980.72" y2="548.60" stroke="#141414" stroke-width="3.0" stroke-linecap="butt"/>
<line x1="1084.08" y1="932.50" x2="1084.08" y2="925.50" stroke="#141414" stroke-width="3.0" stroke-linecap="butt"/>
<line x1="1084.08" y1="541.60" x2="1084.08" y2="548.60" stroke="#141414" stroke-width="3.0" stroke-linecap="butt"/>
<line x1="1187.44" y1="932.50" x2="1187.44" y2="925.50" stroke="#141414" stroke-width="3.0" stroke-linecap="butt"/>
<line x1="1187.44" y1="541.60" x2="1187.44" y2="548.60" stroke="#141414" stroke-width="3.0" stroke-linecap="butt"/>
<line x1="794.67" y1="932.50" x2="794.67" y2="928.70" stroke="#141414" stroke-width="3.0" stroke-linecap="butt"/>
<line x1="794.67" y1="541.60" x2="794.67" y2="545.40" stroke="#141414" stroke-width="3.0" stroke-linecap="butt"/>
<line x1="815.34" y1="932.50" x2="815.34" y2="928.70" stroke="#141414" stroke-width="3.0" stroke-linecap="butt"/>
<line x1="815.34" y1="541.60" x2="815.34" y2="545.40" stroke="#141414" stroke-width="3.0" stroke-linecap="butt"/>
<line x1="836.02" y1="932.50" x2="836.02" y2="928.70" stroke="#141414" stroke-width="3.0" stroke-linecap="butt"/>
<line x1="836.02" y1="541.60" x2="836.02" y2="545.40" stroke="#141414" stroke-width="3.0" stroke-linecap="butt"/>
<line x1="856.69" y1="932.50" x2="856.69" y2="928.70" stroke="#141414" stroke-width="3.0" stroke-linecap="butt"/>
<line x1="856.69" y1="541.60" x2="856.69" y2="545.40" stroke="#141414" stroke-width="3.0" stroke-linecap="butt"/>
<line x1="898.03" y1="932.50" x2="898.03" y2="928.70" stroke="#141414" stroke-width="3.0" stroke-linecap="butt"/>
<line x1="898.03" y1="541.60" x2="898.03" y2="545.40" stroke="#141414" stroke-width="3.0" stroke-linecap="butt"/>
<line x1="918.70" y1="932.50" x2="918.70" y2="928.70" stroke="#141414" stroke-width="3.0" stroke-linecap="butt"/>
<line x1="918.70" y1="541.60" x2="918.70" y2="545.40" stroke="#141414" stroke-width="3.0" stroke-linecap="butt"/>
<line x1="939.38" y1="932.50" x2="939.38" y2="928.70" stroke="#141414" stroke-width="3.0" stroke-linecap="butt"/>
<line x1="939.38" y1="541.60" x2="939.38" y2="545.40" stroke="#141414" stroke-width="3.0" stroke-linecap="butt"/>
<line x1="960.05" y1="932.50" x2="960.05" y2="928.70" stroke="#141414" stroke-width="3.0" stroke-linecap="butt"/>
<line x1="960.05" y1="541.60" x2="960.05" y2="545.40" stroke="#141414" stroke-width="3.0" stroke-linecap="butt"/>
<line x1="1001.39" y1="932.50" x2="1001.39" y2="928.70" stroke="#141414" stroke-width="3.0" stroke-linecap="butt"/>
<line x1="1001.39" y1="541.60" x2="1001.39" y2="545.40" stroke="#141414" stroke-width="3.0" stroke-linecap="butt"/>
<line x1="1022.06" y1="932.50" x2="1022.06" y2="928.70" stroke="#141414" stroke-width="3.0" stroke-linecap="butt"/>
<line x1="1022.06" y1="541.60" x2="1022.06" y2="545.40" stroke="#141414" stroke-width="3.0" stroke-linecap="butt"/>
<line x1="1042.74" y1="932.50" x2="1042.74" y2="928.70" stroke="#141414" stroke-width="3.0" stroke-linecap="butt"/>
<line x1="1042.74" y1="541.60" x2="1042.74" y2="545.40" stroke="#141414" stroke-width="3.0" stroke-linecap="butt"/>
<line x1="1063.41" y1="932.50" x2="1063.41" y2="928.70" stroke="#141414" stroke-width="3.0" stroke-linecap="butt"/>
<line x1="1063.41" y1="541.60" x2="1063.41" y2="545.40" stroke="#141414" stroke-width="3.0" stroke-linecap="butt"/>
<line x1="1104.75" y1="932.50" x2="1104.75" y2="928.70" stroke="#141414" stroke-width="3.0" stroke-linecap="butt"/>
<line x1="1104.75" y1="541.60" x2="1104.75" y2="545.40" stroke="#141414" stroke-width="3.0" stroke-linecap="butt"/>
<line x1="1125.42" y1="932.50" x2="1125.42" y2="928.70" stroke="#141414" stroke-width="3.0" stroke-linecap="butt"/>
<line x1="1125.42" y1="541.60" x2="1125.42" y2="545.40" stroke="#141414" stroke-width="3.0" stroke-linecap="butt"/>
<line x1="1146.10" y1="932.50" x2="1146.10" y2="928.70" stroke="#141414" stroke-width="3.0" stroke-linecap="butt"/>
<line x1="1146.10" y1="541.60" x2="1146.10" y2="545.40" stroke="#141414" stroke-width="3.0" stroke-linecap="butt"/>
<line x1="1166.77" y1="932.50" x2="1166.77" y2="928.70" stroke="#141414" stroke-width="3.0" stroke-linecap="butt"/>
<line x1="1166.77" y1="541.60" x2="1166.77" y2="545.40" stroke="#141414" stroke-width="3.0" stroke-linecap="butt"/>
<line x1="1208.11" y1="932.50" x2="1208.11" y2="928.70" stroke="#141414" stroke-width="3.0" stroke-linecap="butt"/>
<line x1="1208.11" y1="541.60" x2="1208.11" y2="545.40" stroke="#141414" stroke-width="3.0" stroke-linecap="butt"/>
<line x1="1228.78" y1="932.50" x2="1228.78" y2="928.70" stroke="#141414" stroke-width="3.0" stroke-linecap="butt"/>
<line x1="1228.78" y1="541.60" x2="1228.78" y2="545.40" stroke="#141414" stroke-width="3.0" stroke-linecap="butt"/>
<line x1="1249.46" y1="932.50" x2="1249.46" y2="928.70" stroke="#141414" stroke-width="3.0" stroke-linecap="butt"/>
<line x1="1249.46" y1="541.60" x2="1249.46" y2="545.40" stroke="#141414" stroke-width="3.0" stroke-linecap="butt"/>
<line x1="1270.13" y1="932.50" x2="1270.13" y2="928.70" stroke="#141414" stroke-width="3.0" stroke-linecap="butt"/>
<line x1="1270.13" y1="541.60" x2="1270.13" y2="545.40" stroke="#141414" stroke-width="3.0" stroke-linecap="butt"/>
<line x1="774.00" y1="854.32" x2="781.00" y2="854.32" stroke="#141414" stroke-width="3.0" stroke-linecap="butt"/>
<line x1="1290.80" y1="854.32" x2="1283.80" y2="854.32" stroke="#141414" stroke-width="3.0" stroke-linecap="butt"/>
<line x1="774.00" y1="776.14" x2="781.00" y2="776.14" stroke="#141414" stroke-width="3.0" stroke-linecap="butt"/>
<line x1="1290.80" y1="776.14" x2="1283.80" y2="776.14" stroke="#141414" stroke-width="3.0" stroke-linecap="butt"/>
<line x1="774.00" y1="697.96" x2="781.00" y2="697.96" stroke="#141414" stroke-width="3.0" stroke-linecap="butt"/>
<line x1="1290.80" y1="697.96" x2="1283.80" y2="697.96" stroke="#141414" stroke-width="3.0" stroke-linecap="butt"/>
<line x1="774.00" y1="619.78" x2="781.00" y2="619.78" stroke="#141414" stroke-width="3.0" stroke-linecap="butt"/>
<line x1="1290.80" y1="619.78" x2="1283.80" y2="619.78" stroke="#141414" stroke-width="3.0" stroke-linecap="butt"/>
<line x1="774.00" y1="916.86" x2="777.80" y2="916.86" stroke="#141414" stroke-width="3.0" stroke-linecap="butt"/>
<line x1="1290.80" y1="916.86" x2="1287.00" y2="916.86" stroke="#141414" stroke-width="3.0" stroke-linecap="butt"/>
<line x1="774.00" y1="901.23" x2="777.80" y2="901.23" stroke="#141414" stroke-width="3.0" stroke-linecap="butt"/>
<line x1="1290.80" y1="901.23" x2="1287.00" y2="901.23" stroke="#141414" stroke-width="3.0" stroke-linecap="butt"/>
<line x1="774.00" y1="885.59" x2="777.80" y2="885.59" stroke="#141414" stroke-width="3.0" stroke-linecap="butt"/>
<line x1="1290.80" y1="885.59" x2="1287.00" y2="885.59" stroke="#141414" stroke-width="3.0" stroke-linecap="butt"/>
<line x1="774.00" y1="869.96" x2="777.80" y2="869.96" stroke="#141414" stroke-width="3.0" stroke-linecap="butt"/>
<line x1="1290.80" y1="869.96" x2="1287.00" y2="869.96" stroke="#141414" stroke-width="3.0" stroke-linecap="butt"/>
<line x1="774.00" y1="838.68" x2="777.80" y2="838.68" stroke="#141414" stroke-width="3.0" stroke-linecap="butt"/>
<line x1="1290.80" y1="838.68" x2="1287.00" y2="838.68" stroke="#141414" stroke-width="3.0" stroke-linecap="butt"/>
<line x1="774.00" y1="823.05" x2="777.80" y2="823.05" stroke="#141414" stroke-width="3.0" stroke-linecap="butt"/>
<line x1="1290.80" y1="823.05" x2="1287.00" y2="823.05" stroke="#141414" stroke-width="3.0" stroke-linecap="butt"/>
<line x1="774.00" y1="807.41" x2="777.80" y2="807.41" stroke="#141414" stroke-width="3.0" stroke-linecap="butt"/>
<line x1="1290.80" y1="807.41" x2="1287.00" y2="807.41" stroke="#141414" stroke-width="3.0" stroke-linecap="butt"/>
<line x1="774.00" y1="791.78" x2="777.80" y2="791.78" stroke="#141414" stroke-width="3.0" stroke-linecap="butt"/>
<line x1="1290.80" y1="791.78" x2="1287.00" y2="791.78" stroke="#141414" stroke-width="3.0" stroke-linecap="butt"/>
<line x1="774.00" y1="760.50" x2="777.80" y2="760.50" stroke="#141414" stroke-width="3.0" stroke-linecap="butt"/>
<line x1="1290.80" y1="760.50" x2="1287.00" y2="760.50" stroke="#141414" stroke-width="3.0" stroke-linecap="butt"/>
<line x1="774.00" y1="744.87" x2="777.80" y2="744.87" stroke="#141414" stroke-width="3.0" stroke-linecap="butt"/>
<line x1="1290.80" y1="744.87" x2="1287.00" y2="744.87" stroke="#141414" stroke-width="3.0" stroke-linecap="butt"/>
<line x1="774.00" y1="729.23" x2="777.80" y2="729.23" stroke="#141414" stroke-width="3.0" stroke-linecap="butt"/>
<line x1="1290.80" y1="729.23" x2="1287.00" y2="729.23" stroke="#141414" stroke-width="3.0" stroke-linecap="butt"/>
<line x1="774.00" y1="713.60" x2="777.80" y2="713.60" stroke="#141414" stroke-width="3.0" stroke-linecap="butt"/>
<line x1="1290.80" y1="713.60" x2="1287.00" y2="713.60" stroke="#141414" stroke-width="3.0" stroke-linecap="butt"/>
<line x1="774.00" y1="682.32" x2="777.80" y2="682.32" stroke="#141414" stroke-width="3.0" stroke-linecap="butt"/>
<line x1="1290.80" y1="682.32" x2="1287.00" y2="682.32" stroke="#141414" stroke-width="3.0" stroke-linecap="butt"/>
<line x1="774.00" y1="666.69" x2="777.80" y2="666.69" stroke="#141414" stroke-width="3.0" stroke-linecap="butt"/>
<line x1="1290.80" y1="666.69" x2="1287.00" y2="666.69" stroke="#141414" stroke-width="3.0" stroke-linecap="butt"/>
<line x1="774.00" y1="651.05" x2="777.80" y2="651.05" stroke="#141414" stroke-width="3.0" stroke-linecap="butt"/>
<line x1="1290.80" y1="651.05" x2="1287.00" y2="651.05" stroke="#141414" stroke-width="3.0" stroke-linecap="butt"/>
<line x1="774.00" y1="635.42" x2="777.80" y2="635.42" stroke="#141414" stroke-width="3.0" stroke-linecap="butt"/>
<line x1="1290.80" y1="635.42" x2="1287.00" y2="635.42" stroke="#141414" stroke-width="3.0" stroke-linecap="butt"/>
<line x1="774.00" y1="604.14" x2="777.80" y2="604.14" stroke="#141414" stroke-width="3.0" stroke-linecap="butt"/>
<line x1="1290.80" y1="604.14" x2="1287.00" y2="604.14" stroke="#141414" stroke-width="3.0" stroke-linecap="butt"/>
<line x1="774.00" y1="588.51" x2="777.80" y2="588.51" stroke="#141414" stroke-width="3.0" stroke-linecap="butt"/>
<line x1="1290.80" y1="588.51" x2="1287.00" y2="588.51" stroke="#141414" stroke-width="3.0" stroke-linecap="butt"/>
<line x1="774.00" y1="572.87" x2="777.80" y2="572.87" stroke="#141414" stroke-width="3.0" stroke-linecap="butt"/>
<line x1="1290.80" y1="572.87" x2="1287.00" y2="572.87" stroke="#141414" stroke-width="3.0" stroke-linecap="butt"/>
<line x1="774.00" y1="557.24" x2="777.80" y2="557.24" stroke="#141414" stroke-width="3.0" stroke-linecap="butt"/>
<line x1="1290.80" y1="557.24" x2="1287.00" y2="557.24" stroke="#141414" stroke-width="3.0" stroke-linecap="butt"/>
<text transform="translate(755.15,974.20) scale(0.957,1)" x="0" y="0" font-size="35.0" fill="#141414">10</text>
<text transform="translate(858.94,974.20) scale(0.957,1)" x="0" y="0" font-size="35.0" fill="#141414">20</text>
<text transform="translate(962.51,974.20) scale(0.957,1)" x="0" y="0" font-size="35.0" fill="#141414">30</text>
<text transform="translate(1066.12,974.20) scale(0.957,1)" x="0" y="0" font-size="35.0" fill="#141414">40</text>
<text transform="translate(1169.20,974.20) scale(0.957,1)" x="0" y="0" font-size="35.0" fill="#141414">50</text>
<text transform="translate(1272.38,974.20) scale(0.957,1)" x="0" y="0" font-size="35.0" fill="#141414">60</text>
<text transform="translate(745.48,945.15) scale(0.957,1)" x="0" y="0" font-size="35.0" fill="#141414">0</text>
<text transform="translate(726.85,866.97) scale(0.957,1)" x="0" y="0" font-size="35.0" fill="#141414">50</text>
<text transform="translate(708.22,788.79) scale(0.957,1)" x="0" y="0" font-size="35.0" fill="#141414">100</text>
<text transform="translate(708.22,710.61) scale(0.957,1)" x="0" y="0" font-size="35.0" fill="#141414">150</text>
<text transform="translate(708.22,632.43) scale(0.957,1)" x="0" y="0" font-size="35.0" fill="#141414">200</text>
<text transform="translate(708.22,554.25) scale(0.957,1)" x="0" y="0" font-size="35.0" fill="#141414">250</text>
<text x="910.35" y="1014.80" font-size="36.3" fill="#141414">Period Number</text>
<text transform="translate(697.30,736.00) rotate(-90)" x="-135.72" y="0" font-size="36.9" fill="#141414">Bandwidth(GHz)</text>
<text x="663.96" y="1007.90" font-size="41.0" fill="#000" font-weight="bold">(d)</text>
<path d="M774.00,543.16 L877.36,767.85 L980.72,854.32 L1084.08,894.82 L1187.44,912.80 L1290.80,919.21" fill="none" stroke="#0072BD" stroke-width="5.0" stroke-linejoin="round" stroke-linecap="butt" clip-path="url(#c11)"/>
<path d="M774.00,660.90 L877.36,817.89 L980.72,878.71 L1084.08,906.86 L1187.44,918.43 L1290.80,923.12" fill="none" stroke="#D95319" stroke-width="5.0" stroke-linejoin="round" stroke-linecap="butt" clip-path="url(#c12)"/>
<path d="M774.00,733.45 L877.36,847.60 L980.72,892.63 L1084.08,912.02 L1187.44,920.46 L1290.80,924.37" fill="none" stroke="#EDB120" stroke-width="5.0" stroke-linejoin="round" stroke-linecap="butt" clip-path="url(#c13)"/>
<path d="M774.00,777.70 L877.36,866.36 L980.72,900.76 L1084.08,916.71 L1187.44,923.59 L1290.80,926.40" fill="none" stroke="#7E2F8E" stroke-width="5.0" stroke-linejoin="round" stroke-linecap="butt" clip-path="url(#c14)"/>
<line x1="1078.80" y1="580.40" x2="1128.40" y2="580.40" stroke="#0072BD" stroke-width="5.0" stroke-linecap="butt"/>
<text x="1132.09" y="585.30" font-size="29.4" fill="#141414">L</text>
<text x="1149.43" y="599.00" font-size="23" fill="#141414">wg</text>
<text x="1179.55" y="585.30" font-size="29.6" fill="#141414">=0μm</text>
<line x1="1078.80" y1="628.97" x2="1128.40" y2="628.97" stroke="#D95319" stroke-width="5.0" stroke-linecap="butt"/>
<text x="1132.09" y="633.87" font-size="29.4" fill="#141414">L</text>
<text x="1149.43" y="647.57" font-size="23" fill="#141414">wg</text>
<text x="1179.55" y="633.87" font-size="29.6" fill="#141414">=10μm</text>
<line x1="1078.80" y1="677.54" x2="1128.40" y2="677.54" stroke="#EDB120" stroke-width="5.0" stroke-linecap="butt"/>
<text x="1132.09" y="682.44" font-size="29.4" fill="#141414">L</text>
<text x="1149.43" y="696.14" font-size="23" fill="#141414">wg</text>
<text x="1179.55" y="682.44" font-size="29.6" fill="#141414">=20μm</text>
<line x1="1078.80" y1="726.11" x2="1128.40" y2="726.11" stroke="#7E2F8E" stroke-width="5.0" stroke-linecap="butt"/>
<text x="1132.09" y="731.01" font-size="29.4" fill="#141414">L</text>
<text x="1149.43" y="744.71" font-size="23" fill="#141414">wg</text>
<text x="1179.55" y="731.01" font-size="29.6" fill="#141414">=30μm</text>
</svg>
</body></html>
